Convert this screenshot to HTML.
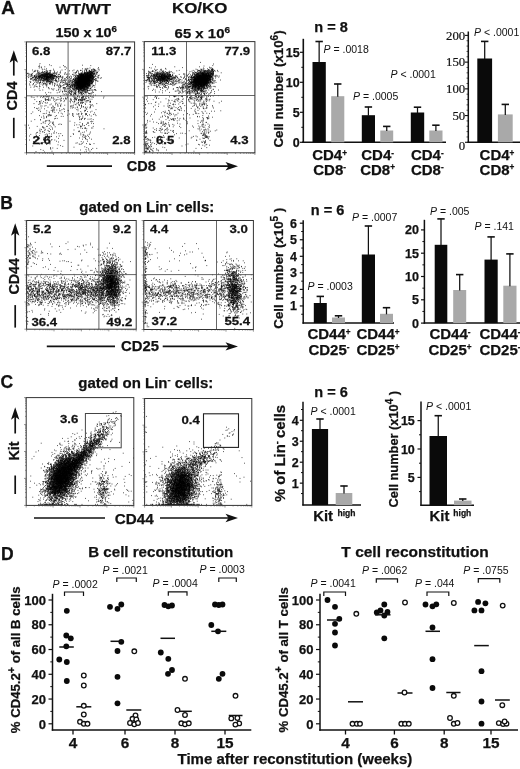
<!DOCTYPE html>
<html lang="en"><head><meta charset="utf-8"><title>Figure</title>
<style>html,body{margin:0;padding:0;background:#fff}svg{display:block}text{font-family:"Liberation Sans",sans-serif;fill:#111}text[font-weight=bold]{stroke:#111;stroke-width:.25px}text[style]{stroke:#111;stroke-width:.2px}</style>
</head><body>
<svg width="520" height="769" viewBox="0 0 520 769">
<rect width="520" height="769" fill="#fff"/>
<text transform="translate(1.3 13.8) scale(1.08 1)" font-size="17.5" font-weight="bold">A</text>
<text x="55.4" y="14.2" font-size="15.5" font-weight="bold" textLength="55.6" lengthAdjust="spacingAndGlyphs">WT/WT</text>
<text x="172" y="13.2" font-size="15.5" font-weight="bold" textLength="55.3" lengthAdjust="spacingAndGlyphs">KO/KO</text>
<text x="55.4" y="37.3" font-size="13.5" font-weight="bold" textLength="61.6" lengthAdjust="spacingAndGlyphs">150 x 10<tspan font-size="9" dy="-5">6</tspan></text>
<text x="174.6" y="38" font-size="13.5" font-weight="bold" textLength="55.4" lengthAdjust="spacingAndGlyphs">65 x 10<tspan font-size="9" dy="-5">6</tspan></text>
<path transform="scale(0.4)" d="M99 159h2M123 162h2M98 163h2m105 0h2M127 164h2m29 0h2m66 0h2M96 166h2M98 167h2m11 0h2m48 0h2m-1 0h2M102 168h2m-1 0h2m44 0h2M245 169h2M97 170h2m66 0h2m57 0h2M217 171h2M104 172h2m9 0h2m88 0h2m5 0h2m0 0h2m3 0h2m11 0h2m10 0h2M110 173h2m21 0h2m99 0h2m10 0h2M106 174h2m54 0h2m48 0h2m2 0h2m10 0h2m1 0h2m3 0h2M80 175h2m32 0h2m38 0h2m28 0h2m30 0h2m15 0h2m-1 0h2m-1 0h2m-1 0h2m9 0h2M87 176h2m3 0h2m32 0h2m6 0h2m57 0h2m5 0h2m-1 0h2m1 0h2m5 0h2m2 0h2m5 0h2m-1 0h2m2 0h2m0 0h2m5 0h2m1 0h2M94 177h2m19 0h2m0 0h2m3 0h2m0 0h2m47 0h2m6 0h2m32 0h2m5 0h2m14 0h2M85 178h2m0 0h2m16 0h2m18 0h2m23 0h2m39 0h2m2 0h2m13 0h2m3 0h2m5 0h2m3 0h2m1 0h2m2 0h2m8 0h2M86 179h2m5 0h2m15 0h2m5 0h2m16 0h2m54 0h2m12 0h2m12 0h2m2 0h2m-1 0h2m-1 0h2m-1 0h2m-1 0h2m3 0h2m-1 0h2m0 0h2m2 0h2M82 180h2m13 0h2m7 0h2m3 0h2m0 0h2m0 0h2m1 0h2m23 0h2m66 0h2m2 0h2m4 0h2m1 0h2m-1 0h2m0 0h2m-1 0h2m1 0h2m-1 0h2M95 181h2m5 0h2m1 0h2m0 0h2m0 0h2m5 0h2m5 0h2m0 0h2m8 0h2m53 0h2m19 0h2m4 0h2m-1 0h2m1 0h2m0 0h2m-1 0h2m1 0h2m-1 0h2m0 0h2m8 0h2m1 0h2M93 182h2m8 0h2m9 0h2m-1 0h2m0 0h2m0 0h2m19 0h2m7 0h2m-1 0h2m11 0h2m19 0h2m2 0h2m-1 0h2m4 0h2m6 0h2m0 0h2m2 0h2m0 0h2m-1 0h2m-1 0h2m0 0h2m0 0h2m-1 0h2m0 0h2m-1 0h2m-1 0h2m-1 0h2m1 0h2m-1 0h2m0 0h2m-1 0h2m2 0h2m3 0h2m2 0h2M69 183h2m25 0h2m0 0h2m1 0h2m4 0h2m0 0h2m3 0h2m-1 0h2m2 0h2m0 0h2m0 0h2m-1 0h2m4 0h2m1 0h2m-1 0h2m0 0h2m0 0h2m21 0h2m24 0h2m11 0h2m2 0h2m4 0h2m-1 0h2m-1 0h2m0 0h2m0 0h2m0 0h2m-1 0h2m0 0h2m2 0h2m-1 0h2m-1 0h2m0 0h2m-1 0h2m0 0h2m0 0h2m-1 0h2m-1 0h2M68 184h2m10 0h2m12 0h2m1 0h2m2 0h2m7 0h2m1 0h2m-1 0h2m1 0h2m0 0h2m-1 0h2m-1 0h2m-1 0h2m10 0h2m5 0h2m53 0h2m4 0h2m-1 0h2m1 0h2m2 0h2m-1 0h2m-1 0h2m0 0h2m-1 0h2m0 0h2m-1 0h2m0 0h2m-1 0h2m0 0h2m-1 0h2m-1 0h2m0 0h2m0 0h2m0 0h2m1 0h2m0 0h2m2 0h2M70 185h2m0 0h2m3 0h2m11 0h2m2 0h2m8 0h2m-1 0h2m1 0h2m-1 0h2m-1 0h2m-1 0h2m1 0h2m0 0h2m-1 0h2m-1 0h2m-1 0h2m-1 0h2m2 0h2m-1 0h2m-1 0h2m0 0h2m37 0h2m3 0h2m23 0h2m-1 0h2m0 0h2m1 0h2m1 0h2m-1 0h2m-1 0h2m0 0h2m0 0h2m2 0h2m-1 0h2m-1 0h2m-1 0h2m0 0h2m0 0h2m-1 0h2m-1 0h2m-1 0h2m-1 0h2m-1 0h2m1 0h2m0 0h2M78 186h2m9 0h2m7 0h2m2 0h2m0 0h2m-1 0h2m0 0h2m3 0h2m-1 0h2m0 0h2m-1 0h2m-1 0h2m-1 0h2m1 0h2m0 0h2m0 0h2m-1 0h2m-1 0h2m0 0h2m-1 0h2m8 0h2m3 0h2m1 0h2m11 0h2m3 0h2m12 0h2m0 0h2m14 0h2m-1 0h2m0 0h2m-1 0h2m-1 0h2m-1 0h2m0 0h2m-1 0h2m-1 0h2m-1 0h2m-1 0h2m0 0h2m-1 0h2m-1 0h2m0 0h2m-1 0h2m-1 0h2m-1 0h2m1 0h2m-1 0h2m-1 0h2m-1 0h2m-1 0h2m0 0h2m-1 0h2m1 0h2m-1 0h2m0 0h2m0 0h2m2 0h2M74 187h2m1 0h2m0 0h2m13 0h2m-1 0h2m4 0h2m0 0h2m0 0h2m1 0h2m-1 0h2m-1 0h2m-1 0h2m-1 0h2m-1 0h2m-1 0h2m-1 0h2m-1 0h2m-1 0h2m-1 0h2m0 0h2m0 0h2m-1 0h2m2 0h2m0 0h2m-1 0h2m0 0h2m55 0h2m5 0h2m-1 0h2m-1 0h2m-1 0h2m-1 0h2m-1 0h2m-1 0h2m0 0h2m-1 0h2m-1 0h2m0 0h2m-1 0h2m1 0h2m-1 0h2m-1 0h2m-1 0h2m-1 0h2m-1 0h2m0 0h2m-1 0h2m-1 0h2m0 0h2m-1 0h2m-1 0h2m-1 0h2m-1 0h2m1 0h2M96 188h2m2 0h2m-1 0h2m0 0h2m-1 0h2m-1 0h2m0 0h2m-1 0h2m0 0h2m1 0h2m1 0h2m-1 0h2m0 0h2m-1 0h2m0 0h2m-1 0h2m-1 0h2m-1 0h2m1 0h2m-1 0h2m-1 0h2m2 0h2m-1 0h2m-1 0h2m-1 0h2m5 0h2m39 0h2m4 0h2m5 0h2m0 0h2m0 0h2m-1 0h2m-1 0h2m-1 0h2m-1 0h2m-1 0h2m-1 0h2m0 0h2m-1 0h2m-1 0h2m0 0h2m-1 0h2m-1 0h2m-1 0h2m-1 0h2m-1 0h2m-1 0h2m-1 0h2m-1 0h2m-1 0h2m0 0h2m-1 0h2m-1 0h2m-1 0h2m-1 0h2m0 0h2m14 0h2M71 189h2m5 0h2m1 0h2m2 0h2m0 0h2m3 0h2m4 0h2m1 0h2m0 0h2m0 0h2m-1 0h2m-1 0h2m0 0h2m0 0h2m-1 0h2m0 0h2m0 0h2m0 0h2m2 0h2m1 0h2m0 0h2m-1 0h2m0 0h2m1 0h2m1 0h2m0 0h2m10 0h2m41 0h2m0 0h2m0 0h2m1 0h2m-1 0h2m-1 0h2m-1 0h2m-1 0h2m-1 0h2m-1 0h2m-1 0h2m-1 0h2m-1 0h2m0 0h2m-1 0h2m-1 0h2m-1 0h2m1 0h2m-1 0h2m-1 0h2m-1 0h2m0 0h2m-1 0h2m0 0h2m0 0h2m0 0h2m-1 0h2m-1 0h2m5 0h2m5 0h2M76 190h2m7 0h2m-1 0h2m2 0h2m-1 0h2m3 0h2m-1 0h2m0 0h2m-1 0h2m-1 0h2m1 0h2m2 0h2m0 0h2m-1 0h2m-1 0h2m-1 0h2m-1 0h2m-1 0h2m0 0h2m-1 0h2m-1 0h2m2 0h2m-1 0h2m-1 0h2m0 0h2m1 0h2m-1 0h2m-1 0h2m-1 0h2m-1 0h2m32 0h2m6 0h2m5 0h2m2 0h2m-1 0h2m1 0h2m-1 0h2m-1 0h2m0 0h2m-1 0h2m-1 0h2m0 0h2m-1 0h2m-1 0h2m-1 0h2m-1 0h2m-1 0h2m-1 0h2m-1 0h2m-1 0h2m-1 0h2m-1 0h2m0 0h2m-1 0h2m-1 0h2m-1 0h2m-1 0h2m-1 0h2m-1 0h2m-1 0h2m-1 0h2m-1 0h2m-1 0h2m-1 0h2m-1 0h2m-1 0h2m-1 0h2m-1 0h2m-1 0h2m-1 0h2m-1 0h2m-1 0h2m-1 0h2m-1 0h2m-1 0h2m-1 0h2m1 0h2m5 0h2M69 191h2m6 0h2m6 0h2m0 0h2m6 0h2m-1 0h2m-1 0h2m-1 0h2m-1 0h2m0 0h2m2 0h2m0 0h2m-1 0h2m-1 0h2m-1 0h2m0 0h2m0 0h2m-1 0h2m-1 0h2m0 0h2m-1 0h2m-1 0h2m-1 0h2m-1 0h2m1 0h2m-1 0h2m-1 0h2m0 0h2m4 0h2m2 0h2m-1 0h2m4 0h2m-1 0h2m1 0h2m-1 0h2m3 0h2m30 0h2m4 0h2m0 0h2m2 0h2m-1 0h2m-1 0h2m-1 0h2m-1 0h2m-1 0h2m-1 0h2m-1 0h2m-1 0h2m-1 0h2m-1 0h2m-1 0h2m-1 0h2m-1 0h2m-1 0h2m-1 0h2m-1 0h2m0 0h2m-1 0h2m-1 0h2m-1 0h2m-1 0h2m-1 0h2m-1 0h2m-1 0h2m-1 0h2m1 0h2m-1 0h2m-1 0h2m3 0h2m1 0h2M74 192h2m9 0h2m3 0h2m-1 0h2m0 0h2m0 0h2m0 0h2m1 0h2m0 0h2m-1 0h2m-1 0h2m-1 0h2m1 0h2m0 0h2m-1 0h2m-1 0h2m-1 0h2m0 0h2m-1 0h2m0 0h2m-1 0h2m-1 0h2m-1 0h2m0 0h2m-1 0h2m-1 0h2m-1 0h2m0 0h2m-1 0h2m0 0h2m-1 0h2m1 0h2m-1 0h2m0 0h2m-1 0h2m0 0h2m1 0h2m0 0h2m2 0h2m16 0h2m3 0h2m3 0h2m14 0h2m-1 0h2m-1 0h2m-1 0h2m-1 0h2m-1 0h2m-1 0h2m-1 0h2m-1 0h2m-1 0h2m-1 0h2m-1 0h2m-1 0h2m-1 0h2m-1 0h2m0 0h2m-1 0h2m-1 0h2m-1 0h2m-1 0h2m-1 0h2m-1 0h2m-1 0h2m-1 0h2m-1 0h2m-1 0h2m-1 0h2m-1 0h2m-1 0h2m-1 0h2m-1 0h2m0 0h2m-1 0h2m0 0h2m-1 0h2M80 193h2m0 0h2m-1 0h2m3 0h2m1 0h2m2 0h2m-1 0h2m0 0h2m-1 0h2m0 0h2m-1 0h2m1 0h2m3 0h2m0 0h2m0 0h2m-1 0h2m-1 0h2m-1 0h2m-1 0h2m-1 0h2m-1 0h2m-1 0h2m-1 0h2m-1 0h2m-1 0h2m-1 0h2m-1 0h2m-1 0h2m0 0h2m0 0h2m0 0h2m5 0h2m-1 0h2m0 0h2m2 0h2m7 0h2m7 0h2m22 0h2m1 0h2m1 0h2m0 0h2m-1 0h2m-1 0h2m-1 0h2m-1 0h2m-1 0h2m-1 0h2m-1 0h2m-1 0h2m-1 0h2m-1 0h2m-1 0h2m-1 0h2m-1 0h2m-1 0h2m-1 0h2m-1 0h2m-1 0h2m-1 0h2m-1 0h2m-1 0h2m-1 0h2m-1 0h2m-1 0h2m-1 0h2m-1 0h2m-1 0h2m-1 0h2m-1 0h2m-1 0h2m-1 0h2m-1 0h2m1 0h2m-1 0h2m-1 0h2m-1 0h2m-1 0h2m6 0h2m0 0h2M70 194h2m9 0h2m4 0h2m2 0h2m5 0h2m1 0h2m-1 0h2m0 0h2m-1 0h2m0 0h2m1 0h2m2 0h2m-1 0h2m-1 0h2m-1 0h2m-1 0h2m0 0h2m1 0h2m-1 0h2m3 0h2m0 0h2m1 0h2m16 0h2m12 0h2m5 0h2m11 0h2m3 0h2m1 0h2m-1 0h2m-1 0h2m-1 0h2m-1 0h2m-1 0h2m-1 0h2m-1 0h2m-1 0h2m-1 0h2m-1 0h2m-1 0h2m-1 0h2m-1 0h2m-1 0h2m-1 0h2m0 0h2m-1 0h2m-1 0h2m-1 0h2m-1 0h2m-1 0h2m-1 0h2m-1 0h2m-1 0h2m0 0h2m-1 0h2m-1 0h2m-1 0h2m-1 0h2m-1 0h2m-1 0h2m1 0h2m1 0h2m17 0h2M81 195h2m1 0h2m1 0h2m-1 0h2m-1 0h2m3 0h2m0 0h2m-1 0h2m-1 0h2m2 0h2m-1 0h2m-1 0h2m0 0h2m0 0h2m-1 0h2m0 0h2m1 0h2m-1 0h2m-1 0h2m1 0h2m-1 0h2m-1 0h2m-1 0h2m-1 0h2m0 0h2m1 0h2m-1 0h2m0 0h2m-1 0h2m21 0h2m-1 0h2m20 0h2m7 0h2m0 0h2m0 0h2m0 0h2m-1 0h2m0 0h2m-1 0h2m-1 0h2m-1 0h2m-1 0h2m0 0h2m-1 0h2m-1 0h2m-1 0h2m-1 0h2m-1 0h2m-1 0h2m-1 0h2m-1 0h2m-1 0h2m-1 0h2m-1 0h2m-1 0h2m-1 0h2m-1 0h2m-1 0h2m-1 0h2m-1 0h2m-1 0h2m-1 0h2m-1 0h2m-1 0h2m0 0h2m0 0h2m-1 0h2m1 0h2m0 0h2m11 0h2M75 196h2m1 0h2m-1 0h2m11 0h2m-1 0h2m2 0h2m5 0h2m2 0h2m-1 0h2m0 0h2m0 0h2m-1 0h2m-1 0h2m-1 0h2m-1 0h2m-1 0h2m0 0h2m3 0h2m0 0h2m2 0h2m0 0h2m0 0h2m8 0h2m-1 0h2m14 0h2m4 0h2m6 0h2m14 0h2m-1 0h2m-1 0h2m-1 0h2m-1 0h2m0 0h2m-1 0h2m-1 0h2m-1 0h2m-1 0h2m-1 0h2m-1 0h2m-1 0h2m-1 0h2m-1 0h2m-1 0h2m-1 0h2m-1 0h2m-1 0h2m-1 0h2m-1 0h2m-1 0h2m-1 0h2m-1 0h2m-1 0h2m-1 0h2m-1 0h2m-1 0h2m-1 0h2m-1 0h2m-1 0h2m-1 0h2m-1 0h2m0 0h2m-1 0h2m-1 0h2m-1 0h2m-1 0h2m-1 0h2m3 0h2m2 0h2m8 0h2M87 197h2m3 0h2m2 0h2m3 0h2m0 0h2m1 0h2m-1 0h2m0 0h2m0 0h2m1 0h2m-1 0h2m-1 0h2m-1 0h2m2 0h2m1 0h2m1 0h2m2 0h2m-1 0h2m-1 0h2m3 0h2m0 0h2m18 0h2m21 0h2m-1 0h2m1 0h2m-1 0h2m-1 0h2m-1 0h2m-1 0h2m-1 0h2m-1 0h2m0 0h2m-1 0h2m-1 0h2m-1 0h2m-1 0h2m-1 0h2m-1 0h2m-1 0h2m-1 0h2m-1 0h2m-1 0h2m-1 0h2m-1 0h2m-1 0h2m-1 0h2m-1 0h2m-1 0h2m-1 0h2m-1 0h2m-1 0h2m-1 0h2m-1 0h2m-1 0h2m-1 0h2m-1 0h2m-1 0h2m-1 0h2m-1 0h2m0 0h2m0 0h2m2 0h2m0 0h2m4 0h2M78 198h2m9 0h2m0 0h2m5 0h2m0 0h2m0 0h2m0 0h2m1 0h2m3 0h2m1 0h2m-1 0h2m-1 0h2m0 0h2m1 0h2m-1 0h2m1 0h2m-1 0h2m0 0h2m1 0h2m12 0h2m6 0h2m17 0h2m1 0h2m6 0h2m1 0h2m-1 0h2m4 0h2m0 0h2m-1 0h2m-1 0h2m0 0h2m-1 0h2m-1 0h2m-1 0h2m-1 0h2m-1 0h2m-1 0h2m-1 0h2m-1 0h2m-1 0h2m-1 0h2m-1 0h2m-1 0h2m-1 0h2m-1 0h2m-1 0h2m-1 0h2m-1 0h2m-1 0h2m-1 0h2m-1 0h2m-1 0h2m-1 0h2m-1 0h2m1 0h2m2 0h2m-1 0h2M75 199h2m7 0h2m-1 0h2m0 0h2m6 0h2m5 0h2m5 0h2m-1 0h2m0 0h2m-1 0h2m-1 0h2m0 0h2m-1 0h2m-1 0h2m0 0h2m2 0h2m2 0h2m0 0h2m6 0h2m13 0h2m27 0h2m-1 0h2m-1 0h2m1 0h2m1 0h2m0 0h2m-1 0h2m0 0h2m-1 0h2m-1 0h2m-1 0h2m-1 0h2m-1 0h2m-1 0h2m-1 0h2m-1 0h2m-1 0h2m-1 0h2m-1 0h2m-1 0h2m-1 0h2m-1 0h2m-1 0h2m-1 0h2m-1 0h2m-1 0h2m-1 0h2m-1 0h2m-1 0h2m-1 0h2m-1 0h2m-1 0h2m-1 0h2m-1 0h2m-1 0h2m-1 0h2m1 0h2m-1 0h2m-1 0h2m0 0h2m1 0h2m0 0h2m-1 0h2M80 200h2m2 0h2m3 0h2m-1 0h2m7 0h2m8 0h2m0 0h2m-1 0h2m3 0h2m1 0h2m1 0h2m20 0h2m12 0h2m1 0h2m0 0h2m0 0h2m12 0h2m6 0h2m1 0h2m0 0h2m0 0h2m-1 0h2m-1 0h2m-1 0h2m-1 0h2m-1 0h2m-1 0h2m-1 0h2m-1 0h2m-1 0h2m-1 0h2m-1 0h2m-1 0h2m-1 0h2m-1 0h2m-1 0h2m-1 0h2m-1 0h2m-1 0h2m-1 0h2m-1 0h2m-1 0h2m-1 0h2m-1 0h2m-1 0h2m-1 0h2m-1 0h2m-1 0h2m-1 0h2m-1 0h2m-1 0h2m-1 0h2m-1 0h2m2 0h2m1 0h2m2 0h2m0 0h2M89 201h2m6 0h2m3 0h2m1 0h2m1 0h2m-1 0h2m6 0h2m-1 0h2m-1 0h2m0 0h2m3 0h2m4 0h2m2 0h2m0 0h2m-1 0h2m-1 0h2m15 0h2m1 0h2m13 0h2m2 0h2m4 0h2m-1 0h2m-1 0h2m1 0h2m1 0h2m-1 0h2m-1 0h2m-1 0h2m-1 0h2m-1 0h2m-1 0h2m-1 0h2m-1 0h2m-1 0h2m-1 0h2m-1 0h2m-1 0h2m-1 0h2m-1 0h2m-1 0h2m-1 0h2m-1 0h2m-1 0h2m-1 0h2m-1 0h2m-1 0h2m-1 0h2m-1 0h2m-1 0h2m-1 0h2m-1 0h2m-1 0h2m-1 0h2m-1 0h2m-1 0h2m0 0h2m-1 0h2m-1 0h2m-1 0h2m0 0h2m0 0h2m4 0h2m1 0h2M83 202h2m2 0h2m4 0h2m0 0h2m3 0h2m-1 0h2m2 0h2m2 0h2m1 0h2m0 0h2m-1 0h2m0 0h2m2 0h2m4 0h2m1 0h2m7 0h2m8 0h2m1 0h2m0 0h2m15 0h2m-1 0h2m5 0h2m4 0h2m0 0h2m-1 0h2m0 0h2m-1 0h2m-1 0h2m0 0h2m-1 0h2m-1 0h2m-1 0h2m-1 0h2m-1 0h2m-1 0h2m-1 0h2m-1 0h2m-1 0h2m-1 0h2m-1 0h2m-1 0h2m-1 0h2m-1 0h2m-1 0h2m-1 0h2m-1 0h2m-1 0h2m-1 0h2m-1 0h2m-1 0h2m-1 0h2m-1 0h2m-1 0h2m-1 0h2m-1 0h2m-1 0h2m-1 0h2m-1 0h2m-1 0h2m-1 0h2m1 0h2M89 203h2m4 0h2m10 0h2m0 0h2m4 0h2m3 0h2m1 0h2m-1 0h2m-1 0h2m0 0h2m0 0h2m9 0h2m2 0h2m10 0h2m5 0h2m9 0h2m-1 0h2m6 0h2m1 0h2m-1 0h2m-1 0h2m0 0h2m-1 0h2m-1 0h2m-1 0h2m-1 0h2m-1 0h2m-1 0h2m-1 0h2m-1 0h2m-1 0h2m-1 0h2m-1 0h2m-1 0h2m-1 0h2m-1 0h2m-1 0h2m-1 0h2m-1 0h2m-1 0h2m-1 0h2m-1 0h2m-1 0h2m-1 0h2m-1 0h2m-1 0h2m-1 0h2m-1 0h2m-1 0h2m-1 0h2m-1 0h2m-1 0h2m-1 0h2m-1 0h2m-1 0h2m-1 0h2m-1 0h2m0 0h2m-1 0h2m-1 0h2m-1 0h2m1 0h2m7 0h2m0 0h2M74 204h2m41 0h2m-1 0h2m0 0h2m1 0h2m3 0h2m9 0h2m3 0h2m33 0h2m1 0h2m0 0h2m4 0h2m1 0h2m0 0h2m-1 0h2m-1 0h2m-1 0h2m-1 0h2m-1 0h2m-1 0h2m-1 0h2m-1 0h2m-1 0h2m-1 0h2m-1 0h2m-1 0h2m-1 0h2m-1 0h2m-1 0h2m-1 0h2m-1 0h2m-1 0h2m-1 0h2m-1 0h2m-1 0h2m-1 0h2m-1 0h2m-1 0h2m-1 0h2m0 0h2m2 0h2m-1 0h2m0 0h2m1 0h2M76 205h2m14 0h2m6 0h2m7 0h2m4 0h2m-1 0h2m5 0h2m1 0h2m4 0h2m18 0h2m8 0h2m5 0h2m2 0h2m5 0h2m-1 0h2m3 0h2m0 0h2m-1 0h2m-1 0h2m-1 0h2m-1 0h2m-1 0h2m0 0h2m-1 0h2m-1 0h2m-1 0h2m-1 0h2m-1 0h2m-1 0h2m-1 0h2m-1 0h2m-1 0h2m0 0h2m-1 0h2m-1 0h2m-1 0h2m-1 0h2m-1 0h2m-1 0h2m-1 0h2m-1 0h2m-1 0h2m-1 0h2m-1 0h2m-1 0h2m-1 0h2m-1 0h2m0 0h2m-1 0h2m-1 0h2m0 0h2m-1 0h2m2 0h2m5 0h2M75 206h2m9 0h2m3 0h2m7 0h2m-1 0h2m2 0h2m12 0h2m4 0h2m0 0h2m1 0h2m19 0h2m5 0h2m-1 0h2m10 0h2m5 0h2m6 0h2m-1 0h2m-1 0h2m-1 0h2m-1 0h2m0 0h2m-1 0h2m-1 0h2m-1 0h2m-1 0h2m-1 0h2m-1 0h2m-1 0h2m-1 0h2m-1 0h2m-1 0h2m-1 0h2m-1 0h2m-1 0h2m-1 0h2m-1 0h2m-1 0h2m-1 0h2m-1 0h2m-1 0h2m-1 0h2m-1 0h2m-1 0h2m-1 0h2m-1 0h2m-1 0h2m0 0h2m0 0h2m0 0h2m-1 0h2m3 0h2m-1 0h2m-1 0h2M96 207h2m0 0h2m29 0h2m11 0h2m6 0h2m3 0h2m7 0h2m8 0h2m4 0h2m-1 0h2m3 0h2m-1 0h2m-1 0h2m-1 0h2m-1 0h2m-1 0h2m-1 0h2m-1 0h2m-1 0h2m-1 0h2m-1 0h2m-1 0h2m-1 0h2m-1 0h2m-1 0h2m-1 0h2m-1 0h2m-1 0h2m-1 0h2m-1 0h2m-1 0h2m-1 0h2m-1 0h2m-1 0h2m-1 0h2m-1 0h2m-1 0h2m-1 0h2m-1 0h2m-1 0h2m0 0h2m-1 0h2m-1 0h2m-1 0h2m-1 0h2m-1 0h2m-1 0h2m-1 0h2m0 0h2m0 0h2m-1 0h2M92 208h2m4 0h2m10 0h2m0 0h2m2 0h2m4 0h2m1 0h2m3 0h2m4 0h2m26 0h2m1 0h2m5 0h2m7 0h2m1 0h2m0 0h2m-1 0h2m0 0h2m-1 0h2m-1 0h2m-1 0h2m0 0h2m-1 0h2m-1 0h2m-1 0h2m-1 0h2m-1 0h2m-1 0h2m-1 0h2m-1 0h2m-1 0h2m-1 0h2m-1 0h2m-1 0h2m-1 0h2m-1 0h2m-1 0h2m-1 0h2m-1 0h2m-1 0h2m-1 0h2m-1 0h2m-1 0h2m-1 0h2m-1 0h2m-1 0h2m-1 0h2m-1 0h2m2 0h2m-1 0h2m1 0h2M83 209h2m23 0h2m3 0h2m8 0h2m39 0h2m11 0h2m2 0h2m5 0h2m0 0h2m-1 0h2m-1 0h2m-1 0h2m-1 0h2m-1 0h2m-1 0h2m-1 0h2m-1 0h2m-1 0h2m-1 0h2m-1 0h2m-1 0h2m-1 0h2m-1 0h2m-1 0h2m-1 0h2m-1 0h2m-1 0h2m-1 0h2m-1 0h2m-1 0h2m-1 0h2m-1 0h2m-1 0h2m-1 0h2m-1 0h2m-1 0h2m-1 0h2m-1 0h2m-1 0h2m0 0h2m-1 0h2m1 0h2m-1 0h2m-1 0h2m-1 0h2M73 210h2m8 0h2m14 0h2m3 0h2m2 0h2m-1 0h2m6 0h2m4 0h2m0 0h2m8 0h2m0 0h2m9 0h2m11 0h2m4 0h2m-1 0h2m15 0h2m-1 0h2m-1 0h2m-1 0h2m1 0h2m0 0h2m-1 0h2m0 0h2m-1 0h2m-1 0h2m-1 0h2m-1 0h2m-1 0h2m-1 0h2m-1 0h2m-1 0h2m-1 0h2m-1 0h2m-1 0h2m-1 0h2m-1 0h2m-1 0h2m-1 0h2m-1 0h2m-1 0h2m-1 0h2m-1 0h2m-1 0h2m-1 0h2m-1 0h2m-1 0h2m2 0h2m0 0h2m11 0h2M89 211h2m71 0h2m1 0h2m0 0h2m2 0h2m-1 0h2m-1 0h2m3 0h2m2 0h2m0 0h2m-1 0h2m2 0h2m0 0h2m-1 0h2m-1 0h2m-1 0h2m-1 0h2m-1 0h2m-1 0h2m-1 0h2m-1 0h2m-1 0h2m-1 0h2m-1 0h2m-1 0h2m-1 0h2m-1 0h2m-1 0h2m-1 0h2m-1 0h2m-1 0h2m-1 0h2m-1 0h2m-1 0h2m-1 0h2m-1 0h2m-1 0h2m-1 0h2m-1 0h2m-1 0h2m-1 0h2m-1 0h2m-1 0h2m-1 0h2m-1 0h2m-1 0h2m3 0h2M81 212h2m30 0h2m0 0h2m-1 0h2m12 0h2m11 0h2m13 0h2m8 0h2m-1 0h2m2 0h2m-1 0h2m3 0h2m-1 0h2m0 0h2m0 0h2m0 0h2m0 0h2m-1 0h2m-1 0h2m-1 0h2m-1 0h2m-1 0h2m-1 0h2m-1 0h2m-1 0h2m0 0h2m-1 0h2m-1 0h2m-1 0h2m-1 0h2m-1 0h2m-1 0h2m-1 0h2m-1 0h2m-1 0h2m-1 0h2m-1 0h2m-1 0h2m-1 0h2m0 0h2m-1 0h2m0 0h2m0 0h2m0 0h2m0 0h2m0 0h2M74 213h2m22 0h2m6 0h2m33 0h2m5 0h2m0 0h2m7 0h2m6 0h2m6 0h2m4 0h2m-1 0h2m0 0h2m2 0h2m0 0h2m-1 0h2m0 0h2m-1 0h2m-1 0h2m-1 0h2m0 0h2m-1 0h2m-1 0h2m-1 0h2m-1 0h2m-1 0h2m-1 0h2m-1 0h2m-1 0h2m-1 0h2m-1 0h2m-1 0h2m-1 0h2m-1 0h2m-1 0h2m-1 0h2m0 0h2m-1 0h2m-1 0h2m-1 0h2m-1 0h2m-1 0h2m-1 0h2m-1 0h2m-1 0h2m-1 0h2m6 0h2M116 214h2m17 0h2m7 0h2m5 0h2m3 0h2m10 0h2m8 0h2m0 0h2m3 0h2m-1 0h2m-1 0h2m0 0h2m-1 0h2m0 0h2m-1 0h2m-1 0h2m-1 0h2m-1 0h2m-1 0h2m-1 0h2m-1 0h2m-1 0h2m-1 0h2m0 0h2m-1 0h2m0 0h2m-1 0h2m-1 0h2m-1 0h2m-1 0h2m-1 0h2m0 0h2m-1 0h2m1 0h2m0 0h2m-1 0h2m-1 0h2m-1 0h2m-1 0h2m1 0h2m5 0h2m1 0h2M85 215h2m0 0h2m46 0h2m31 0h2m0 0h2m-1 0h2m3 0h2m-1 0h2m2 0h2m1 0h2m-1 0h2m0 0h2m0 0h2m1 0h2m-1 0h2m-1 0h2m-1 0h2m-1 0h2m-1 0h2m0 0h2m-1 0h2m-1 0h2m-1 0h2m-1 0h2m-1 0h2m-1 0h2m-1 0h2m-1 0h2m-1 0h2m-1 0h2m0 0h2m-1 0h2m-1 0h2m-1 0h2m-1 0h2m-1 0h2m0 0h2m-1 0h2m10 0h2M90 216h2m7 0h2m44 0h2m3 0h2m0 0h2m11 0h2m8 0h2m-1 0h2m2 0h2m-1 0h2m2 0h2m1 0h2m1 0h2m1 0h2m-1 0h2m-1 0h2m-1 0h2m-1 0h2m-1 0h2m-1 0h2m-1 0h2m-1 0h2m-1 0h2m-1 0h2m-1 0h2m-1 0h2m-1 0h2m-1 0h2m-1 0h2m-1 0h2m-1 0h2m-1 0h2m-1 0h2m0 0h2m-1 0h2m1 0h2m0 0h2m0 0h2m1 0h2M92 217h2m4 0h2m16 0h2m48 0h2m5 0h2m-1 0h2m8 0h2m0 0h2m1 0h2m-1 0h2m-1 0h2m0 0h2m-1 0h2m-1 0h2m-1 0h2m-1 0h2m-1 0h2m-1 0h2m-1 0h2m-1 0h2m-1 0h2m-1 0h2m0 0h2m-1 0h2m-1 0h2m-1 0h2m1 0h2m-1 0h2m-1 0h2m-1 0h2m-1 0h2m-1 0h2m0 0h2m1 0h2m7 0h2M76 218h2m6 0h2m22 0h2m37 0h2m1 0h2m22 0h2m-1 0h2m4 0h2m1 0h2m0 0h2m2 0h2m-1 0h2m-1 0h2m-1 0h2m-1 0h2m-1 0h2m0 0h2m0 0h2m-1 0h2m0 0h2m-1 0h2m-1 0h2m-1 0h2m-1 0h2m-1 0h2m0 0h2m-1 0h2m-1 0h2m0 0h2m-1 0h2m0 0h2m-1 0h2m0 0h2m15 0h2M120 219h2m35 0h2m-1 0h2m0 0h2m16 0h2m6 0h2m1 0h2m-1 0h2m-1 0h2m-1 0h2m1 0h2m-1 0h2m-1 0h2m-1 0h2m0 0h2m-1 0h2m-1 0h2m0 0h2m-1 0h2m-1 0h2m-1 0h2m0 0h2m-1 0h2m4 0h2m-1 0h2m-1 0h2m1 0h2m4 0h2M121 220h2m23 0h2m1 0h2m10 0h2m-1 0h2m-1 0h2m9 0h2m0 0h2m3 0h2m2 0h2m1 0h2m-1 0h2m-1 0h2m-1 0h2m-1 0h2m-1 0h2m1 0h2m-1 0h2m-1 0h2m-1 0h2m-1 0h2m-1 0h2m-1 0h2m-1 0h2m1 0h2m-1 0h2m-1 0h2m-1 0h2m-1 0h2m0 0h2m-1 0h2m1 0h2m-1 0h2m1 0h2M159 221h2m8 0h2m0 0h2m-1 0h2m7 0h2m-1 0h2m5 0h2m-1 0h2m1 0h2m0 0h2m0 0h2m-1 0h2m-1 0h2m-1 0h2m0 0h2m-1 0h2m-1 0h2m-1 0h2m-1 0h2m1 0h2m0 0h2m1 0h2m0 0h2m-1 0h2m2 0h2m1 0h2m-1 0h2m-1 0h2M97 222h2m23 0h2m4 0h2m4 0h2m21 0h2m8 0h2m11 0h2m3 0h2m0 0h2m0 0h2m0 0h2m-1 0h2m0 0h2m0 0h2m2 0h2m-1 0h2m-1 0h2m-1 0h2m0 0h2m0 0h2m-1 0h2m-1 0h2m-1 0h2m6 0h2M131 223h2m31 0h2m6 0h2m8 0h2m-1 0h2m2 0h2m2 0h2m-1 0h2m-1 0h2m0 0h2m-1 0h2m1 0h2m0 0h2m-1 0h2m0 0h2m1 0h2m1 0h2m-1 0h2m0 0h2m0 0h2m1 0h2M146 224h2m13 0h2m12 0h2m5 0h2m1 0h2m8 0h2m-1 0h2m-1 0h2m0 0h2m-1 0h2m-1 0h2m-1 0h2m3 0h2m-1 0h2m1 0h2m-1 0h2m2 0h2m17 0h2m0 0h2M86 225h2m18 0h2m24 0h2m11 0h2m4 0h2m33 0h2m1 0h2m-1 0h2m4 0h2m-1 0h2m3 0h2m1 0h2m2 0h2m-1 0h2m-1 0h2m0 0h2m-1 0h2m0 0h2m4 0h2m1 0h2m1 0h2m0 0h2m2 0h2m2 0h2M99 226h2m40 0h2m17 0h2m11 0h2m3 0h2m16 0h2m1 0h2m2 0h2m0 0h2m-1 0h2m0 0h2m7 0h2m-1 0h2m0 0h2m1 0h2m14 0h2M164 227h2m16 0h2m2 0h2m-1 0h2m6 0h2m0 0h2m0 0h2m2 0h2m2 0h2m0 0h2m1 0h2m3 0h2m-1 0h2M156 228h2m15 0h2m0 0h2m-1 0h2m0 0h2m1 0h2m5 0h2m-1 0h2m3 0h2m-1 0h2m-1 0h2m0 0h2m0 0h2m4 0h2m3 0h2m4 0h2m11 0h2M149 229h2m4 0h2m4 0h2m-1 0h2m1 0h2m3 0h2m7 0h2m14 0h2m9 0h2m1 0h2m1 0h2m0 0h2m37 0h2M155 230h2m20 0h2m8 0h2m14 0h2m11 0h2M121 231h2m24 0h2m20 0h2m2 0h2m3 0h2m2 0h2m2 0h2m8 0h2m2 0h2m0 0h2m1 0h2m5 0h2m-1 0h2m1 0h2m1 0h2m12 0h2M113 232h2m11 0h2m14 0h2m44 0h2m1 0h2m2 0h2m2 0h2m-1 0h2m1 0h2m6 0h2m14 0h2m1 0h2M172 233h2m0 0h2m9 0h2m1 0h2m8 0h2m8 0h2m4 0h2M164 234h2m10 0h2m7 0h2m0 0h2m-1 0h2m13 0h2m-1 0h2m2 0h2m10 0h2m0 0h2m-1 0h2m1 0h2M157 235h2m17 0h2m0 0h2m2 0h2m0 0h2m10 0h2m3 0h2m0 0h2m22 0h2M115 236h2m44 0h2m6 0h2m16 0h2m0 0h2m14 0h2M165 237h2m9 0h2m0 0h2m3 0h2m26 0h2M176 238h2m16 0h2m7 0h2m10 0h2m7 0h2m7 0h2m3 0h2M220 239h2M113 240h2m8 0h2m43 0h2m11 0h2m0 0h2m0 0h2m7 0h2m9 0h2m0 0h2m5 0h2m5 0h2m3 0h2M102 241h2m4 0h2m7 0h2m2 0h2m27 0h2m41 0h2m11 0h2m0 0h2m-1 0h2m6 0h2m7 0h2M77 242h2m13 0h2m14 0h2m1 0h2m2 0h2m0 0h2m74 0h2m3 0h2m7 0h2m5 0h2m15 0h2m26 0h2M79 243h2m19 0h2m19 0h2m5 0h2m56 0h2m0 0h2m7 0h2m5 0h2m7 0h2m14 0h2m2 0h2M84 244h2m20 0h2m24 0h2m10 0h2m22 0h2m14 0h2m17 0h2m-1 0h2m-1 0h2m1 0h2m11 0h2M128 245h2m22 0h2m9 0h2m25 0h2m29 0h2m35 0h2M112 246h2m6 0h2m10 0h2m18 0h2m9 0h2m1 0h2m8 0h2m8 0h2m0 0h2m2 0h2m10 0h2m9 0h2M158 247h2m25 0h2m15 0h2m2 0h2m1 0h2m2 0h2M113 248h2m9 0h2m10 0h2m11 0h2m36 0h2m0 0h2m7 0h2m4 0h2m3 0h2m0 0h2m11 0h2m3 0h2M86 249h2m24 0h2m2 0h2m0 0h2m0 0h2m19 0h2m1 0h2m18 0h2m9 0h2m7 0h2m3 0h2m-1 0h2m3 0h2m2 0h2m-1 0h2m5 0h2m1 0h2M114 250h2m3 0h2m12 0h2m16 0h2m24 0h2m-1 0h2m10 0h2m3 0h2m3 0h2m1 0h2m-1 0h2m-1 0h2m-1 0h2m3 0h2M113 251h2m5 0h2m2 0h2m13 0h2m11 0h2m6 0h2m24 0h2m7 0h2m6 0h2m1 0h2m9 0h2m1 0h2M102 252h2m92 0h2m1 0h2m0 0h2m13 0h2m-1 0h2M151 253h2m21 0h2m-1 0h2m35 0h2m8 0h2m1 0h2M91 254h2m5 0h2m-1 0h2m7 0h2m26 0h2m21 0h2m20 0h2m2 0h2m-1 0h2m16 0h2m19 0h2M98 255h2m116 0h2m7 0h2M112 256h2m81 0h2m7 0h2m0 0h2m0 0h2m14 0h2M101 257h2m15 0h2m55 0h2m7 0h2m9 0h2m3 0h2m0 0h2M105 258h2m7 0h2m22 0h2m1 0h2m4 0h2m42 0h2m1 0h2m4 0h2m2 0h2m-1 0h2m5 0h2M84 259h2m13 0h2m140 0h2M99 260h2m26 0h2m23 0h2M96 261h2m89 0h2m24 0h2m9 0h2M124 262h2m12 0h2m3 0h2m44 0h2m4 0h2m1 0h2m30 0h2M144 263h2m4 0h2m9 0h2m20 0h2m18 0h2m21 0h2m-1 0h2M114 264h2m63 0h2m17 0h2m3 0h2M101 265h2m1 0h2m5 0h2m18 0h2m17 0h2m-1 0h2m23 0h2m54 0h2M132 266h2m10 0h2m30 0h2m25 0h2m20 0h2M179 267h2m26 0h2m-1 0h2M119 268h2m62 0h2m7 0h2m-1 0h2m8 0h2m8 0h2m2 0h2m5 0h2m-1 0h2M85 269h2m42 0h2m3 0h2m0 0h2M96 270h2m4 0h2m24 0h2m46 0h2m2 0h2m5 0h2m23 0h2m10 0h2M90 271h2m42 0h2m64 0h2M93 272h2m15 0h2m36 0h2m8 0h2m55 0h2M131 273h2m27 0h2m32 0h2m20 0h2M134 274h2m18 0h2m35 0h2m46 0h2M99 275h2m33 0h2m5 0h2M95 276h2m30 0h2m1 0h2m37 0h2m40 0h2m-1 0h2m-1 0h2M116 277h2m16 0h2m12 0h2m1 0h2m17 0h2m22 0h2M130 278h2m97 0h2M100 279h2m58 0h2m39 0h2m8 0h2m5 0h2M81 280h2m39 0h2m7 0h2m92 0h2M136 281h2M123 282h2m20 0h2m88 0h2M115 283h2m35 0h2m49 0h2M77 284h2m28 0h2m2 0h2m67 0h2m14 0h2m6 0h2m7 0h2m0 0h2M155 285h2m15 0h2m8 0h2m7 0h2m3 0h2M194 286h2m7 0h2m9 0h2m-1 0h2m16 0h2m2 0h2M120 287h2m1 0h2m-1 0h2m54 0h2m31 0h2m8 0h2M119 288h2m3 0h2m2 0h2m38 0h2M98 289h2m25 0h2m13 0h2m39 0h2m35 0h2m19 0h2M108 290h2m11 0h2m73 0h2m8 0h2m19 0h2M116 291h2m19 0h2m13 0h2m3 0h2m24 0h2m14 0h2M115 292h2M103 293h2m4 0h2m87 0h2m6 0h2M115 294h2M198 295h2M109 296h2m27 0h2m2 0h2m61 0h2m5 0h2M135 297h2m65 0h2m6 0h2m15 0h2M203 298h2m5 0h2m7 0h2m3 0h2M86 299h2m12 0h2m96 0h2m2 0h2m28 0h2M100 300h2M119 301h2m2 0h2M113 302h2m0 0h2M77 303h2m43 0h2m50 0h2m52 0h2M112 304h2m112 0h2m3 0h2M107 305h2m17 0h2m4 0h2M131 306h2m66 0h2m18 0h2M107 307h2m77 0h2M112 308h2m9 0h2m7 0h2m84 0h2m0 0h2m6 0h2M102 309h2m26 0h2m73 0h2m26 0h2M149 310h2M120 311h2m11 0h2m11 0h2m5 0h2m50 0h2m8 0h2M191 312h2m4 0h2M70 313h2m62 0h2m49 0h2M124 314h2m80 0h2m2 0h2m9 0h2M201 315h2M92 316h2m22 0h2m-1 0h2m82 0h2m-1 0h2m28 0h2M105 317h2m20 0h2m8 0h2m62 0h2M106 318h2m-1 0h2M194 319h2m16 0h2M73 320h2m33 0h2m1 0h2m17 0h2m69 0h2m25 0h2m1 0h2M122 321h2m81 0h2m4 0h2m0 0h2M216 322h2m41 0h2M99 323h2m29 0h2M103 324h2m7 0h2m11 0h2M184 325h2M111 326h2m6 0h2M98 327h2m97 0h2m16 0h2M100 328h2m19 0h2m12 0h2M106 329h2m15 0h2m70 0h2m1 0h2M106 330h2m102 0h2m13 0h2M93 331h2m15 0h2m94 0h2M90 332h2m42 0h2m4 0h2M99 333h2m33 0h2m65 0h2m21 0h2M122 334h2m22 0h2m3 0h2m29 0h2M89 335h2m25 0h2m10 0h2M76 336h2m105 0h2m22 0h2m13 0h2M112 337h2m4 0h2m81 0h2M207 338h2m0 0h2m7 0h2M90 339h2m6 0h2m18 0h2m35 0h2M73 340h2m72 0h2m64 0h2M118 341h2m2 0h2m0 0h2m1 0h2m-1 0h2m46 0h2m36 0h2m4 0h2M140 342h2m63 0h2M112 343h2m95 0h2m0 0h2M120 344h2M98 345h2m8 0h2m11 0h2m75 0h2m13 0h2m8 0h2M118 346h2m2 0h2m21 0h2m66 0h2M97 347h2M108 348h2m10 0h2m83 0h2m7 0h2m12 0h2M108 349h2m19 0h2m86 0h2M73 350h2m14 0h2m37 0h2m6 0h2M109 351h2m48 0h2M140 353h2m76 0h2M83 354h2m117 0h2M145 355h2m61 0h2M107 356h2M192 357h2M124 358h2m63 0h2m14 0h2M99 359h2m114 0h2m17 0h2M98 360h2m24 0h2m71 0h2m4 0h2m18 0h2M115 361h2m82 0h2m23 0h2m-1 0h2M144 362h2M150 364h2M81 365h2M156 366h2M211 367h2M184 368h2M125 369h2m89 0h2M131 370h2M125 371h2m15 0h2m87 0h2m8 0h2M220 372h2M126 373h2M101 374h2m111 0h2m12 0h2M200 375h2m19 0h2M107 376h2M129 378h2m84 0h2m7 0h2M89 379h2M110 380h2m99 0h2" stroke="#000" stroke-width="2" fill="none"/>
<line x1="68.1" y1="41.9" x2="68.1" y2="152.8" stroke="#555" stroke-width="0.9"/>
<line x1="26.5" y1="95.8" x2="134.6" y2="95.8" stroke="#555" stroke-width="0.9"/>
<rect x="26.5" y="41.9" width="108.1" height="110.9" fill="none" stroke="#333" stroke-width="1"/>
<path d="M26.5 152.8v2.2M26.5 152.8h-2.2M34.6 152.8v1.1M26.5 144.5h-1.1M39.4 152.8v1.1M26.5 139.6h-1.1M42.8 152.8v1.1M26.5 136.1h-1.1M45.4 152.8v1.1M26.5 133.4h-1.1M47.5 152.8v1.1M26.5 131.2h-1.1M49.3 152.8v1.1M26.5 129.4h-1.1M50.9 152.8v1.1M26.5 127.8h-1.1M52.3 152.8v1.1M26.5 126.3h-1.1M53.5 152.8v2.2M26.5 125.1h-2.2M61.7 152.8v1.1M26.5 116.7h-1.1M66.4 152.8v1.1M26.5 111.8h-1.1M69.8 152.8v1.1M26.5 108.4h-1.1M72.4 152.8v1.1M26.5 105.7h-1.1M74.6 152.8v1.1M26.5 103.5h-1.1M76.4 152.8v1.1M26.5 101.6h-1.1M77.9 152.8v1.1M26.5 100.0h-1.1M79.3 152.8v1.1M26.5 98.6h-1.1M80.5 152.8v2.2M26.5 97.4h-2.2M88.7 152.8v1.1M26.5 89.0h-1.1M93.4 152.8v1.1M26.5 84.1h-1.1M96.8 152.8v1.1M26.5 80.7h-1.1M99.4 152.8v1.1M26.5 78.0h-1.1M101.6 152.8v1.1M26.5 75.8h-1.1M103.4 152.8v1.1M26.5 73.9h-1.1M105.0 152.8v1.1M26.5 72.3h-1.1M106.3 152.8v1.1M26.5 70.9h-1.1M107.6 152.8v2.2M26.5 69.6h-2.2M115.7 152.8v1.1M26.5 61.3h-1.1M120.5 152.8v1.1M26.5 56.4h-1.1M123.8 152.8v1.1M26.5 52.9h-1.1M126.5 152.8v1.1M26.5 50.2h-1.1M128.6 152.8v1.1M26.5 48.1h-1.1M130.4 152.8v1.1M26.5 46.2h-1.1M132.0 152.8v1.1M26.5 44.6h-1.1M133.4 152.8v1.1M26.5 43.2h-1.1M134.6 152.8v2.2M26.5 41.9h-2.2" stroke="#444" stroke-width="0.55" fill="none"/>
<path transform="scale(0.4)" d="M500 156h2M533 160h2M380 161h2M531 164h2M509 165h2M388 167h2m46 0h2m60 0h2M523 168h2M373 169h2m80 0h2M377 170h2m129 0h2m14 0h2m0 0h2m0 0h2M413 171h2m115 0h2M509 172h2m7 0h2m11 0h2M385 173h2m15 0h2m10 0h2m73 0h2m10 0h2m1 0h2M392 174h2m7 0h2m89 0h2m9 0h2m2 0h2m12 0h2m5 0h2m-1 0h2m-1 0h2m-1 0h2m-1 0h2M389 175h2m11 0h2m98 0h2m16 0h2m-1 0h2m-1 0h2m3 0h2m0 0h2M389 176h2m56 0h2m17 0h2m14 0h2m11 0h2m0 0h2m10 0h2m1 0h2m3 0h2m2 0h2m4 0h2m0 0h2m-1 0h2m3 0h2m6 0h2M381 177h2m5 0h2m12 0h2m3 0h2m32 0h2m50 0h2m1 0h2m-1 0h2m0 0h2m1 0h2m0 0h2m0 0h2m0 0h2m0 0h2m0 0h2m-1 0h2m1 0h2m0 0h2m3 0h2m1 0h2m3 0h2m1 0h2M370 178h2m8 0h2m-1 0h2m-1 0h2m15 0h2m5 0h2m15 0h2m54 0h2m4 0h2m10 0h2m1 0h2m0 0h2m6 0h2m2 0h2m-1 0h2m1 0h2m-1 0h2m1 0h2m0 0h2m4 0h2m-1 0h2m-1 0h2m3 0h2M379 179h2m24 0h2m6 0h2m12 0h2m45 0h2m17 0h2m6 0h2m6 0h2m-1 0h2m1 0h2m4 0h2m0 0h2m3 0h2m0 0h2m2 0h2m-1 0h2m9 0h2M370 180h2m1 0h2m-1 0h2m10 0h2m4 0h2m3 0h2m9 0h2m-1 0h2m10 0h2m3 0h2m72 0h2m0 0h2m2 0h2m0 0h2m-1 0h2m0 0h2m2 0h2m-1 0h2m3 0h2m1 0h2m0 0h2m-1 0h2m-1 0h2m3 0h2M376 181h2m14 0h2m9 0h2m0 0h2m1 0h2m5 0h2m0 0h2m3 0h2m-1 0h2m62 0h2m-1 0h2m0 0h2m4 0h2m2 0h2m3 0h2m-1 0h2m-1 0h2m2 0h2m-1 0h2m4 0h2m-1 0h2m3 0h2m0 0h2m3 0h2m-1 0h2M372 182h2m13 0h2m3 0h2m2 0h2m3 0h2m8 0h2m3 0h2m0 0h2m10 0h2m49 0h2m-1 0h2m0 0h2m8 0h2m1 0h2m-1 0h2m-1 0h2m0 0h2m-1 0h2m-1 0h2m1 0h2m1 0h2m-1 0h2m1 0h2m1 0h2m0 0h2m1 0h2m-1 0h2m-1 0h2m5 0h2m0 0h2m18 0h2M374 183h2m-1 0h2m12 0h2m-1 0h2m0 0h2m0 0h2m-1 0h2m1 0h2m0 0h2m2 0h2m2 0h2m-1 0h2m1 0h2m4 0h2m1 0h2m-1 0h2m10 0h2m36 0h2m7 0h2m1 0h2m3 0h2m1 0h2m-1 0h2m0 0h2m-1 0h2m2 0h2m0 0h2m0 0h2m-1 0h2m0 0h2m-1 0h2m1 0h2m-1 0h2m2 0h2m0 0h2m-1 0h2m-1 0h2m-1 0h2m-1 0h2m0 0h2m-1 0h2m-1 0h2m-1 0h2m1 0h2M365 184h2m3 0h2m6 0h2m0 0h2m4 0h2m3 0h2m4 0h2m0 0h2m-1 0h2m2 0h2m0 0h2m1 0h2m2 0h2m1 0h2m1 0h2m65 0h2m2 0h2m1 0h2m-1 0h2m2 0h2m1 0h2m0 0h2m-1 0h2m-1 0h2m-1 0h2m-1 0h2m-1 0h2m0 0h2m0 0h2m0 0h2m-1 0h2m-1 0h2m0 0h2m-1 0h2m-1 0h2m5 0h2m-1 0h2m-1 0h2m1 0h2m-1 0h2M392 185h2m-1 0h2m-1 0h2m7 0h2m-1 0h2m-1 0h2m2 0h2m-1 0h2m3 0h2m2 0h2m1 0h2m34 0h2m-1 0h2m0 0h2m21 0h2m7 0h2m-1 0h2m-1 0h2m-1 0h2m1 0h2m0 0h2m-1 0h2m0 0h2m-1 0h2m0 0h2m-1 0h2m-1 0h2m0 0h2m-1 0h2m-1 0h2m-1 0h2m-1 0h2m4 0h2m-1 0h2m0 0h2m-1 0h2m0 0h2m-1 0h2m-1 0h2m-1 0h2m1 0h2M383 186h2m2 0h2m2 0h2m-1 0h2m-1 0h2m1 0h2m-1 0h2m1 0h2m0 0h2m1 0h2m-1 0h2m-1 0h2m1 0h2m5 0h2m-1 0h2m2 0h2m-1 0h2m-1 0h2m-1 0h2m20 0h2m21 0h2m9 0h2m2 0h2m2 0h2m-1 0h2m-1 0h2m-1 0h2m1 0h2m-1 0h2m0 0h2m3 0h2m-1 0h2m-1 0h2m-1 0h2m-1 0h2m-1 0h2m-1 0h2m-1 0h2m-1 0h2m0 0h2m-1 0h2m-1 0h2m-1 0h2m-1 0h2m0 0h2m-1 0h2m0 0h2m5 0h2m0 0h2m-1 0h2M370 187h2m5 0h2m0 0h2m2 0h2m0 0h2m-1 0h2m1 0h2m-1 0h2m-1 0h2m2 0h2m1 0h2m0 0h2m0 0h2m0 0h2m-1 0h2m0 0h2m0 0h2m0 0h2m-1 0h2m-1 0h2m-1 0h2m2 0h2m-1 0h2m-1 0h2m2 0h2m-1 0h2m3 0h2m-1 0h2m32 0h2m8 0h2m4 0h2m3 0h2m-1 0h2m0 0h2m1 0h2m-1 0h2m-1 0h2m0 0h2m1 0h2m-1 0h2m-1 0h2m0 0h2m0 0h2m-1 0h2m-1 0h2m-1 0h2m-1 0h2m0 0h2m-1 0h2m0 0h2m-1 0h2m-1 0h2m1 0h2m-1 0h2m-1 0h2m0 0h2m0 0h2m-1 0h2m-1 0h2m2 0h2M370 188h2m-1 0h2m-1 0h2m8 0h2m1 0h2m-1 0h2m0 0h2m-1 0h2m-1 0h2m5 0h2m0 0h2m1 0h2m-1 0h2m-1 0h2m2 0h2m-1 0h2m-1 0h2m-1 0h2m0 0h2m0 0h2m3 0h2m0 0h2m1 0h2m34 0h2m4 0h2m12 0h2m3 0h2m0 0h2m-1 0h2m-1 0h2m0 0h2m4 0h2m-1 0h2m-1 0h2m-1 0h2m1 0h2m-1 0h2m-1 0h2m-1 0h2m-1 0h2m-1 0h2m-1 0h2m-1 0h2m-1 0h2m-1 0h2m0 0h2m-1 0h2m-1 0h2m-1 0h2m-1 0h2m-1 0h2m-1 0h2m-1 0h2m0 0h2m-1 0h2m-1 0h2m-1 0h2m1 0h2m0 0h2m5 0h2M365 189h2m1 0h2m8 0h2m-1 0h2m2 0h2m-1 0h2m0 0h2m2 0h2m-1 0h2m0 0h2m1 0h2m0 0h2m2 0h2m-1 0h2m-1 0h2m0 0h2m-1 0h2m-1 0h2m0 0h2m-1 0h2m-1 0h2m2 0h2m0 0h2m-1 0h2m0 0h2m-1 0h2m-1 0h2m5 0h2m-1 0h2m5 0h2m26 0h2m9 0h2m1 0h2m5 0h2m2 0h2m-1 0h2m0 0h2m-1 0h2m-1 0h2m-1 0h2m-1 0h2m-1 0h2m-1 0h2m-1 0h2m-1 0h2m-1 0h2m-1 0h2m-1 0h2m-1 0h2m-1 0h2m-1 0h2m-1 0h2m-1 0h2m0 0h2m-1 0h2m-1 0h2m-1 0h2m-1 0h2m-1 0h2m-1 0h2m-1 0h2m-1 0h2m-1 0h2m-1 0h2m-1 0h2m0 0h2m4 0h2m6 0h2M366 190h2m8 0h2m1 0h2m4 0h2m2 0h2m0 0h2m-1 0h2m1 0h2m1 0h2m1 0h2m0 0h2m-1 0h2m-1 0h2m0 0h2m5 0h2m-1 0h2m7 0h2m-1 0h2m-1 0h2m1 0h2m10 0h2m25 0h2m15 0h2m1 0h2m0 0h2m-1 0h2m-1 0h2m0 0h2m-1 0h2m-1 0h2m-1 0h2m-1 0h2m-1 0h2m-1 0h2m-1 0h2m0 0h2m-1 0h2m0 0h2m-1 0h2m1 0h2m-1 0h2m-1 0h2m-1 0h2m-1 0h2m-1 0h2m-1 0h2m-1 0h2m-1 0h2m-1 0h2m-1 0h2m-1 0h2m-1 0h2m-1 0h2m-1 0h2m1 0h2m0 0h2m1 0h2m2 0h2m5 0h2m2 0h2M375 191h2m2 0h2m3 0h2m1 0h2m2 0h2m0 0h2m-1 0h2m1 0h2m-1 0h2m-1 0h2m-1 0h2m-1 0h2m-1 0h2m-1 0h2m-1 0h2m-1 0h2m-1 0h2m-1 0h2m0 0h2m-1 0h2m-1 0h2m-1 0h2m-1 0h2m-1 0h2m-1 0h2m-1 0h2m-1 0h2m0 0h2m-1 0h2m0 0h2m0 0h2m-1 0h2m-1 0h2m0 0h2m7 0h2m1 0h2m19 0h2m9 0h2m3 0h2m3 0h2m1 0h2m-1 0h2m1 0h2m0 0h2m-1 0h2m-1 0h2m-1 0h2m-1 0h2m-1 0h2m-1 0h2m-1 0h2m-1 0h2m-1 0h2m-1 0h2m-1 0h2m-1 0h2m-1 0h2m-1 0h2m-1 0h2m-1 0h2m-1 0h2m-1 0h2m-1 0h2m-1 0h2m-1 0h2m-1 0h2m-1 0h2m-1 0h2m-1 0h2m-1 0h2m-1 0h2m-1 0h2m-1 0h2m0 0h2m-1 0h2m-1 0h2m-1 0h2m0 0h2m-1 0h2m-1 0h2m6 0h2M369 192h2m0 0h2m8 0h2m0 0h2m-1 0h2m0 0h2m0 0h2m-1 0h2m-1 0h2m1 0h2m0 0h2m-1 0h2m-1 0h2m-1 0h2m-1 0h2m-1 0h2m-1 0h2m0 0h2m3 0h2m-1 0h2m-1 0h2m-1 0h2m-1 0h2m0 0h2m-1 0h2m1 0h2m-1 0h2m-1 0h2m-1 0h2m0 0h2m-1 0h2m2 0h2m2 0h2m3 0h2m11 0h2m25 0h2m-1 0h2m-1 0h2m2 0h2m-1 0h2m0 0h2m-1 0h2m0 0h2m-1 0h2m-1 0h2m-1 0h2m-1 0h2m-1 0h2m0 0h2m-1 0h2m-1 0h2m-1 0h2m-1 0h2m-1 0h2m-1 0h2m-1 0h2m-1 0h2m0 0h2m-1 0h2m-1 0h2m-1 0h2m-1 0h2m-1 0h2m-1 0h2m-1 0h2m-1 0h2m-1 0h2m-1 0h2m-1 0h2m-1 0h2m-1 0h2m0 0h2m-1 0h2m-1 0h2m0 0h2m-1 0h2m0 0h2m-1 0h2m8 0h2M367 193h2m-1 0h2m1 0h2m2 0h2m5 0h2m3 0h2m-1 0h2m3 0h2m1 0h2m1 0h2m1 0h2m-1 0h2m-1 0h2m-1 0h2m-1 0h2m0 0h2m-1 0h2m-1 0h2m-1 0h2m-1 0h2m-1 0h2m-1 0h2m-1 0h2m-1 0h2m-1 0h2m-1 0h2m-1 0h2m1 0h2m2 0h2m3 0h2m1 0h2m7 0h2m8 0h2m5 0h2m9 0h2m1 0h2m2 0h2m2 0h2m2 0h2m-1 0h2m0 0h2m-1 0h2m0 0h2m-1 0h2m0 0h2m-1 0h2m0 0h2m-1 0h2m-1 0h2m-1 0h2m-1 0h2m-1 0h2m-1 0h2m-1 0h2m-1 0h2m-1 0h2m-1 0h2m-1 0h2m-1 0h2m-1 0h2m-1 0h2m-1 0h2m-1 0h2m-1 0h2m0 0h2m-1 0h2m-1 0h2m-1 0h2m-1 0h2m-1 0h2m-1 0h2m0 0h2m-1 0h2m-1 0h2m-1 0h2m0 0h2m14 0h2M367 194h2m0 0h2m-1 0h2m1 0h2m11 0h2m5 0h2m-1 0h2m0 0h2m0 0h2m1 0h2m-1 0h2m-1 0h2m-1 0h2m0 0h2m-1 0h2m-1 0h2m1 0h2m0 0h2m1 0h2m-1 0h2m-1 0h2m3 0h2m7 0h2m1 0h2m-1 0h2m0 0h2m2 0h2m15 0h2m9 0h2m4 0h2m-1 0h2m-1 0h2m0 0h2m0 0h2m-1 0h2m-1 0h2m-1 0h2m1 0h2m-1 0h2m0 0h2m-1 0h2m-1 0h2m-1 0h2m-1 0h2m-1 0h2m0 0h2m-1 0h2m-1 0h2m-1 0h2m-1 0h2m-1 0h2m-1 0h2m-1 0h2m-1 0h2m-1 0h2m-1 0h2m-1 0h2m-1 0h2m-1 0h2m-1 0h2m-1 0h2m-1 0h2m0 0h2m-1 0h2m-1 0h2m-1 0h2m1 0h2m0 0h2m-1 0h2M371 195h2m-1 0h2m-1 0h2m1 0h2m0 0h2m3 0h2m-1 0h2m0 0h2m1 0h2m0 0h2m2 0h2m-1 0h2m1 0h2m-1 0h2m0 0h2m0 0h2m-1 0h2m-1 0h2m-1 0h2m0 0h2m-1 0h2m1 0h2m2 0h2m-1 0h2m-1 0h2m-1 0h2m-1 0h2m4 0h2m0 0h2m0 0h2m1 0h2m6 0h2m36 0h2m-1 0h2m-1 0h2m-1 0h2m-1 0h2m-1 0h2m-1 0h2m-1 0h2m2 0h2m-1 0h2m-1 0h2m-1 0h2m-1 0h2m0 0h2m-1 0h2m-1 0h2m-1 0h2m-1 0h2m0 0h2m-1 0h2m-1 0h2m-1 0h2m-1 0h2m-1 0h2m-1 0h2m-1 0h2m-1 0h2m-1 0h2m-1 0h2m-1 0h2m-1 0h2m-1 0h2m-1 0h2m-1 0h2m-1 0h2m-1 0h2m-1 0h2m-1 0h2m-1 0h2m-1 0h2m3 0h2m-1 0h2m0 0h2m4 0h2M371 196h2m5 0h2m3 0h2m2 0h2m-1 0h2m-1 0h2m-1 0h2m3 0h2m-1 0h2m-1 0h2m0 0h2m0 0h2m-1 0h2m-1 0h2m-1 0h2m-1 0h2m-1 0h2m-1 0h2m-1 0h2m-1 0h2m-1 0h2m-1 0h2m0 0h2m2 0h2m-1 0h2m-1 0h2m-1 0h2m-1 0h2m-1 0h2m-1 0h2m-1 0h2m1 0h2m0 0h2m0 0h2m-1 0h2m3 0h2m7 0h2m10 0h2m17 0h2m7 0h2m-1 0h2m-1 0h2m-1 0h2m-1 0h2m-1 0h2m-1 0h2m-1 0h2m-1 0h2m-1 0h2m-1 0h2m-1 0h2m-1 0h2m-1 0h2m-1 0h2m-1 0h2m-1 0h2m-1 0h2m-1 0h2m-1 0h2m-1 0h2m-1 0h2m-1 0h2m-1 0h2m-1 0h2m-1 0h2m-1 0h2m-1 0h2m-1 0h2m-1 0h2m-1 0h2m-1 0h2m-1 0h2m-1 0h2m-1 0h2m-1 0h2m0 0h2m-1 0h2m-1 0h2m-1 0h2M370 197h2m5 0h2m1 0h2m2 0h2m-1 0h2m1 0h2m1 0h2m0 0h2m0 0h2m1 0h2m-1 0h2m-1 0h2m1 0h2m0 0h2m-1 0h2m-1 0h2m1 0h2m-1 0h2m-1 0h2m-1 0h2m0 0h2m-1 0h2m2 0h2m-1 0h2m-1 0h2m12 0h2m25 0h2m6 0h2m5 0h2m0 0h2m3 0h2m-1 0h2m-1 0h2m-1 0h2m-1 0h2m0 0h2m-1 0h2m-1 0h2m-1 0h2m-1 0h2m-1 0h2m-1 0h2m-1 0h2m-1 0h2m-1 0h2m-1 0h2m-1 0h2m-1 0h2m-1 0h2m-1 0h2m-1 0h2m-1 0h2m-1 0h2m-1 0h2m-1 0h2m-1 0h2m-1 0h2m-1 0h2m-1 0h2m-1 0h2m-1 0h2m-1 0h2m-1 0h2m-1 0h2m-1 0h2m-1 0h2m-1 0h2m5 0h2m1 0h2M368 198h2m2 0h2m-1 0h2m15 0h2m0 0h2m-1 0h2m-1 0h2m-1 0h2m0 0h2m0 0h2m-1 0h2m0 0h2m1 0h2m-1 0h2m-1 0h2m-1 0h2m-1 0h2m-1 0h2m2 0h2m-1 0h2m0 0h2m3 0h2m1 0h2m-1 0h2m-1 0h2m0 0h2m5 0h2m24 0h2m8 0h2m2 0h2m5 0h2m0 0h2m-1 0h2m-1 0h2m-1 0h2m-1 0h2m-1 0h2m-1 0h2m-1 0h2m0 0h2m-1 0h2m-1 0h2m-1 0h2m-1 0h2m-1 0h2m-1 0h2m-1 0h2m-1 0h2m-1 0h2m-1 0h2m-1 0h2m-1 0h2m-1 0h2m-1 0h2m-1 0h2m-1 0h2m0 0h2m-1 0h2m-1 0h2m-1 0h2m-1 0h2m-1 0h2m-1 0h2m-1 0h2m-1 0h2m-1 0h2m0 0h2m0 0h2m3 0h2m-1 0h2M367 199h2m2 0h2m11 0h2m-1 0h2m7 0h2m-1 0h2m0 0h2m1 0h2m0 0h2m0 0h2m-1 0h2m0 0h2m-1 0h2m-1 0h2m-1 0h2m1 0h2m1 0h2m0 0h2m0 0h2m1 0h2m0 0h2m-1 0h2m0 0h2m-1 0h2m1 0h2m7 0h2m5 0h2m0 0h2m12 0h2m4 0h2m-1 0h2m2 0h2m-1 0h2m0 0h2m-1 0h2m0 0h2m0 0h2m-1 0h2m-1 0h2m-1 0h2m-1 0h2m-1 0h2m-1 0h2m-1 0h2m-1 0h2m-1 0h2m-1 0h2m-1 0h2m-1 0h2m-1 0h2m-1 0h2m-1 0h2m-1 0h2m-1 0h2m-1 0h2m-1 0h2m-1 0h2m-1 0h2m-1 0h2m-1 0h2m-1 0h2m-1 0h2m-1 0h2m-1 0h2m-1 0h2m-1 0h2m-1 0h2m-1 0h2m0 0h2m-1 0h2m-1 0h2m2 0h2m-1 0h2m-1 0h2m-1 0h2m-1 0h2m-1 0h2M368 200h2m2 0h2m4 0h2m-1 0h2m-1 0h2m0 0h2m2 0h2m2 0h2m0 0h2m0 0h2m1 0h2m-1 0h2m-1 0h2m-1 0h2m0 0h2m-1 0h2m-1 0h2m0 0h2m0 0h2m0 0h2m1 0h2m-1 0h2m0 0h2m3 0h2m6 0h2m14 0h2m7 0h2m14 0h2m9 0h2m-1 0h2m-1 0h2m0 0h2m0 0h2m-1 0h2m-1 0h2m-1 0h2m-1 0h2m-1 0h2m-1 0h2m-1 0h2m-1 0h2m-1 0h2m-1 0h2m-1 0h2m-1 0h2m-1 0h2m-1 0h2m-1 0h2m-1 0h2m0 0h2m-1 0h2m-1 0h2m-1 0h2m0 0h2m-1 0h2m-1 0h2m-1 0h2m-1 0h2m-1 0h2m-1 0h2m-1 0h2m-1 0h2m-1 0h2m-1 0h2m-1 0h2m-1 0h2m-1 0h2m-1 0h2m0 0h2m3 0h2m17 0h2M363 201h2m0 0h2m-1 0h2m5 0h2m7 0h2m6 0h2m2 0h2m-1 0h2m-1 0h2m-1 0h2m2 0h2m-1 0h2m1 0h2m4 0h2m0 0h2m0 0h2m-1 0h2m-1 0h2m-1 0h2m2 0h2m9 0h2m4 0h2m5 0h2m17 0h2m-1 0h2m3 0h2m-1 0h2m3 0h2m-1 0h2m4 0h2m-1 0h2m-1 0h2m-1 0h2m-1 0h2m-1 0h2m-1 0h2m-1 0h2m-1 0h2m-1 0h2m-1 0h2m-1 0h2m-1 0h2m-1 0h2m-1 0h2m-1 0h2m-1 0h2m-1 0h2m-1 0h2m-1 0h2m-1 0h2m-1 0h2m-1 0h2m-1 0h2m-1 0h2m-1 0h2m-1 0h2m-1 0h2m-1 0h2m-1 0h2m-1 0h2m-1 0h2m-1 0h2m-1 0h2m-1 0h2m-1 0h2m-1 0h2m-1 0h2m1 0h2m6 0h2m2 0h2M371 202h2m1 0h2m4 0h2m3 0h2m4 0h2m0 0h2m4 0h2m-1 0h2m2 0h2m1 0h2m-1 0h2m0 0h2m-1 0h2m2 0h2m-1 0h2m-1 0h2m-1 0h2m1 0h2m0 0h2m12 0h2m9 0h2m17 0h2m11 0h2m1 0h2m-1 0h2m-1 0h2m-1 0h2m-1 0h2m-1 0h2m-1 0h2m-1 0h2m-1 0h2m-1 0h2m-1 0h2m-1 0h2m-1 0h2m-1 0h2m-1 0h2m-1 0h2m-1 0h2m-1 0h2m-1 0h2m-1 0h2m-1 0h2m-1 0h2m-1 0h2m-1 0h2m-1 0h2m-1 0h2m-1 0h2m-1 0h2m-1 0h2m-1 0h2m-1 0h2m-1 0h2m-1 0h2m-1 0h2m-1 0h2m-1 0h2m-1 0h2m0 0h2m-1 0h2m1 0h2m3 0h2m5 0h2M366 203h2m6 0h2m1 0h2m3 0h2m0 0h2m0 0h2m-1 0h2m-1 0h2m3 0h2m4 0h2m-1 0h2m0 0h2m0 0h2m-1 0h2m-1 0h2m0 0h2m0 0h2m1 0h2m-1 0h2m1 0h2m-1 0h2m4 0h2m0 0h2m3 0h2m1 0h2m3 0h2m2 0h2m0 0h2m13 0h2m3 0h2m5 0h2m-1 0h2m4 0h2m1 0h2m-1 0h2m-1 0h2m-1 0h2m0 0h2m-1 0h2m-1 0h2m-1 0h2m-1 0h2m-1 0h2m-1 0h2m-1 0h2m-1 0h2m-1 0h2m-1 0h2m-1 0h2m-1 0h2m-1 0h2m-1 0h2m-1 0h2m-1 0h2m-1 0h2m-1 0h2m-1 0h2m-1 0h2m-1 0h2m-1 0h2m-1 0h2m-1 0h2m-1 0h2m-1 0h2m-1 0h2m-1 0h2m-1 0h2m1 0h2m0 0h2m-1 0h2m1 0h2m-1 0h2m-1 0h2M372 204h2m0 0h2m2 0h2m3 0h2m-1 0h2m11 0h2m6 0h2m3 0h2m5 0h2m1 0h2m6 0h2m9 0h2m33 0h2m2 0h2m0 0h2m0 0h2m0 0h2m-1 0h2m-1 0h2m-1 0h2m-1 0h2m-1 0h2m-1 0h2m-1 0h2m-1 0h2m-1 0h2m-1 0h2m-1 0h2m-1 0h2m-1 0h2m-1 0h2m-1 0h2m-1 0h2m-1 0h2m-1 0h2m-1 0h2m-1 0h2m-1 0h2m-1 0h2m-1 0h2m-1 0h2m-1 0h2m-1 0h2m-1 0h2m-1 0h2m-1 0h2m-1 0h2m-1 0h2m-1 0h2m-1 0h2m-1 0h2m-1 0h2m4 0h2m0 0h2m5 0h2M383 205h2m-1 0h2m-1 0h2m4 0h2m-1 0h2m-1 0h2m5 0h2m-1 0h2m2 0h2m3 0h2m20 0h2m2 0h2m3 0h2m6 0h2m1 0h2m4 0h2m14 0h2m0 0h2m-1 0h2m0 0h2m1 0h2m-1 0h2m-1 0h2m-1 0h2m-1 0h2m-1 0h2m-1 0h2m-1 0h2m-1 0h2m-1 0h2m-1 0h2m-1 0h2m-1 0h2m-1 0h2m-1 0h2m-1 0h2m-1 0h2m-1 0h2m-1 0h2m-1 0h2m-1 0h2m-1 0h2m-1 0h2m-1 0h2m-1 0h2m-1 0h2m-1 0h2m-1 0h2m0 0h2m-1 0h2m-1 0h2m-1 0h2m-1 0h2m-1 0h2m-1 0h2m0 0h2m-1 0h2m-1 0h2m0 0h2m9 0h2M364 206h2m9 0h2m12 0h2m-1 0h2m11 0h2m7 0h2m1 0h2m3 0h2m-1 0h2m6 0h2m1 0h2m21 0h2m7 0h2m4 0h2m2 0h2m0 0h2m-1 0h2m-1 0h2m-1 0h2m-1 0h2m-1 0h2m-1 0h2m-1 0h2m-1 0h2m-1 0h2m-1 0h2m-1 0h2m-1 0h2m-1 0h2m-1 0h2m-1 0h2m-1 0h2m-1 0h2m-1 0h2m-1 0h2m-1 0h2m-1 0h2m-1 0h2m-1 0h2m-1 0h2m-1 0h2m-1 0h2m-1 0h2m-1 0h2m-1 0h2m-1 0h2m-1 0h2m-1 0h2m-1 0h2m-1 0h2m-1 0h2m-1 0h2m-1 0h2m-1 0h2m-1 0h2m-1 0h2m-1 0h2m-1 0h2m-1 0h2m0 0h2m1 0h2m0 0h2m11 0h2M377 207h2m6 0h2m0 0h2m6 0h2m0 0h2m2 0h2m-1 0h2m3 0h2m6 0h2m14 0h2m13 0h2m-1 0h2m10 0h2m14 0h2m2 0h2m2 0h2m0 0h2m0 0h2m-1 0h2m-1 0h2m-1 0h2m-1 0h2m0 0h2m-1 0h2m0 0h2m-1 0h2m-1 0h2m-1 0h2m-1 0h2m-1 0h2m-1 0h2m-1 0h2m-1 0h2m-1 0h2m-1 0h2m-1 0h2m-1 0h2m-1 0h2m-1 0h2m-1 0h2m-1 0h2m-1 0h2m-1 0h2m-1 0h2m-1 0h2m-1 0h2m0 0h2m-1 0h2m0 0h2m1 0h2m1 0h2m-1 0h2m-1 0h2m-1 0h2M372 208h2m7 0h2m-1 0h2m1 0h2m1 0h2m9 0h2m-1 0h2m-1 0h2m3 0h2m5 0h2m1 0h2m2 0h2m8 0h2m20 0h2m8 0h2m-1 0h2m5 0h2m4 0h2m-1 0h2m-1 0h2m-1 0h2m0 0h2m-1 0h2m3 0h2m-1 0h2m-1 0h2m-1 0h2m-1 0h2m-1 0h2m-1 0h2m-1 0h2m-1 0h2m-1 0h2m-1 0h2m-1 0h2m-1 0h2m-1 0h2m-1 0h2m-1 0h2m-1 0h2m-1 0h2m-1 0h2m-1 0h2m-1 0h2m-1 0h2m-1 0h2m-1 0h2m-1 0h2m-1 0h2m-1 0h2m-1 0h2m0 0h2m1 0h2m0 0h2m1 0h2m8 0h2M376 209h2m7 0h2m10 0h2m-1 0h2m-1 0h2m3 0h2m6 0h2m2 0h2m0 0h2m6 0h2m4 0h2m3 0h2m2 0h2m21 0h2m1 0h2m4 0h2m-1 0h2m2 0h2m2 0h2m0 0h2m-1 0h2m-1 0h2m-1 0h2m-1 0h2m-1 0h2m-1 0h2m-1 0h2m-1 0h2m0 0h2m-1 0h2m-1 0h2m-1 0h2m-1 0h2m-1 0h2m-1 0h2m-1 0h2m-1 0h2m-1 0h2m-1 0h2m0 0h2m-1 0h2m-1 0h2m-1 0h2m-1 0h2m-1 0h2m-1 0h2m-1 0h2m-1 0h2m-1 0h2m-1 0h2m-1 0h2m0 0h2m1 0h2m7 0h2M374 210h2m10 0h2m19 0h2m0 0h2m14 0h2m5 0h2m4 0h2m15 0h2m2 0h2m6 0h2m5 0h2m-1 0h2m1 0h2m-1 0h2m2 0h2m-1 0h2m-1 0h2m-1 0h2m-1 0h2m-1 0h2m-1 0h2m-1 0h2m-1 0h2m0 0h2m1 0h2m-1 0h2m-1 0h2m-1 0h2m-1 0h2m-1 0h2m-1 0h2m-1 0h2m-1 0h2m0 0h2m0 0h2m-1 0h2m-1 0h2m-1 0h2m-1 0h2m-1 0h2m-1 0h2m-1 0h2m-1 0h2m-1 0h2m-1 0h2M377 211h2m12 0h2m13 0h2m2 0h2m-1 0h2m8 0h2m1 0h2m1 0h2m0 0h2m4 0h2m21 0h2m1 0h2m7 0h2m-1 0h2m1 0h2m4 0h2m-1 0h2m-1 0h2m-1 0h2m-1 0h2m2 0h2m-1 0h2m-1 0h2m-1 0h2m-1 0h2m-1 0h2m0 0h2m-1 0h2m-1 0h2m-1 0h2m-1 0h2m-1 0h2m-1 0h2m-1 0h2m-1 0h2m-1 0h2m-1 0h2m-1 0h2m-1 0h2m-1 0h2m-1 0h2m-1 0h2m-1 0h2m-1 0h2m0 0h2m0 0h2m4 0h2M395 212h2m2 0h2m1 0h2m1 0h2m54 0h2m10 0h2m1 0h2m2 0h2m0 0h2m1 0h2m-1 0h2m0 0h2m-1 0h2m-1 0h2m-1 0h2m-1 0h2m-1 0h2m-1 0h2m-1 0h2m-1 0h2m-1 0h2m-1 0h2m-1 0h2m-1 0h2m-1 0h2m-1 0h2m0 0h2m-1 0h2m0 0h2m-1 0h2m-1 0h2m-1 0h2m-1 0h2m0 0h2m2 0h2m-1 0h2m2 0h2m2 0h2M382 213h2m33 0h2m15 0h2m19 0h2m12 0h2m8 0h2m1 0h2m-1 0h2m-1 0h2m-1 0h2m-1 0h2m-1 0h2m-1 0h2m-1 0h2m-1 0h2m1 0h2m-1 0h2m-1 0h2m-1 0h2m-1 0h2m0 0h2m0 0h2m-1 0h2m-1 0h2m-1 0h2m0 0h2m-1 0h2m-1 0h2m-1 0h2m-1 0h2m0 0h2m-1 0h2m-1 0h2m-1 0h2m2 0h2M377 214h2m6 0h2m2 0h2m4 0h2m15 0h2m-1 0h2m-1 0h2m15 0h2m24 0h2m5 0h2m-1 0h2m1 0h2m11 0h2m0 0h2m-1 0h2m0 0h2m0 0h2m-1 0h2m-1 0h2m0 0h2m-1 0h2m-1 0h2m-1 0h2m-1 0h2m1 0h2m-1 0h2m-1 0h2m-1 0h2m-1 0h2m-1 0h2m-1 0h2m0 0h2m-1 0h2m-1 0h2m-1 0h2m3 0h2m-1 0h2m2 0h2m3 0h2M390 215h2m5 0h2m9 0h2m-1 0h2m43 0h2m5 0h2m3 0h2m7 0h2m0 0h2m-1 0h2m0 0h2m-1 0h2m2 0h2m-1 0h2m-1 0h2m0 0h2m1 0h2m-1 0h2m0 0h2m-1 0h2m-1 0h2m0 0h2m-1 0h2m-1 0h2m-1 0h2m-1 0h2m0 0h2m-1 0h2m1 0h2m-1 0h2m-1 0h2m1 0h2m-1 0h2m-1 0h2m-1 0h2m0 0h2m0 0h2m1 0h2M371 216h2m20 0h2m68 0h2m2 0h2m2 0h2m-1 0h2m0 0h2m-1 0h2m3 0h2m0 0h2m-1 0h2m-1 0h2m-1 0h2m0 0h2m-1 0h2m-1 0h2m-1 0h2m-1 0h2m-1 0h2m1 0h2m1 0h2m-1 0h2m-1 0h2m0 0h2m-1 0h2m-1 0h2m-1 0h2m0 0h2m-1 0h2m-1 0h2m11 0h2m0 0h2m6 0h2m2 0h2M369 217h2m19 0h2m-1 0h2m17 0h2m0 0h2m6 0h2m26 0h2m5 0h2m0 0h2m5 0h2m3 0h2m0 0h2m-1 0h2m-1 0h2m1 0h2m3 0h2m0 0h2m-1 0h2m1 0h2m-1 0h2m0 0h2m2 0h2m-1 0h2m-1 0h2m-1 0h2m-1 0h2m-1 0h2m0 0h2m0 0h2m0 0h2m-1 0h2m3 0h2m1 0h2m-1 0h2m0 0h2m8 0h2m8 0h2M398 218h2m11 0h2m0 0h2m5 0h2m32 0h2m0 0h2m0 0h2m2 0h2m8 0h2m6 0h2m1 0h2m0 0h2m0 0h2m-1 0h2m-1 0h2m-1 0h2m1 0h2m-1 0h2m-1 0h2m-1 0h2m0 0h2m1 0h2m-1 0h2m3 0h2m-1 0h2m-1 0h2m-1 0h2m9 0h2m3 0h2M392 219h2m6 0h2m3 0h2m8 0h2m24 0h2m-1 0h2m-1 0h2m4 0h2m1 0h2m0 0h2m1 0h2m5 0h2m-1 0h2m2 0h2m0 0h2m7 0h2m-1 0h2m3 0h2m-1 0h2m-1 0h2m2 0h2m2 0h2m-1 0h2m-1 0h2m2 0h2m1 0h2m-1 0h2m1 0h2m-1 0h2m6 0h2M445 220h2m3 0h2m4 0h2m1 0h2m7 0h2m0 0h2m2 0h2m1 0h2m0 0h2m0 0h2m-1 0h2m2 0h2m0 0h2m-1 0h2m-1 0h2m0 0h2m0 0h2m0 0h2m3 0h2m-1 0h2m0 0h2m1 0h2m2 0h2m1 0h2m0 0h2m0 0h2m3 0h2M406 221h2m11 0h2m29 0h2m2 0h2m8 0h2m0 0h2m9 0h2m0 0h2m-1 0h2m3 0h2m6 0h2m-1 0h2m-1 0h2m-1 0h2m0 0h2m-1 0h2m1 0h2m-1 0h2m-1 0h2m1 0h2m1 0h2m0 0h2m12 0h2M370 222h2m61 0h2m21 0h2m1 0h2m20 0h2m-1 0h2m3 0h2m-1 0h2m2 0h2m-1 0h2m0 0h2m-1 0h2m0 0h2m-1 0h2m-1 0h2m0 0h2m4 0h2m-1 0h2m1 0h2m0 0h2m1 0h2M383 223h2m47 0h2m34 0h2m-1 0h2m1 0h2m5 0h2m1 0h2m2 0h2m2 0h2m-1 0h2m2 0h2m0 0h2m8 0h2m-1 0h2m22 0h2M400 224h2m15 0h2m25 0h2m10 0h2m15 0h2m10 0h2m0 0h2m5 0h2m-1 0h2m2 0h2m1 0h2m-1 0h2m27 0h2M387 225h2m63 0h2m18 0h2m7 0h2m1 0h2m1 0h2m-1 0h2m2 0h2m-1 0h2m1 0h2m-1 0h2m2 0h2m0 0h2m-1 0h2m-1 0h2m2 0h2m10 0h2m22 0h2M380 226h2m73 0h2m15 0h2m2 0h2m5 0h2m1 0h2m0 0h2m-1 0h2m5 0h2m2 0h2m-1 0h2m2 0h2m21 0h2M405 227h2m6 0h2m27 0h2m1 0h2m16 0h2m13 0h2m1 0h2m7 0h2m0 0h2m9 0h2m-1 0h2m3 0h2m2 0h2m0 0h2M437 228h2m0 0h2m7 0h2m11 0h2m4 0h2m2 0h2m12 0h2m3 0h2m8 0h2m0 0h2m-1 0h2m1 0h2m-1 0h2M456 229h2m11 0h2m2 0h2m-1 0h2m3 0h2m-1 0h2m4 0h2m5 0h2m13 0h2m0 0h2m23 0h2M388 230h2m7 0h2m51 0h2m3 0h2m1 0h2m10 0h2m2 0h2m6 0h2m1 0h2m1 0h2m2 0h2m-1 0h2m4 0h2m2 0h2m-1 0h2m0 0h2m5 0h2m13 0h2M423 231h2m24 0h2m17 0h2m3 0h2m17 0h2m15 0h2m6 0h2m6 0h2M405 232h2m57 0h2m0 0h2m0 0h2m6 0h2m-1 0h2m2 0h2m11 0h2m3 0h2M445 233h2m0 0h2m5 0h2m28 0h2m6 0h2m-1 0h2m1 0h2M466 234h2m1 0h2m2 0h2m-1 0h2m13 0h2m2 0h2m3 0h2m3 0h2m3 0h2m0 0h2m-1 0h2m2 0h2m7 0h2m9 0h2M487 235h2m-1 0h2m0 0h2m3 0h2m24 0h2M474 236h2m27 0h2m5 0h2M488 237h2m-1 0h2m9 0h2m9 0h2M488 238h2m4 0h2m3 0h2m20 0h2M375 239h2m11 0h2m88 0h2m7 0h2m20 0h2m2 0h2m2 0h2m26 0h2M368 240h2m22 0h2m39 0h2m-1 0h2m1 0h2m2 0h2m3 0h2m7 0h2m10 0h2m6 0h2m11 0h2m5 0h2m-1 0h2m0 0h2m2 0h2m28 0h2M364 241h2m22 0h2m45 0h2m0 0h2m13 0h2m0 0h2m11 0h2m8 0h2m11 0h2m3 0h2m2 0h2m15 0h2m2 0h2m3 0h2M423 242h2m10 0h2m18 0h2m30 0h2m0 0h2m12 0h2m0 0h2m2 0h2M386 243h2m2 0h2m76 0h2m4 0h2m0 0h2m1 0h2m9 0h2m10 0h2m-1 0h2m1 0h2M473 244h2m9 0h2m8 0h2m-1 0h2m3 0h2m0 0h2m12 0h2M368 245h2m20 0h2m82 0h2m-1 0h2m4 0h2m9 0h2m5 0h2M390 246h2m4 0h2m47 0h2m29 0h2m0 0h2m6 0h2m14 0h2m-1 0h2M414 247h2m26 0h2m13 0h2m28 0h2m13 0h2m-1 0h2m8 0h2m1 0h2M441 248h2m3 0h2m23 0h2m1 0h2m1 0h2m2 0h2m8 0h2m-1 0h2m10 0h2m9 0h2m-1 0h2m6 0h2M365 249h2m15 0h2m53 0h2m7 0h2m8 0h2m12 0h2m20 0h2m5 0h2m0 0h2m19 0h2M420 250h2m62 0h2m10 0h2m14 0h2m3 0h2M422 251h2m5 0h2m11 0h2m46 0h2M436 252h2m32 0h2m14 0h2m8 0h2m3 0h2m13 0h2m4 0h2M368 253h2m74 0h2m6 0h2m19 0h2m19 0h2m3 0h2m7 0h2m24 0h2m17 0h2M434 254h2m0 0h2m17 0h2m58 0h2M389 255h2m10 0h2m18 0h2m14 0h2m35 0h2m9 0h2m24 0h2M388 256h2m59 0h2M507 257h2m38 0h2M425 258h2m30 0h2m18 0h2m3 0h2m2 0h2m11 0h2m3 0h2m2 0h2M371 259h2m4 0h2m40 0h2m34 0h2m54 0h2M396 260h2m35 0h2m11 0h2m38 0h2m1 0h2m7 0h2m11 0h2m2 0h2M363 261h2m66 0h2m4 0h2m67 0h2m1 0h2M363 262h2m68 0h2m67 0h2m1 0h2m3 0h2M387 263h2m30 0h2m64 0h2m3 0h2m6 0h2m4 0h2M423 264h2m-1 0h2m35 0h2m21 0h2m32 0h2m10 0h2M409 265h2m104 0h2M395 266h2m22 0h2m28 0h2m30 0h2m8 0h2m8 0h2M383 267h2m49 0h2m14 0h2m42 0h2m11 0h2m22 0h2M422 268h2m3 0h2M421 269h2m16 0h2m4 0h2m18 0h2m26 0h2m21 0h2M363 270h2m65 0h2m20 0h2m40 0h2m11 0h2m7 0h2m15 0h2M428 271h2m35 0h2m10 0h2m29 0h2m4 0h2M425 272h2m2 0h2m12 0h2m7 0h2m44 0h2m9 0h2M388 273h2m97 0h2M446 274h2m-1 0h2M420 276h2m13 0h2m0 0h2m9 0h2m2 0h2m40 0h2M422 277h2m36 0h2m24 0h2m63 0h2M412 278h2m98 0h2m14 0h2m5 0h2M407 279h2m78 0h2m15 0h2M385 280h2m36 0h2M362 281h2m48 0h2M403 282h2m5 0h2m77 0h2m15 0h2M368 283h2m47 0h2m4 0h2m1 0h2m16 0h2m42 0h2m26 0h2M417 284h2m5 0h2m42 0h2m21 0h2m3 0h2m9 0h2m14 0h2M433 285h2M365 286h2m11 0h2m41 0h2m5 0h2m52 0h2M437 287h2m2 0h2m15 0h2m13 0h2M411 288h2m11 0h2M506 289h2M375 290h2m28 0h2m29 0h2m82 0h2M413 291h2m78 0h2M405 292h2m11 0h2m73 0h2m3 0h2M401 293h2m16 0h2m-1 0h2m99 0h2m7 0h2M506 294h2m8 0h2m-1 0h2M443 295h2m13 0h2m14 0h2m42 0h2M419 296h2m13 0h2m13 0h2m14 0h2m54 0h2M426 297h2m3 0h2m-1 0h2m4 0h2m18 0h2m48 0h2m8 0h2m-1 0h2M380 298h2m15 0h2m60 0h2m46 0h2M414 299h2m12 0h2m-1 0h2m2 0h2M434 300h2m11 0h2M368 301h2m52 0h2m10 0h2m28 0h2m38 0h2M442 302h2m50 0h2m12 0h2M374 303h2m26 0h2m98 0h2m2 0h2M407 304h2m56 0h2M368 305h2m13 0h2m83 0h2M391 306h2m107 0h2m12 0h2m-1 0h2M403 307h2m2 0h2m11 0h2m84 0h2M401 308h2m-1 0h2m3 0h2m4 0h2m28 0h2M395 309h2m15 0h2m53 0h2m25 0h2M366 310h2m47 0h2m32 0h2m15 0h2m39 0h2m10 0h2M363 311h2m46 0h2m18 0h2M407 312h2m0 0h2m10 0h2m81 0h2m0 0h2m-1 0h2M362 313h2m0 0h2m39 0h2m16 0h2m9 0h2m76 0h2m9 0h2M362 315h2m49 0h2m65 0h2m14 0h2m6 0h2M410 316h2m11 0h2m23 0h2M402 317h2m28 0h2m65 0h2m5 0h2m13 0h2M366 318h2m115 0h2m23 0h2m1 0h2m10 0h2M451 319h2M363 320h2m0 0h2m15 0h2m34 0h2m78 0h2M399 321h2m15 0h2M390 322h2m8 0h2m92 0h2m23 0h2M404 323h2m-1 0h2m90 0h2m3 0h2m9 0h2M386 324h2m24 0h2m0 0h2m3 0h2m90 0h2M403 325h2m103 0h2m6 0h2m3 0h2m18 0h2M390 326h2m5 0h2m0 0h2m25 0h2M365 327h2m43 0h2m5 0h2m13 0h2m-1 0h2m37 0h2m25 0h2m10 0h2m24 0h2M430 328h2m79 0h2m12 0h2M365 329h2m15 0h2m121 0h2M363 330h2m18 0h2m15 0h2m114 0h2m3 0h2M365 331h2m19 0h2m33 0h2m10 0h2m86 0h2M364 332h2m0 0h2m36 0h2m104 0h2M363 333h2m46 0h2m-1 0h2m-1 0h2m2 0h2m32 0h2m2 0h2m45 0h2m3 0h2m0 0h2m3 0h2m4 0h2M366 334h2m49 0h2m21 0h2m20 0h2m38 0h2M510 335h2M508 336h2M435 337h2m74 0h2m0 0h2M506 338h2m0 0h2M408 339h2m96 0h2m5 0h2M489 340h2m19 0h2m3 0h2m-1 0h2M362 341h2m1 0h2m55 0h2m59 0h2m32 0h2M492 342h2m19 0h2m-1 0h2m3 0h2m1 0h2M363 343h2m21 0h2m6 0h2m11 0h2m1 0h2m67 0h2m33 0h2m-1 0h2m-1 0h2M362 344h2m-1 0h2m-1 0h2m14 0h2m24 0h2m104 0h2m3 0h2M447 345h2m28 0h2m27 0h2m11 0h2M393 346h2m5 0h2m106 0h2m0 0h2M368 347h2m-1 0h2m149 0h2M362 348h2m1 0h2m49 0h2m81 0h2M370 349h2m28 0h2M373 350h2m0 0h2m16 0h2m95 0h2M369 351h2m5 0h2m113 0h2m31 0h2M513 352h2M427 353h2m78 0h2m4 0h2M366 354h2m39 0h2M363 355h2m10 0h2m51 0h2m73 0h2m5 0h2m-1 0h2M376 356h2m39 0h2m86 0h2m6 0h2M381 357h2m27 0h2m98 0h2M364 358h2m3 0h2M364 359h2m19 0h2m124 0h2M364 360h2m1 0h2m-1 0h2m8 0h2m26 0h2m61 0h2M363 361h2m25 0h2m103 0h2m19 0h2M375 362h2m87 0h2m32 0h2m14 0h2M362 363h2m0 0h2m0 0h2m138 0h2m15 0h2M364 364h2m4 0h2M376 365h2m76 0h2m55 0h2M365 366h2m11 0h2M363 367h2m7 0h2m-1 0h2M369 368h2m0 0h2m33 0h2M366 369h2m43 0h2m103 0h2M364 370h2m10 0h2M362 371h2m2 0h2m0 0h2m1 0h2m9 0h2m105 0h2m12 0h2M366 372h2m0 0h2m20 0h2M369 373h2m4 0h2M369 374h2m6 0h2M364 375h2m13 0h2m10 0h2m1 0h2m19 0h2M373 377h2m5 0h2m13 0h2M364 378h2m0 0h2m14 0h2m100 0h2M363 379h2m-1 0h2m7 0h2m-1 0h2M363 380h2m1 0h2m4 0h2" stroke="#000" stroke-width="2" fill="none"/>
<line x1="186.5" y1="41.6" x2="186.5" y2="152.8" stroke="#555" stroke-width="0.9"/>
<line x1="144.3" y1="95.5" x2="254.9" y2="95.5" stroke="#555" stroke-width="0.9"/>
<rect x="144.3" y="41.6" width="110.6" height="111.20000000000002" fill="none" stroke="#333" stroke-width="1"/>
<path d="M144.3 152.8v2.2M144.3 152.8h-2.2M152.6 152.8v1.1M144.3 144.4h-1.1M157.5 152.8v1.1M144.3 139.5h-1.1M160.9 152.8v1.1M144.3 136.1h-1.1M163.6 152.8v1.1M144.3 133.4h-1.1M165.8 152.8v1.1M144.3 131.2h-1.1M167.7 152.8v1.1M144.3 129.3h-1.1M169.3 152.8v1.1M144.3 127.7h-1.1M170.7 152.8v1.1M144.3 126.3h-1.1M172.0 152.8v2.2M144.3 125.0h-2.2M180.3 152.8v1.1M144.3 116.6h-1.1M185.1 152.8v1.1M144.3 111.7h-1.1M188.6 152.8v1.1M144.3 108.3h-1.1M191.3 152.8v1.1M144.3 105.6h-1.1M193.5 152.8v1.1M144.3 103.4h-1.1M195.3 152.8v1.1M144.3 101.5h-1.1M196.9 152.8v1.1M144.3 99.9h-1.1M198.3 152.8v1.1M144.3 98.5h-1.1M199.6 152.8v2.2M144.3 97.2h-2.2M207.9 152.8v1.1M144.3 88.8h-1.1M212.8 152.8v1.1M144.3 83.9h-1.1M216.2 152.8v1.1M144.3 80.5h-1.1M218.9 152.8v1.1M144.3 77.8h-1.1M221.1 152.8v1.1M144.3 75.6h-1.1M223.0 152.8v1.1M144.3 73.7h-1.1M224.6 152.8v1.1M144.3 72.1h-1.1M226.0 152.8v1.1M144.3 70.7h-1.1M227.2 152.8v2.2M144.3 69.4h-2.2M235.6 152.8v1.1M144.3 61.0h-1.1M240.4 152.8v1.1M144.3 56.1h-1.1M243.9 152.8v1.1M144.3 52.7h-1.1M246.6 152.8v1.1M144.3 50.0h-1.1M248.8 152.8v1.1M144.3 47.8h-1.1M250.6 152.8v1.1M144.3 45.9h-1.1M252.2 152.8v1.1M144.3 44.3h-1.1M253.6 152.8v1.1M144.3 42.9h-1.1M254.9 152.8v2.2M144.3 41.6h-2.2" stroke="#444" stroke-width="0.55" fill="none"/>
<text transform="translate(31.9 54.9) scale(1.13 1)" font-size="11.7" font-weight="bold">6.8</text>
<text transform="translate(131.4 54.9) scale(1.13 1)" font-size="11.7" font-weight="bold" text-anchor="end">87.7</text>
<text transform="translate(32.6 144.2) scale(1.13 1)" font-size="11.7" font-weight="bold">2.6</text>
<text transform="translate(130.6 144.2) scale(1.13 1)" font-size="11.7" font-weight="bold" text-anchor="end">2.8</text>
<text transform="translate(151.3 54.9) scale(1.13 1)" font-size="11.7" font-weight="bold">11.3</text>
<text transform="translate(250.2 54.9) scale(1.13 1)" font-size="11.7" font-weight="bold" text-anchor="end">77.9</text>
<text transform="translate(156 144.2) scale(1.13 1)" font-size="11.7" font-weight="bold">6.5</text>
<text transform="translate(248.6 144.2) scale(1.13 1)" font-size="11.7" font-weight="bold" text-anchor="end">4.3</text>
<text x="17.2" y="96" font-size="14.5" font-weight="bold" text-anchor="middle" transform="rotate(-90 17.2 96)">CD4</text>
<line x1="13.8" y1="75.6" x2="13.8" y2="57.2" stroke="#111" stroke-width="1.7"/>
<path d="M13.8 50.2 L18.0 62.7 L13.8 59.7 L9.600000000000001 62.7 Z" fill="#111"/>
<line x1="13.8" y1="117.8" x2="13.8" y2="138.1" stroke="#111" stroke-width="1.7"/>
<line x1="46.8" y1="166.2" x2="112" y2="166.2" stroke="#111" stroke-width="1.7"/>
<text x="141.3" y="171.2" font-size="14.5" font-weight="bold" text-anchor="middle">CD8</text>
<line x1="166.3" y1="166.2" x2="231" y2="166.2" stroke="#111" stroke-width="1.7"/>
<path d="M238 166.2 L225.5 162.0 L228.5 166.2 L225.5 170.39999999999998 Z" fill="#111"/>
<text x="331" y="32" font-size="14.5" font-weight="bold" text-anchor="middle">n = 8</text>
<text x="283" y="89" font-size="13.3" font-weight="bold" text-anchor="middle" transform="rotate(-90 283 89)">Cell number (x10<tspan font-size="10" dy="-5">6</tspan><tspan dy="5">)</tspan></text>
<line x1="303.3" y1="38.8" x2="303.3" y2="142.9" stroke="#111" stroke-width="1.6"/>
<line x1="302" y1="142.3" x2="446" y2="142.3" stroke="#111" stroke-width="1.5"/>
<line x1="300" y1="142.3" x2="303.3" y2="142.3" stroke="#111" stroke-width="1.2"/>
<text x="299.6" y="146.8" font-size="12.5" font-weight="bold" text-anchor="end">0</text>
<line x1="300" y1="112.30000000000001" x2="303.3" y2="112.30000000000001" stroke="#111" stroke-width="1.2"/>
<text x="299.6" y="116.80000000000001" font-size="12.5" font-weight="bold" text-anchor="end">5</text>
<line x1="300" y1="82.30000000000001" x2="303.3" y2="82.30000000000001" stroke="#111" stroke-width="1.2"/>
<text x="299.6" y="86.80000000000001" font-size="12.5" font-weight="bold" text-anchor="end">10</text>
<line x1="300" y1="52.30000000000001" x2="303.3" y2="52.30000000000001" stroke="#111" stroke-width="1.2"/>
<text x="299.6" y="56.80000000000001" font-size="12.5" font-weight="bold" text-anchor="end">15</text>
<line x1="301.3" y1="127.30000000000001" x2="303.3" y2="127.30000000000001" stroke="#111" stroke-width="1.0"/>
<line x1="301.3" y1="97.30000000000001" x2="303.3" y2="97.30000000000001" stroke="#111" stroke-width="1.0"/>
<line x1="301.3" y1="67.30000000000001" x2="303.3" y2="67.30000000000001" stroke="#111" stroke-width="1.0"/>
<rect x="312.50" y="62.00" width="13.30" height="80.30" fill="#0a0a0a"/>
<line x1="319.15" y1="41.3" x2="319.15" y2="62.5" stroke="#111" stroke-width="1.25"/>
<line x1="315.45" y1="41.5" x2="322.84999999999997" y2="41.5" stroke="#111" stroke-width="1.6"/>
<rect x="331.20" y="96.20" width="13.10" height="46.10" fill="#a9a9a9"/>
<line x1="337.75" y1="83.8" x2="337.75" y2="96.7" stroke="#111" stroke-width="1.25"/>
<line x1="334.05" y1="84.0" x2="341.45" y2="84.0" stroke="#111" stroke-width="1.6"/>
<rect x="361.80" y="115.20" width="13.20" height="27.10" fill="#0a0a0a"/>
<line x1="368.4" y1="106.8" x2="368.4" y2="115.7" stroke="#111" stroke-width="1.25"/>
<line x1="364.7" y1="107.0" x2="372.09999999999997" y2="107.0" stroke="#111" stroke-width="1.6"/>
<rect x="380.30" y="130.50" width="12.90" height="11.80" fill="#a9a9a9"/>
<line x1="386.75" y1="126.2" x2="386.75" y2="131.0" stroke="#111" stroke-width="1.25"/>
<line x1="383.05" y1="126.4" x2="390.45" y2="126.4" stroke="#111" stroke-width="1.6"/>
<rect x="410.80" y="112.50" width="13.40" height="29.80" fill="#0a0a0a"/>
<line x1="417.5" y1="107" x2="417.5" y2="113.0" stroke="#111" stroke-width="1.25"/>
<line x1="413.8" y1="107.2" x2="421.2" y2="107.2" stroke="#111" stroke-width="1.6"/>
<rect x="429.30" y="130.50" width="13.20" height="11.80" fill="#a9a9a9"/>
<line x1="435.9" y1="125" x2="435.9" y2="131.0" stroke="#111" stroke-width="1.25"/>
<line x1="432.2" y1="125.2" x2="439.59999999999997" y2="125.2" stroke="#111" stroke-width="1.6"/>
<text x="323.5" y="52.5" font-size="10.5" fill="#222"><tspan font-style="italic">P</tspan> = .0018</text>
<text x="353" y="100" font-size="10.5" fill="#222"><tspan font-style="italic">P</tspan> = .0005</text>
<text x="390.5" y="78" font-size="10.5" fill="#222"><tspan font-style="italic">P</tspan> &lt; .0001</text>
<text x="329.6" y="160.2" font-size="15" font-weight="bold" text-anchor="middle">CD4<tspan font-size="8.2" dy="-4.5">+</tspan></text>
<text x="329.6" y="174.8" font-size="15" font-weight="bold" text-anchor="middle">CD8<tspan font-size="8.2" dy="-4.5">-</tspan></text>
<text x="377.6" y="160.2" font-size="15" font-weight="bold" text-anchor="middle">CD4<tspan font-size="8.2" dy="-4.5">-</tspan></text>
<text x="377.6" y="174.8" font-size="15" font-weight="bold" text-anchor="middle">CD8<tspan font-size="8.2" dy="-4.5">+</tspan></text>
<text x="427.3" y="160.2" font-size="15" font-weight="bold" text-anchor="middle">CD4<tspan font-size="8.2" dy="-4.5">-</tspan></text>
<text x="427.3" y="174.8" font-size="15" font-weight="bold" text-anchor="middle">CD8<tspan font-size="8.2" dy="-4.5">-</tspan></text>
<line x1="468.3" y1="31.5" x2="468.3" y2="142.9" stroke="#111" stroke-width="1.5"/>
<line x1="467.6" y1="142.3" x2="520" y2="142.3" stroke="#111" stroke-width="1.5"/>
<line x1="465" y1="142.3" x2="468.3" y2="142.3" stroke="#111" stroke-width="1.1"/>
<text x="465.2" y="150.3" font-size="12.8" text-anchor="end" style='font-family:&quot;Liberation Serif&quot;, serif'>0</text>
<line x1="465" y1="115.57500000000002" x2="468.3" y2="115.57500000000002" stroke="#111" stroke-width="1.1"/>
<text x="465.2" y="119.87500000000001" font-size="12.8" text-anchor="end" style='font-family:&quot;Liberation Serif&quot;, serif'>50</text>
<line x1="465" y1="88.85000000000002" x2="468.3" y2="88.85000000000002" stroke="#111" stroke-width="1.1"/>
<text x="465.2" y="93.15000000000002" font-size="12.8" text-anchor="end" style='font-family:&quot;Liberation Serif&quot;, serif'>100</text>
<line x1="465" y1="62.125000000000014" x2="468.3" y2="62.125000000000014" stroke="#111" stroke-width="1.1"/>
<text x="465.2" y="66.42500000000001" font-size="12.8" text-anchor="end" style='font-family:&quot;Liberation Serif&quot;, serif'>150</text>
<line x1="465" y1="35.40000000000002" x2="468.3" y2="35.40000000000002" stroke="#111" stroke-width="1.1"/>
<text x="465.2" y="39.70000000000002" font-size="12.8" text-anchor="end" style='font-family:&quot;Liberation Serif&quot;, serif'>200</text>
<line x1="466.5" y1="136.955" x2="468.3" y2="136.955" stroke="#111" stroke-width="0.7"/>
<line x1="466.5" y1="131.61" x2="468.3" y2="131.61" stroke="#111" stroke-width="0.7"/>
<line x1="466.5" y1="126.26500000000001" x2="468.3" y2="126.26500000000001" stroke="#111" stroke-width="0.7"/>
<line x1="466.5" y1="120.92000000000002" x2="468.3" y2="120.92000000000002" stroke="#111" stroke-width="0.7"/>
<line x1="466.5" y1="110.23000000000002" x2="468.3" y2="110.23000000000002" stroke="#111" stroke-width="0.7"/>
<line x1="466.5" y1="104.88500000000002" x2="468.3" y2="104.88500000000002" stroke="#111" stroke-width="0.7"/>
<line x1="466.5" y1="99.54000000000002" x2="468.3" y2="99.54000000000002" stroke="#111" stroke-width="0.7"/>
<line x1="466.5" y1="94.19500000000002" x2="468.3" y2="94.19500000000002" stroke="#111" stroke-width="0.7"/>
<line x1="466.5" y1="83.50500000000002" x2="468.3" y2="83.50500000000002" stroke="#111" stroke-width="0.7"/>
<line x1="466.5" y1="78.16000000000001" x2="468.3" y2="78.16000000000001" stroke="#111" stroke-width="0.7"/>
<line x1="466.5" y1="72.81500000000001" x2="468.3" y2="72.81500000000001" stroke="#111" stroke-width="0.7"/>
<line x1="466.5" y1="67.47000000000001" x2="468.3" y2="67.47000000000001" stroke="#111" stroke-width="0.7"/>
<line x1="466.5" y1="56.780000000000015" x2="468.3" y2="56.780000000000015" stroke="#111" stroke-width="0.7"/>
<line x1="466.5" y1="51.43500000000002" x2="468.3" y2="51.43500000000002" stroke="#111" stroke-width="0.7"/>
<line x1="466.5" y1="46.09000000000002" x2="468.3" y2="46.09000000000002" stroke="#111" stroke-width="0.7"/>
<line x1="466.5" y1="40.74500000000002" x2="468.3" y2="40.74500000000002" stroke="#111" stroke-width="0.7"/>
<rect x="477.30" y="58.50" width="14.80" height="83.80" fill="#0a0a0a"/>
<line x1="484.70000000000005" y1="41.2" x2="484.70000000000005" y2="59.0" stroke="#111" stroke-width="1.25"/>
<line x1="481.00000000000006" y1="41.400000000000006" x2="488.40000000000003" y2="41.400000000000006" stroke="#111" stroke-width="1.6"/>
<rect x="497.90" y="114.40" width="14.80" height="27.90" fill="#a9a9a9"/>
<line x1="505.3" y1="104.2" x2="505.3" y2="114.9" stroke="#111" stroke-width="1.25"/>
<line x1="501.6" y1="104.4" x2="509.0" y2="104.4" stroke="#111" stroke-width="1.6"/>
<text x="474" y="35.5" font-size="10.5" fill="#222"><tspan font-style="italic">P</tspan> &lt; .0001</text>
<text x="497" y="160.2" font-size="15" font-weight="bold" text-anchor="middle">CD4<tspan font-size="8.2" dy="-4.5">+</tspan></text>
<text x="497" y="174.8" font-size="15" font-weight="bold" text-anchor="middle">CD8<tspan font-size="8.2" dy="-4.5">+</tspan></text>
<text x="0.2" y="208.6" font-size="17.5" font-weight="bold">B</text>
<text x="146.8" y="211.5" font-size="15" font-weight="bold" text-anchor="middle">gated on Lin<tspan font-size="9.5" dy="-5">-</tspan><tspan dy="5"> cells:</tspan></text>
<path transform="scale(0.4)" d="M70 592h2M169 605h2M87 606h2M75 608h2m148 0h2m46 0h2M164 609h2M75 610h2m48 0h2M68 612h2m1 0h2m4 0h2m135 0h2m9 0h2M207 613h2M71 614h2M74 615h2m132 0h2M68 616h2m78 0h2m43 0h2M69 617h2m58 0h2m66 0h2M69 618h2m9 0h2m148 0h2M267 620h2M74 621h2m204 0h2M88 622h2M74 623h2m111 0h2m55 0h2M169 624h2M74 625h2m135 0h2M83 626h2M70 627h2m8 0h2M86 628h2m15 0h2M69 629h2m6 0h2m181 0h2M79 630h2m10 0h2M104 631h2m110 0h2m38 0h2M71 632h2m0 0h2m5 0h2m5 0h2m17 0h2m160 0h2m3 0h2M81 633h2m19 0h2m46 0h2m106 0h2m24 0h2M118 634h2M72 635h2m-1 0h2m1 0h2m6 0h2m40 0h2m20 0h2m50 0h2m61 0h2m22 0h2M152 636h2m105 0h2m20 0h2M87 637h2m160 0h2m24 0h2m-1 0h2M74 638h2m170 0h2m2 0h2m16 0h2m12 0h2M69 639h2m-1 0h2m184 0h2m29 0h2M80 640h2m0 0h2m12 0h2m182 0h2M70 641h2m188 0h2m5 0h2M82 642h2m205 0h2M86 643h2m183 0h2M68 644h2m184 0h2m39 0h2M69 645h2m2 0h2m0 0h2m11 0h2m173 0h2m13 0h2m-1 0h2m1 0h2M74 646h2m200 0h2m-1 0h2m3 0h2M93 647h2m11 0h2m12 0h2m112 0h2m20 0h2m33 0h2M265 648h2m6 0h2m24 0h2M69 649h2m185 0h2m0 0h2m5 0h2m21 0h2m0 0h2M204 650h2m50 0h2m10 0h2m5 0h2m0 0h2m1 0h2m7 0h2m4 0h2M69 651h2m34 0h2m16 0h2m142 0h2m16 0h2M156 652h2m2 0h2m41 0h2m33 0h2m11 0h2m19 0h2m21 0h2M149 653h2m94 0h2m12 0h2m-1 0h2m9 0h2m-1 0h2m6 0h2m1 0h2m1 0h2M71 654h2m93 0h2m2 0h2m86 0h2m-1 0h2m5 0h2m8 0h2m47 0h2M69 655h2m176 0h2m18 0h2m5 0h2m4 0h2m4 0h2m18 0h2M177 656h2m79 0h2m8 0h2m1 0h2m1 0h2m13 0h2m0 0h2M70 657h2m10 0h2m176 0h2m7 0h2m3 0h2m-1 0h2m3 0h2m11 0h2M68 658h2m196 0h2m-1 0h2m3 0h2m6 0h2M85 659h2m171 0h2m12 0h2m6 0h2m3 0h2M252 660h2m3 0h2m18 0h2m12 0h2m0 0h2M68 661h2m-1 0h2m19 0h2m33 0h2m126 0h2m11 0h2m9 0h2m0 0h2m4 0h2m0 0h2m0 0h2m8 0h2M252 662h2m28 0h2m-1 0h2m15 0h2M194 663h2m0 0h2m53 0h2m7 0h2m16 0h2m11 0h2M246 664h2m16 0h2m-1 0h2m1 0h2m0 0h2m1 0h2m6 0h2m0 0h2m-1 0h2m2 0h2M219 665h2m43 0h2m0 0h2m1 0h2m-1 0h2m6 0h2m-1 0h2m0 0h2m18 0h2m1 0h2M77 666h2m99 0h2m89 0h2m2 0h2m1 0h2m2 0h2m3 0h2m0 0h2m13 0h2m-1 0h2M113 667h2m146 0h2m4 0h2m8 0h2m4 0h2m0 0h2m0 0h2m5 0h2M272 668h2m2 0h2m1 0h2m-1 0h2m5 0h2m-1 0h2m1 0h2m-1 0h2m5 0h2M107 669h2m28 0h2m123 0h2m3 0h2m3 0h2m-1 0h2m0 0h2m3 0h2M69 670h2m182 0h2m7 0h2m-1 0h2m7 0h2m4 0h2m0 0h2m-1 0h2m-1 0h2m2 0h2m0 0h2m1 0h2M238 671h2m16 0h2m7 0h2m2 0h2m1 0h2m1 0h2m2 0h2m3 0h2m3 0h2m6 0h2M261 672h2m6 0h2m4 0h2m-1 0h2m0 0h2m-1 0h2m4 0h2m0 0h2m-1 0h2m14 0h2M120 673h2m79 0h2m51 0h2m2 0h2m1 0h2m0 0h2m5 0h2m-1 0h2m0 0h2m3 0h2m2 0h2m-1 0h2m10 0h2m0 0h2m4 0h2M192 674h2m68 0h2m3 0h2m-1 0h2m-1 0h2m0 0h2m7 0h2m4 0h2m1 0h2m7 0h2m8 0h2M239 675h2m18 0h2m1 0h2m2 0h2m2 0h2m0 0h2m0 0h2m0 0h2m1 0h2m2 0h2m6 0h2M134 676h2m40 0h2m48 0h2m1 0h2m24 0h2m7 0h2m3 0h2m0 0h2m1 0h2m2 0h2m-1 0h2m-1 0h2m-1 0h2m0 0h2m0 0h2m-1 0h2m0 0h2m2 0h2M254 677h2m3 0h2m0 0h2m-1 0h2m1 0h2m4 0h2m1 0h2m-1 0h2m0 0h2m1 0h2m6 0h2M144 678h2m6 0h2m50 0h2m52 0h2m0 0h2m2 0h2m3 0h2m-1 0h2m6 0h2m-1 0h2m0 0h2m-1 0h2m4 0h2m0 0h2m0 0h2m3 0h2m0 0h2m-1 0h2M241 679h2m8 0h2m3 0h2m7 0h2m-1 0h2m0 0h2m0 0h2m0 0h2m1 0h2m-1 0h2m3 0h2m0 0h2m-1 0h2m3 0h2m-1 0h2m-1 0h2m5 0h2m9 0h2M214 680h2m19 0h2m5 0h2m0 0h2m3 0h2m4 0h2m-1 0h2m6 0h2m0 0h2m-1 0h2m6 0h2m1 0h2m-1 0h2m5 0h2m-1 0h2m-1 0h2m1 0h2m-1 0h2m-1 0h2m14 0h2M203 681h2m45 0h2m3 0h2m3 0h2m1 0h2m5 0h2m-1 0h2m-1 0h2m2 0h2m0 0h2m-1 0h2m6 0h2m4 0h2m1 0h2m4 0h2M234 682h2m20 0h2m0 0h2m2 0h2m0 0h2m0 0h2m9 0h2m0 0h2m-1 0h2m1 0h2m-1 0h2m-1 0h2m5 0h2m3 0h2M253 683h2m8 0h2m2 0h2m-1 0h2m-1 0h2m1 0h2m-1 0h2m-1 0h2m-1 0h2m-1 0h2m2 0h2m0 0h2m0 0h2m0 0h2m-1 0h2m-1 0h2m1 0h2m-1 0h2M151 684h2m101 0h2m1 0h2m4 0h2m-1 0h2m1 0h2m0 0h2m2 0h2m0 0h2m-1 0h2m-1 0h2m-1 0h2m-1 0h2m0 0h2m2 0h2m10 0h2m5 0h2m7 0h2M206 685h2m44 0h2m10 0h2m0 0h2m-1 0h2m0 0h2m-1 0h2m0 0h2m-1 0h2m0 0h2m-1 0h2m-1 0h2m-1 0h2m11 0h2m-1 0h2m-1 0h2m20 0h2M103 686h2m79 0h2m72 0h2m0 0h2m2 0h2m1 0h2m-1 0h2m0 0h2m-1 0h2m0 0h2m-1 0h2m-1 0h2m-1 0h2m-1 0h2m-1 0h2m1 0h2m3 0h2m0 0h2m-1 0h2m0 0h2m14 0h2M240 687h2m10 0h2m-1 0h2m1 0h2m-1 0h2m0 0h2m-1 0h2m0 0h2m2 0h2m-1 0h2m-1 0h2m-1 0h2m-1 0h2m1 0h2m-1 0h2m-1 0h2m-1 0h2m-1 0h2m-1 0h2m0 0h2m-1 0h2m1 0h2m0 0h2m-1 0h2m2 0h2m-1 0h2m7 0h2M69 688h2m65 0h2m18 0h2m51 0h2m7 0h2m18 0h2m9 0h2m-1 0h2m2 0h2m0 0h2m3 0h2m2 0h2m-1 0h2m1 0h2m-1 0h2m2 0h2m1 0h2m-1 0h2m-1 0h2m-1 0h2m-1 0h2m0 0h2m1 0h2m2 0h2m15 0h2M218 689h2m18 0h2m4 0h2m2 0h2m-1 0h2m4 0h2m1 0h2m-1 0h2m-1 0h2m3 0h2m-1 0h2m-1 0h2m-1 0h2m0 0h2m-1 0h2m-1 0h2m0 0h2m0 0h2m0 0h2m-1 0h2m-1 0h2m2 0h2m-1 0h2m1 0h2m-1 0h2m3 0h2m1 0h2m6 0h2M71 690h2m19 0h2m6 0h2m12 0h2m17 0h2m6 0h2m42 0h2m25 0h2m40 0h2m3 0h2m-1 0h2m-1 0h2m5 0h2m0 0h2m1 0h2m0 0h2m-1 0h2m-1 0h2m2 0h2m0 0h2m1 0h2m7 0h2m0 0h2m-1 0h2m-1 0h2M201 691h2m48 0h2m4 0h2m2 0h2m1 0h2m-1 0h2m0 0h2m-1 0h2m1 0h2m-1 0h2m-1 0h2m-1 0h2m-1 0h2m-1 0h2m-1 0h2m0 0h2m-1 0h2m-1 0h2m-1 0h2m-1 0h2m-1 0h2m-1 0h2m0 0h2m0 0h2m-1 0h2m-1 0h2m-1 0h2m8 0h2M91 692h2m25 0h2m82 0h2m21 0h2m22 0h2m2 0h2m7 0h2m-1 0h2m3 0h2m1 0h2m-1 0h2m-1 0h2m-1 0h2m-1 0h2m-1 0h2m3 0h2m0 0h2m-1 0h2m0 0h2m20 0h2M77 693h2m32 0h2m10 0h2m2 0h2m23 0h2m6 0h2m48 0h2m2 0h2m14 0h2m31 0h2m0 0h2m0 0h2m-1 0h2m1 0h2m-1 0h2m0 0h2m-1 0h2m-1 0h2m0 0h2m1 0h2m0 0h2m1 0h2m11 0h2m2 0h2m5 0h2M87 694h2m13 0h2m76 0h2m11 0h2m52 0h2m6 0h2m0 0h2m1 0h2m-1 0h2m1 0h2m1 0h2m0 0h2m-1 0h2m-1 0h2m-1 0h2m-1 0h2m-1 0h2m-1 0h2m-1 0h2m0 0h2m-1 0h2m-1 0h2m0 0h2m0 0h2m0 0h2m1 0h2m-1 0h2m1 0h2m0 0h2M153 695h2m49 0h2m30 0h2m19 0h2m-1 0h2m-1 0h2m3 0h2m-1 0h2m-1 0h2m0 0h2m1 0h2m1 0h2m0 0h2m2 0h2m-1 0h2m-1 0h2m0 0h2m0 0h2m1 0h2m4 0h2M87 696h2m18 0h2m25 0h2m13 0h2m9 0h2m83 0h2m11 0h2m-1 0h2m-1 0h2m2 0h2m0 0h2m-1 0h2m0 0h2m-1 0h2m-1 0h2m-1 0h2m2 0h2m-1 0h2m-1 0h2m1 0h2m-1 0h2m3 0h2m1 0h2m0 0h2m5 0h2M120 697h2m44 0h2m12 0h2m17 0h2m22 0h2m0 0h2m28 0h2m5 0h2m0 0h2m-1 0h2m0 0h2m0 0h2m-1 0h2m-1 0h2m-1 0h2m-1 0h2m0 0h2m-1 0h2m-1 0h2m-1 0h2m-1 0h2m-1 0h2m-1 0h2m0 0h2m-1 0h2m-1 0h2m-1 0h2m-1 0h2m-1 0h2m0 0h2m-1 0h2m-1 0h2m2 0h2m0 0h2M87 698h2m82 0h2m12 0h2m14 0h2m23 0h2m6 0h2m7 0h2m11 0h2m0 0h2m-1 0h2m-1 0h2m2 0h2m0 0h2m1 0h2m-1 0h2m-1 0h2m-1 0h2m1 0h2m0 0h2m-1 0h2m-1 0h2m-1 0h2m-1 0h2m0 0h2m1 0h2m2 0h2m-1 0h2m-1 0h2m1 0h2M111 699h2m92 0h2m23 0h2m5 0h2m2 0h2m1 0h2m7 0h2m3 0h2m3 0h2m1 0h2m0 0h2m-1 0h2m-1 0h2m-1 0h2m1 0h2m-1 0h2m-1 0h2m-1 0h2m-1 0h2m-1 0h2m-1 0h2m0 0h2m0 0h2m2 0h2m-1 0h2m0 0h2m0 0h2m0 0h2M74 700h2m48 0h2m37 0h2m40 0h2m7 0h2m31 0h2m5 0h2m0 0h2m0 0h2m0 0h2m-1 0h2m-1 0h2m-1 0h2m0 0h2m0 0h2m1 0h2m0 0h2m-1 0h2m0 0h2m-1 0h2m-1 0h2m-1 0h2m-1 0h2m-1 0h2m-1 0h2m0 0h2m0 0h2m1 0h2m1 0h2m3 0h2m-1 0h2m2 0h2m-1 0h2m20 0h2M71 701h2m9 0h2m68 0h2m20 0h2m3 0h2m8 0h2m6 0h2m7 0h2m0 0h2m9 0h2m31 0h2m-1 0h2m4 0h2m1 0h2m1 0h2m-1 0h2m-1 0h2m0 0h2m-1 0h2m2 0h2m-1 0h2m-1 0h2m-1 0h2m-1 0h2m-1 0h2m0 0h2m-1 0h2m3 0h2m1 0h2m-1 0h2m0 0h2m3 0h2m2 0h2M96 702h2m56 0h2m22 0h2m3 0h2m0 0h2m44 0h2m0 0h2m-1 0h2m21 0h2m-1 0h2m-1 0h2m1 0h2m0 0h2m0 0h2m-1 0h2m-1 0h2m3 0h2m-1 0h2m-1 0h2m-1 0h2m-1 0h2m-1 0h2m0 0h2m-1 0h2m-1 0h2m0 0h2m-1 0h2m0 0h2m-1 0h2m4 0h2m0 0h2m3 0h2m-1 0h2M108 703h2m49 0h2m6 0h2m24 0h2m0 0h2m6 0h2m3 0h2m7 0h2m9 0h2m12 0h2m3 0h2m-1 0h2m5 0h2m2 0h2m-1 0h2m0 0h2m-1 0h2m-1 0h2m0 0h2m-1 0h2m0 0h2m1 0h2m-1 0h2m-1 0h2m-1 0h2m-1 0h2m-1 0h2m-1 0h2m-1 0h2m-1 0h2m-1 0h2m0 0h2m-1 0h2m-1 0h2m-1 0h2m-1 0h2m-1 0h2m2 0h2m-1 0h2m4 0h2m10 0h2M81 704h2m3 0h2m23 0h2m3 0h2m19 0h2m5 0h2m7 0h2m2 0h2m28 0h2m22 0h2m23 0h2m1 0h2m3 0h2m3 0h2m6 0h2m-1 0h2m4 0h2m2 0h2m-1 0h2m-1 0h2m-1 0h2m0 0h2m-1 0h2m-1 0h2m-1 0h2m0 0h2m1 0h2m-1 0h2m5 0h2m2 0h2m1 0h2m3 0h2M90 705h2m-1 0h2m2 0h2m5 0h2m9 0h2m4 0h2m4 0h2m6 0h2m27 0h2m25 0h2m26 0h2m24 0h2m0 0h2m-1 0h2m2 0h2m-1 0h2m-1 0h2m0 0h2m2 0h2m-1 0h2m4 0h2m-1 0h2m0 0h2m0 0h2m-1 0h2m0 0h2m-1 0h2m-1 0h2m0 0h2m-1 0h2m-1 0h2m0 0h2m-1 0h2m0 0h2m-1 0h2m-1 0h2m-1 0h2m-1 0h2m2 0h2m-1 0h2m-1 0h2m9 0h2M71 706h2m3 0h2m9 0h2m5 0h2m-1 0h2m81 0h2m12 0h2m14 0h2m10 0h2m20 0h2m1 0h2m16 0h2m-1 0h2m-1 0h2m0 0h2m-1 0h2m-1 0h2m0 0h2m4 0h2m-1 0h2m-1 0h2m-1 0h2m-1 0h2m-1 0h2m-1 0h2m-1 0h2m-1 0h2m-1 0h2m0 0h2m-1 0h2m-1 0h2m2 0h2m3 0h2m2 0h2m3 0h2M69 707h2m41 0h2m6 0h2m22 0h2m7 0h2m8 0h2m24 0h2m5 0h2m-1 0h2m-1 0h2m11 0h2m2 0h2m21 0h2m-1 0h2m16 0h2m0 0h2m-1 0h2m-1 0h2m-1 0h2m4 0h2m-1 0h2m1 0h2m1 0h2m-1 0h2m-1 0h2m-1 0h2m0 0h2m-1 0h2m0 0h2m-1 0h2m-1 0h2m-1 0h2m0 0h2m0 0h2m1 0h2m-1 0h2m-1 0h2m-1 0h2m11 0h2m0 0h2M97 708h2m5 0h2m3 0h2m1 0h2m-1 0h2m9 0h2m14 0h2m12 0h2m0 0h2m49 0h2m5 0h2m6 0h2m-1 0h2m27 0h2m0 0h2m0 0h2m-1 0h2m1 0h2m0 0h2m3 0h2m0 0h2m1 0h2m-1 0h2m-1 0h2m-1 0h2m-1 0h2m-1 0h2m0 0h2m0 0h2m-1 0h2m-1 0h2m1 0h2m0 0h2m0 0h2m2 0h2m-1 0h2m3 0h2m3 0h2M77 709h2m-1 0h2m20 0h2m5 0h2m16 0h2m8 0h2m33 0h2m23 0h2m-1 0h2m-1 0h2m3 0h2m-1 0h2m-1 0h2m1 0h2m18 0h2m-1 0h2m9 0h2m11 0h2m-1 0h2m1 0h2m0 0h2m3 0h2m-1 0h2m0 0h2m1 0h2m2 0h2m-1 0h2m-1 0h2m-1 0h2m-1 0h2m-1 0h2m-1 0h2m-1 0h2m-1 0h2m-1 0h2m-1 0h2m1 0h2m-1 0h2m-1 0h2m0 0h2m0 0h2m0 0h2m0 0h2M75 710h2m12 0h2m-1 0h2m4 0h2m25 0h2m9 0h2m2 0h2m5 0h2m13 0h2m-1 0h2m0 0h2m11 0h2m4 0h2m9 0h2m9 0h2m14 0h2m7 0h2m10 0h2m2 0h2m0 0h2m0 0h2m-1 0h2m-1 0h2m3 0h2m1 0h2m1 0h2m3 0h2m0 0h2m0 0h2m-1 0h2m-1 0h2m-1 0h2m-1 0h2m-1 0h2m0 0h2m-1 0h2m-1 0h2m0 0h2m-1 0h2m-1 0h2m-1 0h2m1 0h2m-1 0h2m0 0h2m0 0h2m0 0h2m2 0h2M81 711h2m0 0h2m-1 0h2m1 0h2m19 0h2m6 0h2m1 0h2m4 0h2m7 0h2m4 0h2m27 0h2m0 0h2m8 0h2m-1 0h2m5 0h2m0 0h2m3 0h2m-1 0h2m18 0h2m4 0h2m4 0h2m7 0h2m-1 0h2m0 0h2m2 0h2m2 0h2m5 0h2m-1 0h2m-1 0h2m5 0h2m-1 0h2m0 0h2m0 0h2m-1 0h2m-1 0h2m0 0h2m-1 0h2m-1 0h2m-1 0h2m-1 0h2m0 0h2m-1 0h2m0 0h2m0 0h2m-1 0h2m-1 0h2m1 0h2m-1 0h2m-1 0h2m0 0h2m2 0h2m17 0h2M73 712h2m-1 0h2m0 0h2m8 0h2m0 0h2m7 0h2m-1 0h2m1 0h2m13 0h2m0 0h2m0 0h2m-1 0h2m-1 0h2m1 0h2m3 0h2m11 0h2m4 0h2m-1 0h2m9 0h2m16 0h2m1 0h2m3 0h2m9 0h2m2 0h2m3 0h2m1 0h2m3 0h2m3 0h2m15 0h2m1 0h2m6 0h2m3 0h2m0 0h2m0 0h2m0 0h2m1 0h2m0 0h2m-1 0h2m0 0h2m-1 0h2m-1 0h2m0 0h2m0 0h2m-1 0h2m-1 0h2m-1 0h2m1 0h2m0 0h2m1 0h2m1 0h2m0 0h2m5 0h2m22 0h2M69 713h2m8 0h2m15 0h2m15 0h2m6 0h2m3 0h2m8 0h2m9 0h2m0 0h2m13 0h2m22 0h2m11 0h2m0 0h2m-1 0h2m-1 0h2m8 0h2m2 0h2m2 0h2m3 0h2m1 0h2m10 0h2m-1 0h2m6 0h2m2 0h2m-1 0h2m7 0h2m-1 0h2m-1 0h2m-1 0h2m1 0h2m1 0h2m1 0h2m-1 0h2m-1 0h2m2 0h2m-1 0h2m-1 0h2m-1 0h2m-1 0h2m-1 0h2m0 0h2m-1 0h2m2 0h2m3 0h2M68 714h2m26 0h2m8 0h2m-1 0h2m12 0h2m1 0h2m5 0h2m19 0h2m0 0h2m24 0h2m3 0h2m6 0h2m0 0h2m2 0h2m2 0h2m9 0h2m28 0h2m-1 0h2m7 0h2m2 0h2m6 0h2m-1 0h2m-1 0h2m0 0h2m-1 0h2m0 0h2m-1 0h2m-1 0h2m-1 0h2m-1 0h2m-1 0h2m-1 0h2m0 0h2m1 0h2m-1 0h2m-1 0h2m-1 0h2M83 715h2m-1 0h2m0 0h2m10 0h2m3 0h2m5 0h2m18 0h2m-1 0h2m2 0h2m0 0h2m11 0h2m8 0h2m22 0h2m0 0h2m-1 0h2m1 0h2m-1 0h2m2 0h2m7 0h2m4 0h2m0 0h2m24 0h2m1 0h2m6 0h2m2 0h2m5 0h2m0 0h2m-1 0h2m1 0h2m-1 0h2m-1 0h2m-1 0h2m-1 0h2m-1 0h2m-1 0h2m0 0h2m-1 0h2m0 0h2m0 0h2m-1 0h2m-1 0h2m-1 0h2m2 0h2m2 0h2m0 0h2m1 0h2m-1 0h2m2 0h2m3 0h2m7 0h2M71 716h2m-1 0h2m0 0h2m-1 0h2m10 0h2m10 0h2m16 0h2m5 0h2m-1 0h2m-1 0h2m5 0h2m7 0h2m6 0h2m1 0h2m0 0h2m1 0h2m0 0h2m8 0h2m8 0h2m5 0h2m1 0h2m7 0h2m-1 0h2m3 0h2m5 0h2m1 0h2m3 0h2m3 0h2m3 0h2m4 0h2m2 0h2m8 0h2m5 0h2m0 0h2m0 0h2m0 0h2m-1 0h2m-1 0h2m1 0h2m1 0h2m-1 0h2m0 0h2m-1 0h2m-1 0h2m-1 0h2m-1 0h2m-1 0h2m0 0h2m-1 0h2m0 0h2m-1 0h2m-1 0h2m-1 0h2m1 0h2m0 0h2m1 0h2m-1 0h2M68 717h2m5 0h2m1 0h2m6 0h2m7 0h2m3 0h2m17 0h2m5 0h2m3 0h2m3 0h2m2 0h2m0 0h2m15 0h2m1 0h2m3 0h2m6 0h2m2 0h2m0 0h2m4 0h2m1 0h2m0 0h2m-1 0h2m1 0h2m1 0h2m-1 0h2m3 0h2m8 0h2m-1 0h2m0 0h2m14 0h2m6 0h2m-1 0h2m0 0h2m1 0h2m-1 0h2m1 0h2m3 0h2m0 0h2m0 0h2m-1 0h2m4 0h2m-1 0h2m0 0h2m-1 0h2m-1 0h2m-1 0h2m-1 0h2m0 0h2m-1 0h2m0 0h2m0 0h2m-1 0h2m1 0h2m-1 0h2m0 0h2m-1 0h2m1 0h2m0 0h2M94 718h2m27 0h2m3 0h2m0 0h2m1 0h2m3 0h2m1 0h2m6 0h2m6 0h2m17 0h2m0 0h2m21 0h2m1 0h2m2 0h2m-1 0h2m0 0h2m-1 0h2m8 0h2m0 0h2m2 0h2m-1 0h2m-1 0h2m3 0h2m1 0h2m10 0h2m-1 0h2m2 0h2m-1 0h2m7 0h2m1 0h2m0 0h2m-1 0h2m0 0h2m-1 0h2m-1 0h2m-1 0h2m-1 0h2m-1 0h2m-1 0h2m-1 0h2m0 0h2m0 0h2m-1 0h2m-1 0h2m-1 0h2m1 0h2m0 0h2m0 0h2m0 0h2m-1 0h2m0 0h2m1 0h2m2 0h2m1 0h2m11 0h2M70 719h2m2 0h2m12 0h2m25 0h2m6 0h2m4 0h2m18 0h2m-1 0h2m8 0h2m3 0h2m1 0h2m18 0h2m4 0h2m1 0h2m-1 0h2m2 0h2m2 0h2m1 0h2m3 0h2m1 0h2m8 0h2m0 0h2m2 0h2m6 0h2m1 0h2m1 0h2m2 0h2m-1 0h2m3 0h2m-1 0h2m-1 0h2m-1 0h2m1 0h2m-1 0h2m-1 0h2m-1 0h2m0 0h2m-1 0h2m0 0h2m-1 0h2m-1 0h2m0 0h2m-1 0h2m0 0h2m-1 0h2m-1 0h2m0 0h2m2 0h2m-1 0h2m0 0h2m-1 0h2m3 0h2m5 0h2M68 720h2m-1 0h2m-1 0h2m6 0h2m10 0h2m5 0h2m-1 0h2m5 0h2m23 0h2m22 0h2m4 0h2m8 0h2m6 0h2m0 0h2m14 0h2m2 0h2m0 0h2m-1 0h2m-1 0h2m-1 0h2m-1 0h2m15 0h2m7 0h2m1 0h2m0 0h2m1 0h2m2 0h2m3 0h2m1 0h2m4 0h2m5 0h2m-1 0h2m0 0h2m0 0h2m-1 0h2m-1 0h2m-1 0h2m0 0h2m0 0h2m-1 0h2m3 0h2m0 0h2m0 0h2m-1 0h2m1 0h2m1 0h2M69 721h2m-1 0h2m10 0h2m-1 0h2m3 0h2m-1 0h2m10 0h2m0 0h2m12 0h2m14 0h2m-1 0h2m7 0h2m6 0h2m5 0h2m11 0h2m22 0h2m2 0h2m1 0h2m8 0h2m4 0h2m1 0h2m-1 0h2m2 0h2m0 0h2m8 0h2m0 0h2m1 0h2m2 0h2m-1 0h2m-1 0h2m-1 0h2m-1 0h2m-1 0h2m-1 0h2m-1 0h2m-1 0h2m-1 0h2m-1 0h2m-1 0h2m-1 0h2m-1 0h2m1 0h2m1 0h2m0 0h2m-1 0h2m-1 0h2m-1 0h2m-1 0h2m-1 0h2m-1 0h2m0 0h2m-1 0h2m-1 0h2m-1 0h2m0 0h2m2 0h2m1 0h2m-1 0h2m4 0h2m16 0h2M77 722h2m0 0h2m1 0h2m5 0h2m1 0h2m0 0h2m8 0h2m8 0h2m2 0h2m2 0h2m0 0h2m5 0h2m1 0h2m0 0h2m4 0h2m5 0h2m4 0h2m1 0h2m3 0h2m3 0h2m30 0h2m0 0h2m6 0h2m9 0h2m2 0h2m2 0h2m1 0h2m4 0h2m1 0h2m-1 0h2m3 0h2m3 0h2m0 0h2m1 0h2m0 0h2m3 0h2m-1 0h2m0 0h2m4 0h2m-1 0h2m-1 0h2m0 0h2m0 0h2m2 0h2m-1 0h2m-1 0h2m2 0h2m3 0h2m-1 0h2m1 0h2m3 0h2m0 0h2M69 723h2m-1 0h2m6 0h2m1 0h2m5 0h2m1 0h2m4 0h2m14 0h2m9 0h2m2 0h2m-1 0h2m1 0h2m0 0h2m4 0h2m11 0h2m-1 0h2m-1 0h2m16 0h2m-1 0h2m1 0h2m17 0h2m1 0h2m0 0h2m0 0h2m7 0h2m-1 0h2m1 0h2m13 0h2m-1 0h2m2 0h2m1 0h2m1 0h2m-1 0h2m1 0h2m1 0h2m4 0h2m-1 0h2m1 0h2m1 0h2m-1 0h2m1 0h2m2 0h2m-1 0h2m-1 0h2m-1 0h2m-1 0h2m2 0h2m1 0h2m4 0h2m-1 0h2m27 0h2M72 724h2m2 0h2m3 0h2m13 0h2m0 0h2m14 0h2m10 0h2m5 0h2m0 0h2m8 0h2m0 0h2m5 0h2m15 0h2m4 0h2m2 0h2m-1 0h2m6 0h2m6 0h2m-1 0h2m5 0h2m0 0h2m-1 0h2m1 0h2m-1 0h2m12 0h2m1 0h2m1 0h2m-1 0h2m8 0h2m3 0h2m3 0h2m-1 0h2m2 0h2m-1 0h2m1 0h2m1 0h2m2 0h2m0 0h2m3 0h2m-1 0h2m-1 0h2m-1 0h2m-1 0h2m-1 0h2m-1 0h2m-1 0h2m-1 0h2m0 0h2m-1 0h2m0 0h2m-1 0h2m0 0h2m-1 0h2m0 0h2m0 0h2m1 0h2M74 725h2m18 0h2m19 0h2m-1 0h2m0 0h2m1 0h2m21 0h2m7 0h2m7 0h2m2 0h2m-1 0h2m6 0h2m4 0h2m-1 0h2m6 0h2m2 0h2m0 0h2m5 0h2m0 0h2m0 0h2m2 0h2m3 0h2m1 0h2m-1 0h2m4 0h2m5 0h2m7 0h2m-1 0h2m1 0h2m1 0h2m1 0h2m0 0h2m12 0h2m-1 0h2m7 0h2m-1 0h2m-1 0h2m-1 0h2m-1 0h2m2 0h2m1 0h2m2 0h2m1 0h2m2 0h2m0 0h2M72 726h2m2 0h2m4 0h2m-1 0h2m9 0h2m1 0h2m16 0h2m1 0h2m-1 0h2m5 0h2m5 0h2m4 0h2m0 0h2m2 0h2m-1 0h2m-1 0h2m4 0h2m-1 0h2m-1 0h2m-1 0h2m1 0h2m4 0h2m5 0h2m4 0h2m5 0h2m10 0h2m10 0h2m3 0h2m8 0h2m8 0h2m-1 0h2m-1 0h2m3 0h2m0 0h2m0 0h2m-1 0h2m0 0h2m0 0h2m0 0h2m-1 0h2m5 0h2m3 0h2m0 0h2m-1 0h2m4 0h2m-1 0h2m-1 0h2m-1 0h2m0 0h2m-1 0h2m-1 0h2m-1 0h2m3 0h2m0 0h2m0 0h2m-1 0h2m-1 0h2m0 0h2m2 0h2m14 0h2M76 727h2m3 0h2m3 0h2m-1 0h2m2 0h2m4 0h2m-1 0h2m4 0h2m3 0h2m5 0h2m-1 0h2m13 0h2m19 0h2m5 0h2m14 0h2m1 0h2m-1 0h2m10 0h2m6 0h2m0 0h2m5 0h2m0 0h2m0 0h2m1 0h2m0 0h2m-1 0h2m1 0h2m5 0h2m-1 0h2m1 0h2m-1 0h2m3 0h2m2 0h2m3 0h2m2 0h2m-1 0h2m2 0h2m-1 0h2m-1 0h2m-1 0h2m6 0h2m1 0h2m-1 0h2m0 0h2m1 0h2m0 0h2m-1 0h2m0 0h2m-1 0h2m-1 0h2m-1 0h2m1 0h2m1 0h2m1 0h2m1 0h2M72 728h2m6 0h2m11 0h2m25 0h2m-1 0h2m3 0h2m2 0h2m8 0h2m1 0h2m0 0h2m5 0h2m3 0h2m0 0h2m4 0h2m3 0h2m-1 0h2m-1 0h2m-1 0h2m9 0h2m5 0h2m5 0h2m4 0h2m2 0h2m8 0h2m0 0h2m3 0h2m4 0h2m0 0h2m2 0h2m0 0h2m-1 0h2m-1 0h2m1 0h2m0 0h2m-1 0h2m-1 0h2m-1 0h2m1 0h2m1 0h2m-1 0h2m10 0h2m-1 0h2m-1 0h2m0 0h2m0 0h2m-1 0h2m0 0h2m-1 0h2m-1 0h2m2 0h2m0 0h2m-1 0h2m0 0h2m-1 0h2m0 0h2m1 0h2m5 0h2m4 0h2M68 729h2m3 0h2m3 0h2m0 0h2m4 0h2m4 0h2m-1 0h2m-1 0h2m1 0h2m-1 0h2m6 0h2m0 0h2m8 0h2m6 0h2m0 0h2m2 0h2m3 0h2m7 0h2m1 0h2m21 0h2m-1 0h2m1 0h2m9 0h2m0 0h2m6 0h2m6 0h2m-1 0h2m2 0h2m0 0h2m7 0h2m1 0h2m0 0h2m8 0h2m19 0h2m5 0h2m-1 0h2m-1 0h2m-1 0h2m-1 0h2m0 0h2m0 0h2m1 0h2m-1 0h2m0 0h2m0 0h2m0 0h2m-1 0h2m3 0h2m3 0h2m2 0h2m3 0h2M69 730h2m9 0h2m1 0h2m5 0h2m2 0h2m-1 0h2m5 0h2m0 0h2m-1 0h2m0 0h2m10 0h2m-1 0h2m0 0h2m1 0h2m6 0h2m2 0h2m0 0h2m-1 0h2m1 0h2m0 0h2m10 0h2m16 0h2m3 0h2m1 0h2m-1 0h2m4 0h2m-1 0h2m-1 0h2m0 0h2m2 0h2m4 0h2m2 0h2m3 0h2m5 0h2m16 0h2m-1 0h2m6 0h2m-1 0h2m-1 0h2m3 0h2m1 0h2m-1 0h2m5 0h2m-1 0h2m-1 0h2m-1 0h2m-1 0h2m-1 0h2m0 0h2m-1 0h2m1 0h2m0 0h2m1 0h2m-1 0h2m0 0h2m-1 0h2m-1 0h2m-1 0h2m0 0h2m2 0h2m1 0h2m-1 0h2m1 0h2M77 731h2m13 0h2m12 0h2m-1 0h2m3 0h2m6 0h2m0 0h2m0 0h2m6 0h2m7 0h2m15 0h2m6 0h2m7 0h2m0 0h2m17 0h2m6 0h2m3 0h2m-1 0h2m2 0h2m5 0h2m1 0h2m1 0h2m-1 0h2m5 0h2m-1 0h2m1 0h2m-1 0h2m0 0h2m0 0h2m-1 0h2m-1 0h2m2 0h2m1 0h2m1 0h2m12 0h2m-1 0h2m1 0h2m-1 0h2m0 0h2m0 0h2m-1 0h2m-1 0h2m-1 0h2m2 0h2m0 0h2m-1 0h2m-1 0h2m1 0h2m3 0h2m6 0h2m4 0h2m0 0h2M68 732h2m-1 0h2m6 0h2m14 0h2m2 0h2m17 0h2m6 0h2m4 0h2m27 0h2m17 0h2m1 0h2m3 0h2m3 0h2m4 0h2m2 0h2m3 0h2m0 0h2m-1 0h2m2 0h2m-1 0h2m1 0h2m3 0h2m2 0h2m0 0h2m0 0h2m1 0h2m16 0h2m0 0h2m1 0h2m-1 0h2m5 0h2m-1 0h2m4 0h2m1 0h2m-1 0h2m0 0h2m4 0h2m1 0h2m0 0h2m2 0h2m2 0h2m-1 0h2m0 0h2M79 733h2m2 0h2m7 0h2m0 0h2m8 0h2m4 0h2m8 0h2m0 0h2m0 0h2m0 0h2m-1 0h2m-1 0h2m10 0h2m9 0h2m1 0h2m16 0h2m3 0h2m5 0h2m3 0h2m1 0h2m1 0h2m2 0h2m0 0h2m3 0h2m-1 0h2m0 0h2m-1 0h2m1 0h2m2 0h2m-1 0h2m7 0h2m0 0h2m17 0h2m2 0h2m0 0h2m-1 0h2m-1 0h2m1 0h2m-1 0h2m1 0h2m3 0h2m-1 0h2m-1 0h2m0 0h2m-1 0h2m-1 0h2m2 0h2m3 0h2m-1 0h2m-1 0h2m2 0h2m-1 0h2m5 0h2m8 0h2m14 0h2M69 734h2m-1 0h2m4 0h2m4 0h2m5 0h2m1 0h2m12 0h2m4 0h2m-1 0h2m4 0h2m3 0h2m11 0h2m9 0h2m27 0h2m14 0h2m-1 0h2m1 0h2m6 0h2m0 0h2m0 0h2m16 0h2m5 0h2m1 0h2m-1 0h2m-1 0h2m0 0h2m3 0h2m9 0h2m6 0h2m0 0h2m1 0h2m0 0h2m1 0h2m0 0h2m-1 0h2m-1 0h2m-1 0h2m3 0h2m-1 0h2m-1 0h2m0 0h2m4 0h2m10 0h2M94 735h2m2 0h2m6 0h2m2 0h2m0 0h2m5 0h2m10 0h2m3 0h2m7 0h2m0 0h2m8 0h2m-1 0h2m9 0h2m2 0h2m12 0h2m1 0h2m7 0h2m3 0h2m6 0h2m-1 0h2m7 0h2m14 0h2m7 0h2m2 0h2m0 0h2m0 0h2m0 0h2m14 0h2m2 0h2m-1 0h2m-1 0h2m-1 0h2m0 0h2m0 0h2m-1 0h2m3 0h2m-1 0h2m1 0h2m-1 0h2m0 0h2M73 736h2m0 0h2m0 0h2m6 0h2m-1 0h2m-1 0h2m4 0h2m-1 0h2m1 0h2m4 0h2m3 0h2m4 0h2m11 0h2m6 0h2m2 0h2m7 0h2m-1 0h2m5 0h2m6 0h2m2 0h2m7 0h2m5 0h2m0 0h2m8 0h2m3 0h2m-1 0h2m4 0h2m2 0h2m4 0h2m6 0h2m0 0h2m-1 0h2m2 0h2m2 0h2m3 0h2m0 0h2m2 0h2m4 0h2m0 0h2m9 0h2m0 0h2m0 0h2m-1 0h2m-1 0h2m1 0h2m-1 0h2m0 0h2m1 0h2m-1 0h2m-1 0h2m-1 0h2m1 0h2m-1 0h2m0 0h2m3 0h2M70 737h2m7 0h2m3 0h2m10 0h2m0 0h2m7 0h2m13 0h2m-1 0h2m12 0h2m0 0h2m5 0h2m3 0h2m2 0h2m3 0h2m4 0h2m0 0h2m0 0h2m-1 0h2m2 0h2m8 0h2m3 0h2m-1 0h2m8 0h2m2 0h2m5 0h2m6 0h2m9 0h2m4 0h2m4 0h2m-1 0h2m2 0h2m-1 0h2m1 0h2m1 0h2m0 0h2m0 0h2m2 0h2m0 0h2m0 0h2m-1 0h2m0 0h2m-1 0h2m-1 0h2m1 0h2m-1 0h2m-1 0h2m-1 0h2m0 0h2m3 0h2m-1 0h2m-1 0h2m1 0h2m-1 0h2m-1 0h2m3 0h2m1 0h2M75 738h2m4 0h2m2 0h2m-1 0h2m6 0h2m6 0h2m1 0h2m9 0h2m16 0h2m9 0h2m12 0h2m1 0h2m0 0h2m5 0h2m1 0h2m-1 0h2m3 0h2m8 0h2m2 0h2m7 0h2m7 0h2m5 0h2m1 0h2m1 0h2m0 0h2m5 0h2m1 0h2m1 0h2m5 0h2m3 0h2m-1 0h2m3 0h2m2 0h2m0 0h2m0 0h2m1 0h2m2 0h2m-1 0h2m0 0h2m0 0h2m2 0h2m1 0h2m0 0h2m-1 0h2m-1 0h2M71 739h2m6 0h2m3 0h2m-1 0h2m5 0h2m3 0h2m1 0h2m5 0h2m11 0h2m2 0h2m8 0h2m4 0h2m2 0h2m0 0h2m7 0h2m9 0h2m4 0h2m-1 0h2m1 0h2m0 0h2m6 0h2m2 0h2m0 0h2m3 0h2m16 0h2m2 0h2m10 0h2m-1 0h2m3 0h2m2 0h2m-1 0h2m5 0h2m2 0h2m1 0h2m-1 0h2m4 0h2m1 0h2m0 0h2m-1 0h2m5 0h2m3 0h2m0 0h2m-1 0h2m1 0h2m0 0h2m-1 0h2m2 0h2m0 0h2m1 0h2M73 740h2m0 0h2m9 0h2m1 0h2m6 0h2m8 0h2m3 0h2m4 0h2m14 0h2m11 0h2m9 0h2m0 0h2m-1 0h2m6 0h2m6 0h2m3 0h2m8 0h2m7 0h2m-1 0h2m13 0h2m6 0h2m6 0h2m-1 0h2m4 0h2m3 0h2m2 0h2m0 0h2m4 0h2m2 0h2m0 0h2m-1 0h2m10 0h2m-1 0h2m0 0h2m-1 0h2m0 0h2m1 0h2m-1 0h2m-1 0h2m-1 0h2m-1 0h2m0 0h2m0 0h2m19 0h2M69 741h2m8 0h2m4 0h2m0 0h2m0 0h2m1 0h2m0 0h2m11 0h2m2 0h2m0 0h2m2 0h2m-1 0h2m1 0h2m2 0h2m2 0h2m4 0h2m21 0h2m0 0h2m5 0h2m11 0h2m1 0h2m1 0h2m7 0h2m-1 0h2m3 0h2m23 0h2m9 0h2m6 0h2m18 0h2m4 0h2m0 0h2m0 0h2m-1 0h2m3 0h2m3 0h2m2 0h2m1 0h2m1 0h2M69 742h2m9 0h2m9 0h2m7 0h2m12 0h2m15 0h2m1 0h2m-1 0h2m6 0h2m11 0h2m0 0h2m2 0h2m-1 0h2m-1 0h2m7 0h2m1 0h2m0 0h2m-1 0h2m16 0h2m0 0h2m3 0h2m0 0h2m9 0h2m5 0h2m1 0h2m-1 0h2m6 0h2m4 0h2m1 0h2m2 0h2m1 0h2m17 0h2m-1 0h2m1 0h2m0 0h2m0 0h2m-1 0h2m-1 0h2m6 0h2m-1 0h2M70 743h2m7 0h2m-1 0h2m6 0h2m7 0h2m4 0h2m4 0h2m2 0h2m3 0h2m1 0h2m4 0h2m10 0h2m1 0h2m4 0h2m9 0h2m9 0h2m12 0h2m6 0h2m0 0h2m16 0h2m4 0h2m18 0h2m8 0h2m1 0h2m-1 0h2m-1 0h2m1 0h2m-1 0h2m-1 0h2m2 0h2m-1 0h2m3 0h2m2 0h2m0 0h2m0 0h2m4 0h2m3 0h2m4 0h2m3 0h2M75 744h2m13 0h2m12 0h2m2 0h2m13 0h2m3 0h2m21 0h2m12 0h2m19 0h2m4 0h2m10 0h2m13 0h2m10 0h2m12 0h2m-1 0h2m4 0h2m1 0h2m3 0h2m7 0h2m-1 0h2m1 0h2m3 0h2m1 0h2m-1 0h2m-1 0h2m2 0h2m-1 0h2m15 0h2M70 745h2m2 0h2m16 0h2m15 0h2m1 0h2m2 0h2m10 0h2m1 0h2m5 0h2m1 0h2m0 0h2m1 0h2m13 0h2m1 0h2m5 0h2m10 0h2m17 0h2m13 0h2m3 0h2m7 0h2m15 0h2m19 0h2m10 0h2m0 0h2m-1 0h2m1 0h2m1 0h2m0 0h2m8 0h2M68 746h2m12 0h2m11 0h2m7 0h2m10 0h2m2 0h2m16 0h2m3 0h2m-1 0h2m1 0h2m-1 0h2m3 0h2m3 0h2m0 0h2m34 0h2m11 0h2m3 0h2m10 0h2m8 0h2m2 0h2m7 0h2m0 0h2m1 0h2m3 0h2m0 0h2m10 0h2m5 0h2m0 0h2m-1 0h2m-1 0h2m7 0h2m1 0h2m14 0h2M87 747h2m1 0h2m2 0h2m11 0h2m11 0h2m10 0h2m6 0h2m27 0h2m10 0h2m3 0h2m2 0h2m1 0h2m-1 0h2m-1 0h2m14 0h2m-1 0h2m16 0h2m2 0h2m0 0h2m9 0h2m1 0h2m1 0h2m0 0h2m-1 0h2m9 0h2m-1 0h2m5 0h2m5 0h2m0 0h2m4 0h2m20 0h2m-1 0h2M81 748h2m15 0h2m8 0h2m0 0h2m2 0h2m20 0h2m21 0h2m14 0h2m0 0h2m1 0h2m28 0h2m1 0h2m16 0h2m-1 0h2m12 0h2m-1 0h2m1 0h2m1 0h2m4 0h2m6 0h2m-1 0h2m0 0h2m5 0h2m2 0h2m1 0h2m10 0h2M71 749h2m3 0h2m0 0h2m2 0h2m9 0h2m1 0h2m18 0h2m1 0h2m12 0h2m0 0h2m2 0h2m-1 0h2m38 0h2m8 0h2m8 0h2m16 0h2m1 0h2m0 0h2m8 0h2m-1 0h2m-1 0h2m9 0h2m1 0h2m16 0h2m2 0h2m-1 0h2m0 0h2m2 0h2m-1 0h2m10 0h2m1 0h2m5 0h2M72 750h2m0 0h2m11 0h2m3 0h2m2 0h2m4 0h2m25 0h2m13 0h2m7 0h2m8 0h2m-1 0h2m11 0h2m-1 0h2m-1 0h2m2 0h2m1 0h2m3 0h2m11 0h2m0 0h2m26 0h2m7 0h2m4 0h2m0 0h2m6 0h2m8 0h2m5 0h2m3 0h2m-1 0h2m10 0h2M69 751h2m22 0h2m9 0h2m5 0h2m12 0h2m-1 0h2m42 0h2m6 0h2m7 0h2m24 0h2m3 0h2m19 0h2m-1 0h2m4 0h2m4 0h2m1 0h2m-1 0h2m2 0h2m7 0h2m4 0h2m5 0h2m1 0h2m0 0h2m10 0h2m2 0h2m-1 0h2M87 752h2m6 0h2m28 0h2m54 0h2m7 0h2m5 0h2m1 0h2m12 0h2m0 0h2m10 0h2m7 0h2m15 0h2m1 0h2m5 0h2m5 0h2m7 0h2m1 0h2m-1 0h2m1 0h2m2 0h2m-1 0h2M81 753h2m5 0h2m44 0h2m10 0h2m10 0h2m8 0h2m1 0h2m28 0h2m-1 0h2m1 0h2m12 0h2m29 0h2m13 0h2m4 0h2m0 0h2m0 0h2m2 0h2m2 0h2m1 0h2m16 0h2M71 754h2m3 0h2m3 0h2m-1 0h2m17 0h2m19 0h2m3 0h2m4 0h2m42 0h2m47 0h2m14 0h2m0 0h2m6 0h2m12 0h2m3 0h2m12 0h2m2 0h2M85 755h2m11 0h2m5 0h2m78 0h2m17 0h2m3 0h2m7 0h2m-1 0h2m1 0h2m0 0h2m4 0h2m33 0h2m9 0h2m1 0h2m-1 0h2m0 0h2m2 0h2m6 0h2m2 0h2M93 756h2m6 0h2m0 0h2m7 0h2m9 0h2m2 0h2m15 0h2m28 0h2m14 0h2m39 0h2m12 0h2m9 0h2m4 0h2m11 0h2m-1 0h2m10 0h2m1 0h2m0 0h2M68 757h2m9 0h2m20 0h2m1 0h2m30 0h2m5 0h2m2 0h2m0 0h2m12 0h2m0 0h2m3 0h2m28 0h2m11 0h2m7 0h2m15 0h2m10 0h2m8 0h2m10 0h2m4 0h2m-1 0h2m1 0h2m-1 0h2m-1 0h2m6 0h2M102 758h2m67 0h2m10 0h2m11 0h2m7 0h2m19 0h2m21 0h2m-1 0h2m0 0h2m4 0h2m2 0h2m11 0h2m0 0h2m7 0h2m5 0h2M71 759h2m46 0h2m0 0h2m8 0h2m28 0h2m39 0h2m1 0h2m6 0h2m35 0h2m16 0h2m14 0h2m4 0h2m10 0h2m2 0h2M69 760h2m-1 0h2m27 0h2m0 0h2m90 0h2m24 0h2m1 0h2m23 0h2m6 0h2m-1 0h2m8 0h2m13 0h2m0 0h2m0 0h2m24 0h2M88 761h2m13 0h2m25 0h2m9 0h2m27 0h2m29 0h2m18 0h2m24 0h2m21 0h2m7 0h2m5 0h2m8 0h2M73 762h2m21 0h2m0 0h2m41 0h2m4 0h2m15 0h2m61 0h2m2 0h2m-1 0h2m12 0h2m11 0h2m0 0h2m4 0h2m6 0h2m2 0h2m17 0h2M107 763h2m111 0h2m14 0h2m20 0h2m29 0h2m1 0h2M69 764h2m25 0h2m21 0h2m24 0h2m2 0h2m3 0h2m51 0h2m70 0h2m3 0h2m-1 0h2m0 0h2M190 765h2m8 0h2m40 0h2m14 0h2m6 0h2m13 0h2m12 0h2M129 766h2m15 0h2m14 0h2m121 0h2M215 767h2m29 0h2m24 0h2M155 768h2m82 0h2m20 0h2m8 0h2M175 770h2m51 0h2m9 0h2m2 0h2m14 0h2m11 0h2m11 0h2m0 0h2M255 771h2m8 0h2m0 0h2M111 772h2m24 0h2m94 0h2m45 0h2m0 0h2M157 773h2m76 0h2M295 774h2m-1 0h2M110 775h2m35 0h2m110 0h2m16 0h2M79 776h2m158 0h2m31 0h2m11 0h2M203 777h2m56 0h2m1 0h2m0 0h2M122 778h2m17 0h2m92 0h2M72 779h2m199 0h2M68 780h2m10 0h2m132 0h2m73 0h2M151 781h2M232 782h2M212 783h2M120 784h2M101 786h2m154 0h2m10 0h2M256 787h2m20 0h2M120 788h2m157 0h2M277 789h2M261 790h2M266 791h2m4 0h2M259 792h2M298 793h2M68 794h2M68 803h2M69 804h2M68 810h2" stroke="#000" stroke-width="2" fill="none"/>
<line x1="98.9" y1="220.5" x2="98.9" y2="329.2" stroke="#555" stroke-width="0.9"/>
<line x1="26.6" y1="274.6" x2="136.2" y2="274.6" stroke="#555" stroke-width="0.9"/>
<rect x="26.6" y="220.5" width="109.6" height="108.69999999999999" fill="none" stroke="#333" stroke-width="1"/>
<path d="M26.6 329.2v2.2M26.6 329.2h-2.2M34.8 329.2v1.1M26.6 321.0h-1.1M39.7 329.2v1.1M26.6 316.2h-1.1M43.1 329.2v1.1M26.6 312.8h-1.1M45.8 329.2v1.1M26.6 310.2h-1.1M47.9 329.2v1.1M26.6 308.1h-1.1M49.8 329.2v1.1M26.6 306.2h-1.1M51.3 329.2v1.1M26.6 304.7h-1.1M52.7 329.2v1.1M26.6 303.3h-1.1M54.0 329.2v2.2M26.6 302.0h-2.2M62.2 329.2v1.1M26.6 293.8h-1.1M67.1 329.2v1.1M26.6 289.1h-1.1M70.5 329.2v1.1M26.6 285.7h-1.1M73.2 329.2v1.1M26.6 283.0h-1.1M75.3 329.2v1.1M26.6 280.9h-1.1M77.2 329.2v1.1M26.6 279.1h-1.1M78.7 329.2v1.1M26.6 277.5h-1.1M80.1 329.2v1.1M26.6 276.1h-1.1M81.4 329.2v2.2M26.6 274.9h-2.2M89.6 329.2v1.1M26.6 266.7h-1.1M94.5 329.2v1.1M26.6 261.9h-1.1M97.9 329.2v1.1M26.6 258.5h-1.1M100.6 329.2v1.1M26.6 255.9h-1.1M102.7 329.2v1.1M26.6 253.7h-1.1M104.6 329.2v1.1M26.6 251.9h-1.1M106.1 329.2v1.1M26.6 250.3h-1.1M107.5 329.2v1.1M26.6 248.9h-1.1M108.8 329.2v2.2M26.6 247.7h-2.2M117.0 329.2v1.1M26.6 239.5h-1.1M121.9 329.2v1.1M26.6 234.7h-1.1M125.3 329.2v1.1M26.6 231.3h-1.1M128.0 329.2v1.1M26.6 228.7h-1.1M130.1 329.2v1.1M26.6 226.5h-1.1M132.0 329.2v1.1M26.6 224.7h-1.1M133.5 329.2v1.1M26.6 223.1h-1.1M134.9 329.2v1.1M26.6 221.7h-1.1M136.2 329.2v2.2M26.6 220.5h-2.2" stroke="#444" stroke-width="0.55" fill="none"/>
<path transform="scale(0.4)" d="M363 605h2M376 606h2M368 607h2M461 609h2m27 0h2M372 610h2M375 612h2M368 613h2m3 0h2M372 616h2m81 0h2M361 617h2M361 618h2m-1 0h2M366 619h2M370 620h2m51 0h2M364 621h2M361 622h2m24 0h2m106 0h2M364 623h2M365 624h2M363 625h2M362 626h2m64 0h2M463 627h2M361 628h2m-1 0h2M363 629h2M363 630h2m68 0h2m39 0h2m4 0h2m85 0h2M362 631h2m2 0h2M362 632h2m4 0h2m22 0h2m172 0h2M364 633h2m84 0h2m52 0h2M366 634h2M361 635h2m3 0h2m98 0h2M373 636h2m4 0h2M362 637h2m1 0h2m0 0h2m5 0h2m84 0h2M362 638h2M362 639h2m84 0h2M361 640h2m4 0h2m204 0h2M563 641h2M369 643h2m137 0h2M362 645h2m-1 0h2m28 0h2M364 646h2M362 647h2m-1 0h2m70 0h2m140 0h2m12 0h2M361 648h2m0 0h2m209 0h2M375 649h2m189 0h2M512 651h2m-1 0h2m68 0h2M448 652h2m62 0h2m43 0h2m19 0h2m15 0h2m10 0h2M370 653h2m-1 0h2m50 0h2m158 0h2M362 654h2m-1 0h2M542 655h2m22 0h2M361 656h2m5 0h2m183 0h2M565 657h2m43 0h2M361 658h2M362 659h2m111 0h2m86 0h2m4 0h2M574 660h2m2 0h2m9 0h2M363 661h2m209 0h2m4 0h2M362 662h2m199 0h2m9 0h2m15 0h2M597 663h2M516 664h2m38 0h2m1 0h2m31 0h2M581 665h2m0 0h2m10 0h2M364 666h2m200 0h2m8 0h2m7 0h2m5 0h2m9 0h2M397 667h2m90 0h2m96 0h2m7 0h2m5 0h2m7 0h2M362 668h2m217 0h2M488 669h2m80 0h2m5 0h2m5 0h2m12 0h2M481 670h2m83 0h2m15 0h2m4 0h2m5 0h2M363 671h2m0 0h2m213 0h2m-1 0h2m2 0h2m5 0h2m12 0h2m2 0h2M366 672h2m35 0h2m170 0h2m0 0h2M362 673h2m209 0h2m1 0h2M399 674h2m16 0h2m150 0h2m9 0h2M361 675h2m-1 0h2m201 0h2m2 0h2m1 0h2m17 0h2M446 676h2m112 0h2m2 0h2m-1 0h2m0 0h2m22 0h2m3 0h2m8 0h2m4 0h2M488 677h2m77 0h2m-1 0h2m-1 0h2m2 0h2m15 0h2M363 678h2m47 0h2m13 0h2m141 0h2m6 0h2m16 0h2m3 0h2M364 679h2m207 0h2m-1 0h2m7 0h2m-1 0h2m0 0h2m1 0h2m-1 0h2M363 680h2m209 0h2m4 0h2m0 0h2M363 681h2m202 0h2m-1 0h2m10 0h2m3 0h2m1 0h2m10 0h2m4 0h2M572 682h2m3 0h2m4 0h2m-1 0h2m0 0h2m2 0h2M563 683h2m15 0h2m2 0h2m3 0h2m-1 0h2M571 684h2m6 0h2m0 0h2m-1 0h2m3 0h2m6 0h2M545 685h2m16 0h2m3 0h2m0 0h2m5 0h2m-1 0h2m-1 0h2m-1 0h2m0 0h2M565 686h2m2 0h2m-1 0h2m3 0h2m1 0h2m4 0h2m2 0h2m-1 0h2m6 0h2M362 687h2m123 0h2m41 0h2m45 0h2m-1 0h2m-1 0h2m-1 0h2m-1 0h2m0 0h2m3 0h2m23 0h2m12 0h2M361 688h2m-1 0h2m191 0h2m4 0h2m14 0h2m0 0h2m3 0h2m4 0h2m0 0h2m1 0h2m4 0h2M364 689h2m199 0h2m4 0h2m-1 0h2m-1 0h2m-1 0h2m2 0h2m1 0h2m-1 0h2m0 0h2m-1 0h2m3 0h2m1 0h2m0 0h2M361 690h2m131 0h2m61 0h2m11 0h2m3 0h2m6 0h2m2 0h2m1 0h2m20 0h2M462 691h2m88 0h2m13 0h2m3 0h2m0 0h2m6 0h2m3 0h2m2 0h2m0 0h2M540 692h2m24 0h2m8 0h2m3 0h2m-1 0h2m1 0h2m0 0h2m7 0h2M362 693h2m-1 0h2m201 0h2m13 0h2m0 0h2m-1 0h2m-1 0h2m18 0h2m0 0h2M504 694h2m46 0h2m3 0h2m1 0h2m20 0h2m-1 0h2m-1 0h2m0 0h2m2 0h2m7 0h2M361 695h2m22 0h2m172 0h2m10 0h2m12 0h2m2 0h2m5 0h2M362 696h2m197 0h2m11 0h2m-1 0h2m3 0h2m2 0h2m1 0h2m1 0h2m7 0h2M383 697h2m41 0h2m111 0h2m24 0h2m0 0h2m2 0h2m-1 0h2m8 0h2m0 0h2m2 0h2m-1 0h2m-1 0h2m2 0h2m-1 0h2m31 0h2M365 698h2m137 0h2m1 0h2m25 0h2m33 0h2m-1 0h2m-1 0h2m2 0h2m-1 0h2m-1 0h2m6 0h2m-1 0h2m12 0h2M390 699h2m6 0h2m122 0h2m8 0h2m22 0h2m1 0h2m0 0h2m4 0h2m4 0h2m0 0h2m-1 0h2m1 0h2m1 0h2m-1 0h2m-1 0h2m0 0h2m1 0h2m0 0h2m-1 0h2m9 0h2m3 0h2m5 0h2M389 700h2m19 0h2m157 0h2m0 0h2m1 0h2m-1 0h2m4 0h2m0 0h2m0 0h2m0 0h2m-1 0h2m0 0h2m0 0h2m0 0h2m1 0h2M361 701h2m15 0h2m59 0h2m112 0h2m22 0h2m8 0h2m4 0h2m0 0h2m3 0h2m0 0h2M362 702h2m54 0h2m110 0h2m31 0h2m10 0h2m2 0h2m10 0h2m0 0h2m13 0h2M362 703h2m0 0h2m27 0h2m125 0h2m9 0h2m18 0h2m11 0h2m5 0h2m0 0h2m0 0h2m0 0h2m2 0h2m-1 0h2m-1 0h2m-1 0h2m-1 0h2m0 0h2m2 0h2m2 0h2m2 0h2m2 0h2m0 0h2m9 0h2M366 704h2m29 0h2m32 0h2m2 0h2m4 0h2m37 0h2m6 0h2m55 0h2m16 0h2m2 0h2m0 0h2m2 0h2m-1 0h2m0 0h2m2 0h2m21 0h2M362 705h2m42 0h2m80 0h2m24 0h2m12 0h2m16 0h2m5 0h2m6 0h2m3 0h2m1 0h2m0 0h2m3 0h2m0 0h2m-1 0h2m0 0h2m0 0h2m3 0h2m4 0h2m2 0h2m10 0h2M361 706h2m0 0h2m32 0h2m18 0h2m8 0h2m41 0h2m-1 0h2m64 0h2m0 0h2m16 0h2m10 0h2m4 0h2m7 0h2m2 0h2m0 0h2m-1 0h2m0 0h2m3 0h2M400 707h2m50 0h2m84 0h2m2 0h2m12 0h2m10 0h2m8 0h2m-1 0h2m7 0h2m11 0h2M365 708h2m14 0h2m34 0h2m16 0h2m1 0h2m12 0h2m24 0h2m72 0h2m-1 0h2m14 0h2m10 0h2m2 0h2m16 0h2m0 0h2m2 0h2M362 709h2m-1 0h2m158 0h2m5 0h2m1 0h2m6 0h2m27 0h2m3 0h2m1 0h2m0 0h2m2 0h2m6 0h2m-1 0h2m16 0h2M417 710h2m7 0h2m3 0h2m4 0h2m51 0h2m0 0h2m5 0h2m27 0h2m27 0h2m2 0h2m6 0h2m-1 0h2m6 0h2m0 0h2m7 0h2m4 0h2m9 0h2m2 0h2M361 711h2m3 0h2m17 0h2m19 0h2m28 0h2m25 0h2m70 0h2m2 0h2m6 0h2m14 0h2m2 0h2m3 0h2m-1 0h2m1 0h2m1 0h2m-1 0h2m-1 0h2m1 0h2m-1 0h2m0 0h2m-1 0h2m1 0h2m-1 0h2m0 0h2m2 0h2m1 0h2m4 0h2M361 712h2m4 0h2m10 0h2m52 0h2m31 0h2m6 0h2m3 0h2m5 0h2m14 0h2m25 0h2m8 0h2m4 0h2m6 0h2m11 0h2m4 0h2m-1 0h2m2 0h2m-1 0h2m-1 0h2m-1 0h2m-1 0h2m-1 0h2m-1 0h2m0 0h2m-1 0h2m1 0h2m0 0h2m2 0h2m2 0h2m1 0h2M362 713h2m1 0h2m40 0h2m22 0h2m5 0h2m30 0h2m1 0h2m5 0h2m7 0h2m33 0h2m6 0h2m1 0h2m17 0h2m2 0h2m0 0h2m4 0h2m-1 0h2m-1 0h2m-1 0h2m3 0h2m1 0h2m5 0h2m0 0h2m0 0h2m0 0h2M361 714h2m9 0h2m25 0h2m4 0h2m19 0h2m1 0h2m2 0h2m5 0h2m4 0h2m7 0h2m0 0h2m27 0h2m1 0h2m-1 0h2m2 0h2m3 0h2m3 0h2m3 0h2m4 0h2m3 0h2m17 0h2m12 0h2m2 0h2m5 0h2m0 0h2m2 0h2m-1 0h2m0 0h2m-1 0h2m4 0h2m-1 0h2m0 0h2m0 0h2m1 0h2m-1 0h2m-1 0h2m-1 0h2m6 0h2m2 0h2M361 715h2m0 0h2m1 0h2m12 0h2m20 0h2m17 0h2m1 0h2m-1 0h2m1 0h2m3 0h2m-1 0h2m20 0h2m1 0h2m29 0h2m11 0h2m18 0h2m0 0h2m0 0h2m12 0h2m9 0h2m5 0h2m9 0h2m1 0h2m2 0h2m-1 0h2m-1 0h2m3 0h2m1 0h2m0 0h2m-1 0h2m3 0h2m1 0h2m1 0h2m5 0h2M362 716h2m5 0h2m11 0h2m3 0h2m20 0h2m10 0h2m-1 0h2m1 0h2m10 0h2m34 0h2m6 0h2m4 0h2m39 0h2m23 0h2m-1 0h2m-1 0h2m9 0h2m7 0h2m2 0h2m-1 0h2m0 0h2m-1 0h2m-1 0h2m-1 0h2m0 0h2m-1 0h2m0 0h2m0 0h2m-1 0h2m1 0h2m2 0h2m-1 0h2m-1 0h2m6 0h2M366 717h2m0 0h2m0 0h2m0 0h2m15 0h2m3 0h2m2 0h2m17 0h2m-1 0h2m4 0h2m14 0h2m6 0h2m13 0h2m14 0h2m23 0h2m16 0h2m3 0h2m9 0h2m13 0h2m5 0h2m11 0h2m0 0h2m-1 0h2m3 0h2m-1 0h2m0 0h2m0 0h2m2 0h2m-1 0h2m-1 0h2m0 0h2m-1 0h2m3 0h2m6 0h2M362 718h2m-1 0h2m0 0h2m3 0h2m0 0h2m5 0h2m15 0h2m-1 0h2m15 0h2m8 0h2m-1 0h2m1 0h2m0 0h2m8 0h2m24 0h2m19 0h2m15 0h2m19 0h2m12 0h2m11 0h2m8 0h2m7 0h2m-1 0h2m-1 0h2m0 0h2m-1 0h2m3 0h2m1 0h2m-1 0h2m0 0h2m2 0h2m12 0h2M362 719h2m0 0h2m6 0h2m-1 0h2m35 0h2m11 0h2m11 0h2m1 0h2m0 0h2m2 0h2m22 0h2m16 0h2m2 0h2m10 0h2m13 0h2m23 0h2m8 0h2m-1 0h2m9 0h2m0 0h2m-1 0h2m-1 0h2m0 0h2m1 0h2m0 0h2m1 0h2m0 0h2m1 0h2m-1 0h2m-1 0h2m-1 0h2m-1 0h2m-1 0h2m0 0h2m5 0h2m8 0h2m2 0h2m0 0h2m2 0h2M361 720h2m0 0h2m-1 0h2m8 0h2m4 0h2m3 0h2m18 0h2m21 0h2m0 0h2m6 0h2m3 0h2m13 0h2m1 0h2m11 0h2m5 0h2m6 0h2m14 0h2m-1 0h2m7 0h2m1 0h2m18 0h2m24 0h2m3 0h2m-1 0h2m0 0h2m3 0h2m1 0h2m-1 0h2m-1 0h2m2 0h2m-1 0h2m0 0h2m-1 0h2m1 0h2m1 0h2m0 0h2m13 0h2M362 721h2m0 0h2m29 0h2m14 0h2m7 0h2m19 0h2m4 0h2m9 0h2m22 0h2m7 0h2m2 0h2m0 0h2m4 0h2m12 0h2m20 0h2m10 0h2m6 0h2m-1 0h2m1 0h2m4 0h2m7 0h2m-1 0h2m1 0h2m0 0h2m-1 0h2m-1 0h2m0 0h2m1 0h2m1 0h2m-1 0h2m2 0h2m-1 0h2m-1 0h2m10 0h2M361 722h2m14 0h2m7 0h2m4 0h2m5 0h2m2 0h2m29 0h2m16 0h2m11 0h2m10 0h2m12 0h2m33 0h2m8 0h2m10 0h2m1 0h2m-1 0h2m0 0h2m1 0h2m8 0h2m-1 0h2m4 0h2m-1 0h2m2 0h2m0 0h2m-1 0h2m0 0h2m-1 0h2m1 0h2m0 0h2m0 0h2m0 0h2m1 0h2m0 0h2m0 0h2m1 0h2M365 723h2m8 0h2m0 0h2m0 0h2m1 0h2m29 0h2m8 0h2m8 0h2m6 0h2m19 0h2m7 0h2m4 0h2m10 0h2m3 0h2m15 0h2m7 0h2m24 0h2m5 0h2m16 0h2m0 0h2m1 0h2m0 0h2m-1 0h2m0 0h2m-1 0h2m0 0h2m0 0h2m1 0h2m2 0h2m2 0h2m1 0h2m6 0h2M365 724h2m9 0h2m-1 0h2m1 0h2m19 0h2m2 0h2m3 0h2m27 0h2m25 0h2m1 0h2m1 0h2m0 0h2m1 0h2m2 0h2m26 0h2m-1 0h2m10 0h2m3 0h2m18 0h2m1 0h2m-1 0h2m1 0h2m15 0h2m1 0h2m1 0h2m0 0h2m-1 0h2m0 0h2m-1 0h2m0 0h2m3 0h2m5 0h2m-1 0h2m0 0h2m0 0h2M361 725h2m0 0h2m1 0h2m8 0h2m3 0h2m4 0h2m1 0h2m15 0h2m8 0h2m14 0h2m8 0h2m4 0h2m3 0h2m3 0h2m9 0h2m2 0h2m2 0h2m26 0h2m2 0h2m1 0h2m8 0h2m7 0h2m2 0h2m19 0h2m2 0h2m6 0h2m0 0h2m0 0h2m-1 0h2m2 0h2m0 0h2m0 0h2m0 0h2m-1 0h2m-1 0h2m-1 0h2m3 0h2m3 0h2m8 0h2m0 0h2m-1 0h2m4 0h2m-1 0h2m-1 0h2M366 726h2m10 0h2m17 0h2m12 0h2m11 0h2m-1 0h2m9 0h2m7 0h2m2 0h2m1 0h2m5 0h2m-1 0h2m0 0h2m2 0h2m0 0h2m14 0h2m-1 0h2m15 0h2m4 0h2m7 0h2m0 0h2m1 0h2m22 0h2m-1 0h2m3 0h2m0 0h2m1 0h2m2 0h2m10 0h2m3 0h2m4 0h2m-1 0h2m0 0h2m6 0h2m2 0h2M363 727h2m10 0h2m23 0h2m3 0h2m14 0h2m-1 0h2m-1 0h2m14 0h2m-1 0h2m1 0h2m12 0h2m7 0h2m0 0h2m9 0h2m7 0h2m3 0h2m-1 0h2m0 0h2m5 0h2m4 0h2m13 0h2m5 0h2m5 0h2m16 0h2m14 0h2m0 0h2m-1 0h2m-1 0h2m-1 0h2m-1 0h2m0 0h2m-1 0h2m0 0h2m-1 0h2m1 0h2m-1 0h2m-1 0h2m-1 0h2m0 0h2m-1 0h2m-1 0h2m-1 0h2m-1 0h2m1 0h2M362 728h2m-1 0h2m4 0h2m3 0h2m21 0h2m6 0h2m0 0h2m2 0h2m3 0h2m5 0h2m5 0h2m10 0h2m2 0h2m14 0h2m21 0h2m13 0h2m6 0h2m10 0h2m12 0h2m4 0h2m10 0h2m0 0h2m1 0h2m-1 0h2m2 0h2m3 0h2m5 0h2m-1 0h2m0 0h2m-1 0h2m-1 0h2m-1 0h2m-1 0h2m-1 0h2m-1 0h2m-1 0h2m1 0h2m-1 0h2m-1 0h2m-1 0h2m-1 0h2m-1 0h2m-1 0h2m-1 0h2m1 0h2m0 0h2m-1 0h2M362 729h2m56 0h2m2 0h2m2 0h2m4 0h2m3 0h2m19 0h2m7 0h2m1 0h2m35 0h2m0 0h2m-1 0h2m7 0h2m21 0h2m1 0h2m20 0h2m1 0h2m0 0h2m-1 0h2m5 0h2m-1 0h2m-1 0h2m1 0h2m0 0h2m-1 0h2m-1 0h2m5 0h2m-1 0h2m1 0h2M378 730h2m0 0h2m2 0h2m14 0h2m11 0h2m1 0h2m-1 0h2m-1 0h2m1 0h2m10 0h2m4 0h2m-1 0h2m0 0h2m10 0h2m15 0h2m3 0h2m5 0h2m14 0h2m5 0h2m0 0h2m9 0h2m16 0h2m22 0h2m11 0h2m2 0h2m0 0h2m-1 0h2m0 0h2m0 0h2m2 0h2m0 0h2m0 0h2m-1 0h2m-1 0h2m19 0h2M362 731h2m14 0h2m15 0h2m5 0h2m3 0h2m0 0h2m0 0h2m1 0h2m0 0h2m9 0h2m3 0h2m11 0h2m2 0h2m8 0h2m17 0h2m0 0h2m27 0h2m1 0h2m14 0h2m5 0h2m1 0h2m15 0h2m14 0h2m3 0h2m1 0h2m-1 0h2m0 0h2m0 0h2m2 0h2m0 0h2m0 0h2m-1 0h2m12 0h2m1 0h2m1 0h2M366 732h2m3 0h2m0 0h2m13 0h2m4 0h2m19 0h2m1 0h2m0 0h2m0 0h2m1 0h2m9 0h2m0 0h2m5 0h2m4 0h2m17 0h2m0 0h2m0 0h2m5 0h2m0 0h2m0 0h2m8 0h2m5 0h2m3 0h2m25 0h2m4 0h2m-1 0h2m6 0h2m10 0h2m8 0h2m1 0h2m3 0h2m-1 0h2m0 0h2m0 0h2m-1 0h2m-1 0h2m-1 0h2m2 0h2m1 0h2M362 733h2m0 0h2m6 0h2m-1 0h2m5 0h2m1 0h2m4 0h2m4 0h2m23 0h2m1 0h2m14 0h2m0 0h2m3 0h2m0 0h2m6 0h2m20 0h2m3 0h2m6 0h2m18 0h2m21 0h2m4 0h2m1 0h2m7 0h2m4 0h2m9 0h2m0 0h2m-1 0h2m0 0h2m-1 0h2m4 0h2m1 0h2m1 0h2m-1 0h2m1 0h2m3 0h2M366 734h2m6 0h2m11 0h2m4 0h2m0 0h2m11 0h2m-1 0h2m1 0h2m11 0h2m7 0h2m0 0h2m1 0h2m15 0h2m10 0h2m6 0h2m15 0h2m5 0h2m40 0h2m4 0h2m0 0h2m24 0h2m0 0h2m1 0h2m0 0h2m-1 0h2m1 0h2m0 0h2m-1 0h2m1 0h2m2 0h2m0 0h2m5 0h2M369 735h2m16 0h2m5 0h2m6 0h2m50 0h2m0 0h2m5 0h2m3 0h2m12 0h2m3 0h2m0 0h2m1 0h2m5 0h2m2 0h2m13 0h2m18 0h2m1 0h2m11 0h2m15 0h2m-1 0h2m0 0h2m1 0h2m-1 0h2m0 0h2m-1 0h2m-1 0h2m2 0h2m5 0h2m2 0h2M363 736h2m-1 0h2m10 0h2m3 0h2m1 0h2m5 0h2m5 0h2m0 0h2m10 0h2m7 0h2m1 0h2m33 0h2m1 0h2m7 0h2m0 0h2m4 0h2m3 0h2m9 0h2m16 0h2m0 0h2m3 0h2m1 0h2m6 0h2m10 0h2m1 0h2m1 0h2m0 0h2m5 0h2m13 0h2m4 0h2m4 0h2m2 0h2m0 0h2m-1 0h2m6 0h2m-1 0h2m10 0h2M373 737h2m4 0h2m5 0h2m4 0h2m-1 0h2m5 0h2m10 0h2m18 0h2m0 0h2m31 0h2m12 0h2m0 0h2m22 0h2m9 0h2m4 0h2m19 0h2m6 0h2m4 0h2m5 0h2m-1 0h2m2 0h2m4 0h2m0 0h2m0 0h2m-1 0h2m-1 0h2m1 0h2m-1 0h2m-1 0h2m-1 0h2m3 0h2m6 0h2m10 0h2M381 738h2m6 0h2m2 0h2m12 0h2m7 0h2m9 0h2m7 0h2m2 0h2m0 0h2m5 0h2m2 0h2m12 0h2m8 0h2m14 0h2m4 0h2m4 0h2m9 0h2m36 0h2m10 0h2m1 0h2m0 0h2m-1 0h2m4 0h2m-1 0h2m-1 0h2m-1 0h2m1 0h2m-1 0h2m-1 0h2m1 0h2m1 0h2m1 0h2m0 0h2m1 0h2M366 739h2m16 0h2m3 0h2m-1 0h2m-1 0h2m6 0h2m2 0h2m5 0h2m5 0h2m10 0h2m10 0h2m12 0h2m15 0h2m2 0h2m4 0h2m26 0h2m1 0h2m23 0h2m11 0h2m6 0h2m9 0h2m1 0h2m0 0h2m1 0h2m1 0h2m2 0h2m-1 0h2m-1 0h2m-1 0h2m0 0h2m1 0h2m1 0h2m-1 0h2m-1 0h2m24 0h2M366 740h2m9 0h2m3 0h2m17 0h2m11 0h2m10 0h2m16 0h2m7 0h2m7 0h2m10 0h2m5 0h2m13 0h2m6 0h2m7 0h2m0 0h2m0 0h2m8 0h2m6 0h2m2 0h2m-1 0h2m10 0h2m-1 0h2m7 0h2m2 0h2m-1 0h2m1 0h2m7 0h2m-1 0h2m5 0h2m-1 0h2m0 0h2m1 0h2m1 0h2m4 0h2m-1 0h2m11 0h2M366 741h2m3 0h2m1 0h2m1 0h2m16 0h2m2 0h2m4 0h2m20 0h2m1 0h2m3 0h2m0 0h2m1 0h2m3 0h2m3 0h2m12 0h2m10 0h2m-1 0h2m2 0h2m40 0h2m13 0h2m8 0h2m7 0h2m0 0h2m2 0h2m5 0h2m1 0h2m-1 0h2m2 0h2m3 0h2m-1 0h2m6 0h2m3 0h2m1 0h2m9 0h2M388 742h2m24 0h2m7 0h2m4 0h2m-1 0h2m12 0h2m10 0h2m9 0h2m7 0h2m5 0h2m15 0h2m1 0h2m12 0h2m0 0h2m10 0h2m6 0h2m21 0h2m8 0h2m4 0h2m3 0h2m7 0h2m-1 0h2m-1 0h2m-1 0h2m3 0h2m-1 0h2m0 0h2m4 0h2m4 0h2M367 743h2m-1 0h2m27 0h2m77 0h2m6 0h2m0 0h2m9 0h2m13 0h2m4 0h2m8 0h2m-1 0h2m25 0h2m1 0h2m12 0h2m1 0h2m0 0h2m0 0h2m-1 0h2m1 0h2m4 0h2m0 0h2m3 0h2m-1 0h2m19 0h2M382 744h2m0 0h2m77 0h2m8 0h2m6 0h2m9 0h2m5 0h2m6 0h2m5 0h2m12 0h2m30 0h2m9 0h2m0 0h2m-1 0h2m1 0h2m-1 0h2m0 0h2m-1 0h2m-1 0h2m1 0h2m0 0h2m-1 0h2m-1 0h2m-1 0h2m-1 0h2m1 0h2m-1 0h2m2 0h2m8 0h2M362 745h2m8 0h2m6 0h2m36 0h2m24 0h2m9 0h2m11 0h2m12 0h2m6 0h2m5 0h2m17 0h2m-1 0h2m3 0h2m4 0h2m6 0h2m10 0h2m2 0h2m17 0h2m3 0h2m0 0h2m-1 0h2m1 0h2m7 0h2m-1 0h2m-1 0h2m-1 0h2m1 0h2m-1 0h2m0 0h2m1 0h2m7 0h2m5 0h2M365 746h2m2 0h2m10 0h2m12 0h2m0 0h2m13 0h2m-1 0h2m-1 0h2m14 0h2m16 0h2m1 0h2m1 0h2m1 0h2m13 0h2m1 0h2m9 0h2m17 0h2m20 0h2m24 0h2m6 0h2m14 0h2m0 0h2m0 0h2m-1 0h2m5 0h2m0 0h2m0 0h2m4 0h2m8 0h2M363 747h2m60 0h2m2 0h2m-1 0h2m48 0h2m10 0h2m38 0h2m35 0h2m10 0h2m-1 0h2m0 0h2m-1 0h2m-1 0h2m1 0h2m1 0h2m2 0h2m3 0h2m3 0h2M363 748h2m4 0h2m18 0h2m9 0h2m-1 0h2m22 0h2m7 0h2m-1 0h2m20 0h2m28 0h2m7 0h2m32 0h2m31 0h2m1 0h2m4 0h2m3 0h2m4 0h2m0 0h2m-1 0h2m1 0h2m0 0h2m-1 0h2m0 0h2m-1 0h2M410 749h2m6 0h2m31 0h2m21 0h2m3 0h2m55 0h2m10 0h2m0 0h2m0 0h2m4 0h2m2 0h2m2 0h2m0 0h2m2 0h2m8 0h2m6 0h2m4 0h2m4 0h2m5 0h2M377 750h2m38 0h2m35 0h2m0 0h2m19 0h2m5 0h2m-1 0h2m2 0h2m17 0h2m14 0h2m41 0h2m3 0h2m1 0h2m-1 0h2m3 0h2m3 0h2m-1 0h2m3 0h2m3 0h2m0 0h2M361 751h2m19 0h2m23 0h2m50 0h2m45 0h2m0 0h2m27 0h2m17 0h2m9 0h2m10 0h2m-1 0h2m-1 0h2m0 0h2m1 0h2m5 0h2M373 752h2m8 0h2m20 0h2m15 0h2m2 0h2m15 0h2m26 0h2m9 0h2m30 0h2m54 0h2m0 0h2m2 0h2m-1 0h2m-1 0h2m-1 0h2m0 0h2m-1 0h2m0 0h2m1 0h2m-1 0h2m-1 0h2m4 0h2m8 0h2m-1 0h2M365 753h2m11 0h2m12 0h2m2 0h2m12 0h2m31 0h2m17 0h2m1 0h2m47 0h2m-1 0h2m22 0h2m27 0h2m-1 0h2m8 0h2m2 0h2m1 0h2m1 0h2m-1 0h2m8 0h2M362 754h2m0 0h2m63 0h2m41 0h2m34 0h2m21 0h2m49 0h2m2 0h2m-1 0h2m0 0h2m3 0h2m-1 0h2m11 0h2M366 755h2m-1 0h2m20 0h2m2 0h2m10 0h2m-1 0h2m17 0h2m27 0h2m52 0h2m7 0h2m56 0h2m-1 0h2m-1 0h2m-1 0h2m5 0h2m0 0h2m0 0h2m9 0h2m5 0h2m18 0h2M361 756h2m0 0h2m58 0h2m3 0h2m14 0h2m100 0h2m14 0h2m7 0h2m3 0h2m-1 0h2m-1 0h2m-1 0h2m0 0h2m-1 0h2m-1 0h2m-1 0h2m3 0h2m7 0h2M370 757h2m82 0h2m41 0h2m36 0h2m4 0h2m9 0h2m20 0h2m1 0h2m1 0h2m1 0h2m-1 0h2m6 0h2m0 0h2m5 0h2M367 758h2m75 0h2m0 0h2m11 0h2m30 0h2m51 0h2m38 0h2m-1 0h2m-1 0h2m1 0h2m1 0h2m6 0h2m0 0h2M427 759h2m25 0h2m117 0h2m4 0h2m2 0h2m-1 0h2m5 0h2m0 0h2M362 760h2m18 0h2m160 0h2m24 0h2m3 0h2m5 0h2m-1 0h2m2 0h2m3 0h2m-1 0h2m11 0h2M362 761h2m139 0h2m11 0h2m3 0h2m23 0h2m-1 0h2m22 0h2m7 0h2m-1 0h2m0 0h2m5 0h2m17 0h2M361 762h2m115 0h2m32 0h2m37 0h2m16 0h2m1 0h2m6 0h2m1 0h2m17 0h2m-1 0h2m1 0h2M362 763h2m98 0h2m23 0h2m14 0h2m9 0h2m51 0h2m1 0h2m-1 0h2m3 0h2m11 0h2m3 0h2m1 0h2m-1 0h2m2 0h2M369 764h2m78 0h2m26 0h2m-1 0h2m28 0h2m43 0h2m6 0h2m7 0h2m1 0h2m8 0h2m4 0h2m-1 0h2m-1 0h2m1 0h2m17 0h2M362 765h2m105 0h2m0 0h2m75 0h2m11 0h2m7 0h2m19 0h2m0 0h2m6 0h2M411 766h2m29 0h2m56 0h2m64 0h2m4 0h2m3 0h2m2 0h2m5 0h2m0 0h2m13 0h2M362 767h2m12 0h2m202 0h2m8 0h2m0 0h2m-1 0h2m8 0h2m2 0h2M444 768h2m134 0h2m1 0h2m-1 0h2m2 0h2m3 0h2m0 0h2M446 769h2m132 0h2m3 0h2m2 0h2m2 0h2m6 0h2m3 0h2M503 770h2m44 0h2m23 0h2m11 0h2m17 0h2M434 771h2m125 0h2m10 0h2m11 0h2m8 0h2M410 772h2m58 0h2m110 0h2m-1 0h2m1 0h2m5 0h2M461 773h2m44 0h2m63 0h2m6 0h2m5 0h2m6 0h2m2 0h2m13 0h2M457 774h2m111 0h2m3 0h2m6 0h2m0 0h2m5 0h2m2 0h2m11 0h2m5 0h2M362 775h2m229 0h2M365 776h2m216 0h2m6 0h2M559 777h2m-1 0h2m5 0h2m6 0h2m30 0h2M577 778h2m3 0h2m3 0h2m14 0h2M363 779h2m227 0h2m1 0h2M578 780h2m9 0h2M362 781h2m-1 0h2m33 0h2m88 0h2m110 0h2m-1 0h2M364 782h2m112 0h2m105 0h2m5 0h2m31 0h2M367 783h2m206 0h2m12 0h2M363 784h2m207 0h2M507 785h2m97 0h2m8 0h2M547 786h2M362 787h2m224 0h2M572 789h2m14 0h2m2 0h2m2 0h2M557 790h2m12 0h2m13 0h2M361 791h2m-1 0h2m230 0h2M363 792h2m-1 0h2m225 0h2M364 793h2m226 0h2M586 795h2m9 0h2M362 796h2M503 798h2M362 799h2m204 0h2M362 802h2M363 806h2M362 807h2M361 808h2m1 0h2m1 0h2M361 809h2m228 0h2M367 813h2M367 817h2m2 0h2M586 821h2" stroke="#000" stroke-width="2" fill="none"/>
<line x1="216.5" y1="220.5" x2="216.5" y2="329.5" stroke="#555" stroke-width="0.9"/>
<line x1="143.8" y1="274.6" x2="253.4" y2="274.6" stroke="#555" stroke-width="0.9"/>
<rect x="143.8" y="220.5" width="109.6" height="109.0" fill="none" stroke="#333" stroke-width="1"/>
<path d="M143.8 329.5v2.2M143.8 329.5h-2.2M152.0 329.5v1.1M143.8 321.3h-1.1M156.9 329.5v1.1M143.8 316.5h-1.1M160.3 329.5v1.1M143.8 313.1h-1.1M163.0 329.5v1.1M143.8 310.5h-1.1M165.1 329.5v1.1M143.8 308.3h-1.1M167.0 329.5v1.1M143.8 306.5h-1.1M168.5 329.5v1.1M143.8 304.9h-1.1M169.9 329.5v1.1M143.8 303.5h-1.1M171.2 329.5v2.2M143.8 302.2h-2.2M179.4 329.5v1.1M143.8 294.0h-1.1M184.3 329.5v1.1M143.8 289.2h-1.1M187.7 329.5v1.1M143.8 285.8h-1.1M190.4 329.5v1.1M143.8 283.2h-1.1M192.5 329.5v1.1M143.8 281.0h-1.1M194.4 329.5v1.1M143.8 279.2h-1.1M195.9 329.5v1.1M143.8 277.6h-1.1M197.3 329.5v1.1M143.8 276.2h-1.1M198.6 329.5v2.2M143.8 275.0h-2.2M206.8 329.5v1.1M143.8 266.8h-1.1M211.7 329.5v1.1M143.8 262.0h-1.1M215.1 329.5v1.1M143.8 258.6h-1.1M217.8 329.5v1.1M143.8 256.0h-1.1M219.9 329.5v1.1M143.8 253.8h-1.1M221.8 329.5v1.1M143.8 252.0h-1.1M223.3 329.5v1.1M143.8 250.4h-1.1M224.7 329.5v1.1M143.8 249.0h-1.1M226.0 329.5v2.2M143.8 247.8h-2.2M234.2 329.5v1.1M143.8 239.5h-1.1M239.1 329.5v1.1M143.8 234.7h-1.1M242.5 329.5v1.1M143.8 231.3h-1.1M245.2 329.5v1.1M143.8 228.7h-1.1M247.3 329.5v1.1M143.8 226.5h-1.1M249.2 329.5v1.1M143.8 224.7h-1.1M250.7 329.5v1.1M143.8 223.1h-1.1M252.1 329.5v1.1M143.8 221.7h-1.1M253.4 329.5v2.2M143.8 220.5h-2.2" stroke="#444" stroke-width="0.55" fill="none"/>
<text transform="translate(33 232.8) scale(1.13 1)" font-size="11.7" font-weight="bold">5.2</text>
<text transform="translate(131.2 232.8) scale(1.13 1)" font-size="11.7" font-weight="bold" text-anchor="end">9.2</text>
<text transform="translate(31.4 326.4) scale(1.13 1)" font-size="11.7" font-weight="bold">36.4</text>
<text transform="translate(132.3 326.4) scale(1.13 1)" font-size="11.7" font-weight="bold" text-anchor="end">49.2</text>
<text transform="translate(150 232.8) scale(1.13 1)" font-size="11.7" font-weight="bold">4.4</text>
<text transform="translate(247.8 232.8) scale(1.13 1)" font-size="11.7" font-weight="bold" text-anchor="end">3.0</text>
<text transform="translate(151.5 325) scale(1.13 1)" font-size="11.7" font-weight="bold">37.2</text>
<text transform="translate(250.1 324.8) scale(1.13 1)" font-size="11.7" font-weight="bold" text-anchor="end">55.4</text>
<text x="19.5" y="276.3" font-size="14.3" font-weight="bold" text-anchor="middle" transform="rotate(-90 19.5 276.3)">CD44</text>
<line x1="15.2" y1="255.4" x2="15.2" y2="230.2" stroke="#111" stroke-width="1.7"/>
<path d="M15.2 223.2 L19.4 235.7 L15.2 232.7 L11.0 235.7 Z" fill="#111"/>
<line x1="15.2" y1="305.1" x2="15.2" y2="327.6" stroke="#111" stroke-width="1.7"/>
<line x1="46.8" y1="346.4" x2="115" y2="346.4" stroke="#111" stroke-width="1.7"/>
<text x="140" y="351" font-size="14.8" font-weight="bold" text-anchor="middle">CD25</text>
<line x1="162.7" y1="346.4" x2="231" y2="346.4" stroke="#111" stroke-width="1.7"/>
<path d="M238 346.4 L225.5 342.2 L228.5 346.4 L225.5 350.59999999999997 Z" fill="#111"/>
<text x="327.5" y="215" font-size="14.5" font-weight="bold" text-anchor="middle">n = 6</text>
<text x="283.3" y="268.2" font-size="13.3" font-weight="bold" text-anchor="middle" transform="rotate(-90 283.3 268.2)">Cell number (x10<tspan font-size="10" dy="-5">5</tspan><tspan dy="5"> )</tspan></text>
<line x1="303.2" y1="220.3" x2="303.2" y2="323.70000000000005" stroke="#111" stroke-width="1.5"/>
<line x1="302.5" y1="323.1" x2="394" y2="323.1" stroke="#111" stroke-width="1.5"/>
<line x1="299.8" y1="305.95" x2="303.2" y2="305.95" stroke="#111" stroke-width="1.2"/>
<text x="297" y="310.45" font-size="12.5" font-weight="bold" text-anchor="end">1</text>
<line x1="301.2" y1="314.25" x2="303.2" y2="314.25" stroke="#111" stroke-width="1.0"/>
<line x1="299.8" y1="289.4" x2="303.2" y2="289.4" stroke="#111" stroke-width="1.2"/>
<text x="297" y="293.9" font-size="12.5" font-weight="bold" text-anchor="end">2</text>
<line x1="301.2" y1="297.7" x2="303.2" y2="297.7" stroke="#111" stroke-width="1.0"/>
<line x1="299.8" y1="272.85" x2="303.2" y2="272.85" stroke="#111" stroke-width="1.2"/>
<text x="297" y="277.35" font-size="12.5" font-weight="bold" text-anchor="end">3</text>
<line x1="301.2" y1="281.15000000000003" x2="303.2" y2="281.15000000000003" stroke="#111" stroke-width="1.0"/>
<line x1="299.8" y1="256.3" x2="303.2" y2="256.3" stroke="#111" stroke-width="1.2"/>
<text x="297" y="260.8" font-size="12.5" font-weight="bold" text-anchor="end">4</text>
<line x1="301.2" y1="264.6" x2="303.2" y2="264.6" stroke="#111" stroke-width="1.0"/>
<line x1="299.8" y1="239.75" x2="303.2" y2="239.75" stroke="#111" stroke-width="1.2"/>
<text x="297" y="244.25" font-size="12.5" font-weight="bold" text-anchor="end">5</text>
<line x1="301.2" y1="248.05" x2="303.2" y2="248.05" stroke="#111" stroke-width="1.0"/>
<line x1="299.8" y1="223.2" x2="303.2" y2="223.2" stroke="#111" stroke-width="1.2"/>
<text x="297" y="227.7" font-size="12.5" font-weight="bold" text-anchor="end">6</text>
<line x1="301.2" y1="231.5" x2="303.2" y2="231.5" stroke="#111" stroke-width="1.0"/>
<rect x="313.80" y="303.00" width="13.00" height="20.10" fill="#0a0a0a"/>
<line x1="320.3" y1="296.2" x2="320.3" y2="303.5" stroke="#111" stroke-width="1.25"/>
<line x1="316.6" y1="296.4" x2="324.0" y2="296.4" stroke="#111" stroke-width="1.6"/>
<rect x="332.00" y="317.50" width="13.00" height="5.60" fill="#a9a9a9"/>
<line x1="338.5" y1="315.6" x2="338.5" y2="318.0" stroke="#111" stroke-width="1.25"/>
<line x1="334.8" y1="315.8" x2="342.2" y2="315.8" stroke="#111" stroke-width="1.6"/>
<rect x="361.80" y="254.50" width="13.20" height="68.60" fill="#0a0a0a"/>
<line x1="368.4" y1="225.8" x2="368.4" y2="255.0" stroke="#111" stroke-width="1.25"/>
<line x1="364.7" y1="226.0" x2="372.09999999999997" y2="226.0" stroke="#111" stroke-width="1.6"/>
<rect x="380.00" y="313.80" width="13.00" height="9.30" fill="#a9a9a9"/>
<line x1="386.5" y1="307.5" x2="386.5" y2="314.3" stroke="#111" stroke-width="1.25"/>
<line x1="382.8" y1="307.7" x2="390.2" y2="307.7" stroke="#111" stroke-width="1.6"/>
<text x="307.5" y="289.5" font-size="10.5" fill="#222"><tspan font-style="italic">P</tspan> = .0003</text>
<text x="352" y="221" font-size="10.5" fill="#222"><tspan font-style="italic">P</tspan> = .0007</text>
<text x="329" y="339" font-size="15" font-weight="bold" text-anchor="middle">CD44<tspan font-size="8.2" dy="-4.5">+</tspan></text>
<text x="329" y="354.7" font-size="15" font-weight="bold" text-anchor="middle">CD25<tspan font-size="8.2" dy="-4.5">-</tspan></text>
<text x="378" y="339" font-size="15" font-weight="bold" text-anchor="middle">CD44<tspan font-size="8.2" dy="-4.5">+</tspan></text>
<text x="378" y="354.7" font-size="15" font-weight="bold" text-anchor="middle">CD25<tspan font-size="8.2" dy="-4.5">+</tspan></text>
<line x1="424.4" y1="219.8" x2="424.4" y2="323.70000000000005" stroke="#111" stroke-width="1.5"/>
<line x1="423.7" y1="323.1" x2="520" y2="323.1" stroke="#111" stroke-width="1.5"/>
<line x1="421" y1="323.1" x2="424.4" y2="323.1" stroke="#111" stroke-width="1.2"/>
<text x="419" y="327.6" font-size="12.5" font-weight="bold" text-anchor="end">0</text>
<line x1="421" y1="299.8" x2="424.4" y2="299.8" stroke="#111" stroke-width="1.2"/>
<text x="419" y="304.3" font-size="12.5" font-weight="bold" text-anchor="end">5</text>
<line x1="421" y1="276.5" x2="424.4" y2="276.5" stroke="#111" stroke-width="1.2"/>
<text x="419" y="281.0" font-size="12.5" font-weight="bold" text-anchor="end">10</text>
<line x1="421" y1="253.20000000000002" x2="424.4" y2="253.20000000000002" stroke="#111" stroke-width="1.2"/>
<text x="419" y="257.70000000000005" font-size="12.5" font-weight="bold" text-anchor="end">15</text>
<line x1="421" y1="229.90000000000003" x2="424.4" y2="229.90000000000003" stroke="#111" stroke-width="1.2"/>
<text x="419" y="234.40000000000003" font-size="12.5" font-weight="bold" text-anchor="end">20</text>
<line x1="422.4" y1="311.45000000000005" x2="424.4" y2="311.45000000000005" stroke="#111" stroke-width="1.0"/>
<line x1="422.4" y1="288.15000000000003" x2="424.4" y2="288.15000000000003" stroke="#111" stroke-width="1.0"/>
<line x1="422.4" y1="264.85" x2="424.4" y2="264.85" stroke="#111" stroke-width="1.0"/>
<line x1="422.4" y1="241.55" x2="424.4" y2="241.55" stroke="#111" stroke-width="1.0"/>
<rect x="434.70" y="244.80" width="12.60" height="78.30" fill="#0a0a0a"/>
<line x1="441.0" y1="218.7" x2="441.0" y2="245.3" stroke="#111" stroke-width="1.25"/>
<line x1="437.3" y1="218.89999999999998" x2="444.7" y2="218.89999999999998" stroke="#111" stroke-width="1.6"/>
<rect x="453.20" y="290.00" width="13.00" height="33.10" fill="#a9a9a9"/>
<line x1="459.7" y1="274.4" x2="459.7" y2="290.5" stroke="#111" stroke-width="1.25"/>
<line x1="456.0" y1="274.59999999999997" x2="463.4" y2="274.59999999999997" stroke="#111" stroke-width="1.6"/>
<rect x="484.50" y="259.60" width="13.20" height="63.50" fill="#0a0a0a"/>
<line x1="491.1" y1="236.7" x2="491.1" y2="260.1" stroke="#111" stroke-width="1.25"/>
<line x1="487.40000000000003" y1="236.89999999999998" x2="494.8" y2="236.89999999999998" stroke="#111" stroke-width="1.6"/>
<rect x="503.30" y="285.70" width="13.20" height="37.40" fill="#a9a9a9"/>
<line x1="509.9" y1="253.7" x2="509.9" y2="286.2" stroke="#111" stroke-width="1.25"/>
<line x1="506.2" y1="253.89999999999998" x2="513.6" y2="253.89999999999998" stroke="#111" stroke-width="1.6"/>
<text x="430" y="214.5" font-size="10.5" fill="#222"><tspan font-style="italic">P</tspan> = .005</text>
<text x="474.5" y="229.5" font-size="10.5" fill="#222"><tspan font-style="italic">P</tspan> = .141</text>
<text x="450" y="339" font-size="15" font-weight="bold" text-anchor="middle">CD44<tspan font-size="8.2" dy="-4.5">-</tspan></text>
<text x="450" y="354.7" font-size="15" font-weight="bold" text-anchor="middle">CD25<tspan font-size="8.2" dy="-4.5">+</tspan></text>
<text x="500" y="339" font-size="15" font-weight="bold" text-anchor="middle">CD44<tspan font-size="8.2" dy="-4.5">-</tspan></text>
<text x="500" y="354.7" font-size="15" font-weight="bold" text-anchor="middle">CD25<tspan font-size="8.2" dy="-4.5">-</tspan></text>
<text x="0.6" y="387.6" font-size="17.5" font-weight="bold">C</text>
<text x="145.8" y="387.8" font-size="15" font-weight="bold" text-anchor="middle">gated on Lin<tspan font-size="9.5" dy="-5">-</tspan><tspan dy="5"> cells:</tspan></text>
<path transform="scale(0.4)" d="M289 1029h2M282 1031h2M288 1033h2M285 1034h2M271 1039h2m28 0h2M266 1040h2M302 1041h2M290 1044h2M272 1046h2m14 0h2m2 0h2M271 1049h2m5 0h2m14 0h2M269 1050h2M290 1051h2M268 1053h2m6 0h2m9 0h2M279 1054h2m1 0h2M247 1055h2m37 0h2M268 1056h2m-1 0h2m2 0h2m4 0h2M259 1057h2m6 0h2M262 1058h2m-1 0h2m17 0h2m1 0h2m-1 0h2M251 1059h2m0 0h2M242 1060h2m4 0h2m12 0h2m7 0h2M243 1061h2m7 0h2m-1 0h2m4 0h2m26 0h2M261 1062h2M249 1064h2m3 0h2m31 0h2M241 1065h2m29 0h2m2 0h2m6 0h2M243 1066h2M255 1067h2m-1 0h2m0 0h2m-1 0h2m3 0h2m-1 0h2M259 1068h2m19 0h2M256 1069h2m9 0h2m0 0h2m3 0h2M237 1070h2m26 0h2m-1 0h2M251 1071h2m4 0h2m7 0h2m2 0h2m5 0h2M259 1072h2M237 1073h2m10 0h2m17 0h2m4 0h2M245 1074h2m10 0h2m-1 0h2m2 0h2m-1 0h2m13 0h2m0 0h2M204 1075h2m43 0h2m4 0h2m2 0h2M237 1076h2m1 0h2m4 0h2m22 0h2M250 1077h2m8 0h2M236 1078h2m12 0h2m3 0h2m-1 0h2m0 0h2M246 1079h2m1 0h2m-1 0h2m11 0h2m3 0h2M227 1080h2m14 0h2m2 0h2m8 0h2m3 0h2m5 0h2m1 0h2M243 1081h2m-1 0h2m2 0h2m0 0h2m14 0h2M246 1082h2m10 0h2m2 0h2m0 0h2m-1 0h2M192 1083h2m21 0h2m8 0h2m12 0h2m16 0h2m21 0h2M181 1084h2m69 0h2M228 1085h2m6 0h2m7 0h2m0 0h2m4 0h2m1 0h2m6 0h2m1 0h2m-1 0h2m1 0h2M186 1086h2m50 0h2m3 0h2m-1 0h2m4 0h2m0 0h2m-1 0h2m0 0h2m-1 0h2m11 0h2M232 1087h2m2 0h2m0 0h2m3 0h2m1 0h2m7 0h2m1 0h2m-1 0h2m3 0h2m11 0h2M226 1088h2m-1 0h2m9 0h2m1 0h2m2 0h2m0 0h2m10 0h2m0 0h2m1 0h2M238 1089h2m5 0h2m0 0h2m1 0h2m3 0h2m8 0h2M228 1090h2m7 0h2m8 0h2m-1 0h2m0 0h2m2 0h2m11 0h2M203 1091h2m20 0h2m7 0h2m0 0h2m1 0h2m5 0h2m11 0h2M177 1092h2m18 0h2m36 0h2m11 0h2m-1 0h2m4 0h2m0 0h2m1 0h2M222 1093h2m14 0h2m17 0h2m1 0h2M215 1094h2m3 0h2m4 0h2m0 0h2m-1 0h2m3 0h2m17 0h2m1 0h2m-1 0h2M228 1095h2m8 0h2m6 0h2m-1 0h2m0 0h2m0 0h2m6 0h2M155 1096h2m12 0h2m19 0h2m7 0h2m23 0h2m-1 0h2m8 0h2m2 0h2m10 0h2m2 0h2m3 0h2m-1 0h2M210 1097h2m22 0h2m7 0h2m1 0h2m0 0h2m2 0h2m10 0h2M228 1098h2m6 0h2m2 0h2m3 0h2m0 0h2m0 0h2m1 0h2m10 0h2m13 0h2M225 1099h2m5 0h2m-1 0h2m1 0h2m4 0h2m0 0h2m3 0h2m1 0h2m1 0h2m-1 0h2m4 0h2M185 1100h2m0 0h2m28 0h2m16 0h2m4 0h2m0 0h2m0 0h2m-1 0h2m0 0h2m8 0h2m4 0h2M224 1101h2m3 0h2m2 0h2m-1 0h2m2 0h2m0 0h2m0 0h2m0 0h2m1 0h2M213 1102h2m11 0h2m0 0h2m3 0h2m1 0h2m0 0h2m4 0h2m2 0h2m27 0h2M161 1103h2m7 0h2m37 0h2m12 0h2m3 0h2m3 0h2m0 0h2m-1 0h2m1 0h2m-1 0h2m-1 0h2m-1 0h2m-1 0h2m1 0h2m3 0h2M169 1104h2m10 0h2m28 0h2m5 0h2m5 0h2m0 0h2m-1 0h2m-1 0h2m5 0h2m2 0h2m1 0h2m1 0h2m-1 0h2m-1 0h2m3 0h2m20 0h2M212 1105h2m2 0h2m8 0h2m-1 0h2m0 0h2m5 0h2m3 0h2m4 0h2m4 0h2M218 1106h2m3 0h2m5 0h2m3 0h2m1 0h2m5 0h2m-1 0h2m1 0h2m47 0h2M218 1107h2m5 0h2m-1 0h2m6 0h2m-1 0h2m1 0h2m-1 0h2m0 0h2m-1 0h2M102 1108h2m45 0h2m34 0h2m27 0h2m0 0h2m1 0h2m3 0h2m-1 0h2m-1 0h2m0 0h2m0 0h2m-1 0h2m-1 0h2m-1 0h2m2 0h2m0 0h2m-1 0h2m-1 0h2m2 0h2m-1 0h2m6 0h2M171 1109h2m14 0h2m9 0h2m10 0h2m3 0h2m-1 0h2m-1 0h2m2 0h2m-1 0h2m4 0h2m0 0h2m0 0h2m-1 0h2m1 0h2m3 0h2m1 0h2m4 0h2M148 1110h2m72 0h2m6 0h2m-1 0h2m3 0h2m3 0h2m-1 0h2m2 0h2M222 1111h2m0 0h2m-1 0h2m-1 0h2m3 0h2m5 0h2m1 0h2m4 0h2m-1 0h2m-1 0h2m-1 0h2m0 0h2M150 1112h2m34 0h2m1 0h2m20 0h2m0 0h2m6 0h2m1 0h2m-1 0h2m3 0h2m-1 0h2m0 0h2m0 0h2m2 0h2m0 0h2m-1 0h2m4 0h2M154 1113h2m25 0h2m28 0h2m0 0h2m0 0h2m1 0h2m3 0h2m-1 0h2m2 0h2m-1 0h2m1 0h2m0 0h2m-1 0h2M143 1114h2m55 0h2m6 0h2m1 0h2m3 0h2m4 0h2m0 0h2m-1 0h2m-1 0h2m0 0h2m-1 0h2m-1 0h2m2 0h2m9 0h2m21 0h2M170 1115h2m9 0h2m25 0h2m1 0h2m1 0h2m6 0h2m1 0h2m2 0h2m-1 0h2m-1 0h2m-1 0h2m3 0h2m7 0h2m2 0h2M185 1116h2m7 0h2m7 0h2m10 0h2m7 0h2m0 0h2m-1 0h2m-1 0h2m-1 0h2m0 0h2m2 0h2m1 0h2m7 0h2m7 0h2M166 1117h2m11 0h2m27 0h2m3 0h2m1 0h2m1 0h2m-1 0h2m0 0h2m0 0h2m1 0h2m1 0h2m-1 0h2m18 0h2M163 1118h2m36 0h2m-1 0h2m7 0h2m2 0h2m-1 0h2m6 0h2m6 0h2m8 0h2M150 1119h2m20 0h2m10 0h2m21 0h2m-1 0h2m0 0h2m0 0h2m-1 0h2m0 0h2m3 0h2m-1 0h2m-1 0h2m-1 0h2m-1 0h2m0 0h2m3 0h2m-1 0h2m2 0h2m2 0h2M160 1120h2m9 0h2m35 0h2m-1 0h2m1 0h2m1 0h2m0 0h2m-1 0h2m-1 0h2m-1 0h2m0 0h2m1 0h2m-1 0h2m0 0h2m-1 0h2m1 0h2m-1 0h2m0 0h2m0 0h2m-1 0h2M166 1121h2m4 0h2m8 0h2m12 0h2m13 0h2m0 0h2m12 0h2m2 0h2m0 0h2m7 0h2m89 0h2M164 1122h2m15 0h2m1 0h2m18 0h2m4 0h2m3 0h2m-1 0h2m-1 0h2m4 0h2m0 0h2m-1 0h2m-1 0h2m-1 0h2m4 0h2M159 1123h2m8 0h2m0 0h2m0 0h2m8 0h2m19 0h2m0 0h2m0 0h2m1 0h2m1 0h2m-1 0h2m1 0h2m1 0h2m2 0h2m-1 0h2m-1 0h2m0 0h2M152 1124h2m12 0h2m3 0h2m3 0h2m26 0h2m1 0h2m0 0h2m3 0h2m-1 0h2m0 0h2m1 0h2m-1 0h2m1 0h2m5 0h2m-1 0h2m1 0h2m16 0h2m19 0h2M135 1125h2m53 0h2m2 0h2m2 0h2m10 0h2m0 0h2m0 0h2m8 0h2m-1 0h2m-1 0h2m5 0h2M159 1126h2m10 0h2m19 0h2m-1 0h2m14 0h2m0 0h2m2 0h2m0 0h2m-1 0h2m-1 0h2m1 0h2m0 0h2m1 0h2M95 1127h2m42 0h2m24 0h2m19 0h2m16 0h2m3 0h2m-1 0h2m1 0h2m1 0h2m-1 0h2m0 0h2m-1 0h2m-1 0h2m-1 0h2m-1 0h2m2 0h2m5 0h2M150 1128h2m9 0h2m10 0h2m3 0h2m11 0h2m1 0h2m-1 0h2m5 0h2m-1 0h2m1 0h2m-1 0h2m-1 0h2m-1 0h2m-1 0h2m-1 0h2m-1 0h2m-1 0h2m4 0h2m0 0h2m2 0h2m0 0h2m1 0h2M152 1129h2m3 0h2m-1 0h2m3 0h2m-1 0h2m12 0h2m0 0h2m9 0h2m4 0h2m8 0h2m-1 0h2m0 0h2m4 0h2m3 0h2m0 0h2m0 0h2m0 0h2M89 1130h2m76 0h2m-1 0h2m8 0h2m1 0h2m7 0h2m4 0h2m4 0h2m-1 0h2m-1 0h2m0 0h2m0 0h2m-1 0h2m-1 0h2m1 0h2m0 0h2m5 0h2m-1 0h2m-1 0h2m-1 0h2m6 0h2m2 0h2M129 1131h2m39 0h2m6 0h2m2 0h2m9 0h2m4 0h2m0 0h2m0 0h2m0 0h2m-1 0h2m-1 0h2m0 0h2m0 0h2m0 0h2m-1 0h2m-1 0h2m-1 0h2m2 0h2m0 0h2m1 0h2m-1 0h2m0 0h2M160 1132h2m4 0h2m11 0h2m-1 0h2m3 0h2m4 0h2m0 0h2m-1 0h2m0 0h2m0 0h2m0 0h2m-1 0h2m2 0h2m2 0h2m-1 0h2m-1 0h2m0 0h2m0 0h2m1 0h2m2 0h2m0 0h2m1 0h2m2 0h2M149 1133h2m17 0h2m9 0h2m19 0h2m0 0h2m-1 0h2m-1 0h2m1 0h2m-1 0h2m-1 0h2m0 0h2m9 0h2m5 0h2m1 0h2m73 0h2M136 1134h2m13 0h2m1 0h2m9 0h2m0 0h2m2 0h2m0 0h2m4 0h2m0 0h2m-1 0h2m-1 0h2m-1 0h2m3 0h2m-1 0h2m-1 0h2m-1 0h2m0 0h2m1 0h2m5 0h2m-1 0h2m0 0h2m0 0h2m0 0h2m0 0h2m1 0h2m0 0h2m2 0h2M173 1135h2m-1 0h2m4 0h2m6 0h2m0 0h2m2 0h2m0 0h2m4 0h2m-1 0h2m1 0h2m-1 0h2m-1 0h2m-1 0h2m0 0h2m-1 0h2m-1 0h2m-1 0h2m0 0h2m1 0h2m0 0h2m4 0h2m2 0h2m8 0h2M131 1136h2m22 0h2m3 0h2m1 0h2m8 0h2m0 0h2m6 0h2m0 0h2m2 0h2m1 0h2m0 0h2m-1 0h2m-1 0h2m-1 0h2m-1 0h2m0 0h2m-1 0h2m-1 0h2m-1 0h2m1 0h2m-1 0h2m2 0h2m0 0h2m-1 0h2m0 0h2m1 0h2m3 0h2M157 1137h2m4 0h2m4 0h2m-1 0h2m-1 0h2m3 0h2m-1 0h2m7 0h2m0 0h2m1 0h2m-1 0h2m2 0h2m3 0h2m-1 0h2m-1 0h2m-1 0h2m2 0h2m-1 0h2m-1 0h2m-1 0h2m-1 0h2m-1 0h2m3 0h2m6 0h2M143 1138h2m0 0h2m1 0h2m7 0h2m2 0h2m3 0h2m2 0h2m-1 0h2m0 0h2m-1 0h2m4 0h2m0 0h2m-1 0h2m0 0h2m0 0h2m0 0h2m-1 0h2m-1 0h2m2 0h2m-1 0h2m-1 0h2m1 0h2m-1 0h2m-1 0h2m0 0h2m1 0h2m-1 0h2m-1 0h2m1 0h2m-1 0h2m0 0h2m0 0h2m-1 0h2m2 0h2m4 0h2M153 1139h2m3 0h2m3 0h2m-1 0h2m8 0h2m3 0h2m1 0h2m1 0h2m1 0h2m0 0h2m2 0h2m-1 0h2m1 0h2m-1 0h2m-1 0h2m-1 0h2m-1 0h2m-1 0h2m0 0h2m-1 0h2m-1 0h2m-1 0h2m-1 0h2m0 0h2m0 0h2m-1 0h2m0 0h2m-1 0h2m2 0h2m-1 0h2m4 0h2m10 0h2M128 1140h2m11 0h2m2 0h2m8 0h2m1 0h2m5 0h2m5 0h2m-1 0h2m-1 0h2m1 0h2m4 0h2m1 0h2m1 0h2m1 0h2m-1 0h2m-1 0h2m-1 0h2m0 0h2m1 0h2m0 0h2m0 0h2m6 0h2m5 0h2m0 0h2m-1 0h2m0 0h2m3 0h2M84 1141h2m69 0h2m-1 0h2m0 0h2m4 0h2m-1 0h2m6 0h2m9 0h2m3 0h2m4 0h2m-1 0h2m0 0h2m1 0h2m-1 0h2m-1 0h2m-1 0h2m-1 0h2m-1 0h2m-1 0h2m0 0h2m0 0h2m1 0h2m-1 0h2m-1 0h2m-1 0h2m0 0h2m-1 0h2m4 0h2M139 1142h2m9 0h2m2 0h2m6 0h2m-1 0h2m1 0h2m2 0h2m1 0h2m-1 0h2m-1 0h2m0 0h2m2 0h2m3 0h2m2 0h2m0 0h2m-1 0h2m1 0h2m-1 0h2m-1 0h2m-1 0h2m-1 0h2m0 0h2m0 0h2m-1 0h2m-1 0h2m0 0h2m-1 0h2m3 0h2m4 0h2m1 0h2M140 1143h2m-1 0h2m5 0h2m-1 0h2m1 0h2m0 0h2m14 0h2m-1 0h2m4 0h2m0 0h2m3 0h2m0 0h2m0 0h2m1 0h2m1 0h2m0 0h2m1 0h2m3 0h2m0 0h2m-1 0h2m-1 0h2m6 0h2m0 0h2m6 0h2M136 1144h2m13 0h2m-1 0h2m3 0h2m5 0h2m1 0h2m4 0h2m2 0h2m2 0h2m0 0h2m5 0h2m-1 0h2m0 0h2m-1 0h2m0 0h2m-1 0h2m-1 0h2m-1 0h2m-1 0h2m-1 0h2m-1 0h2m-1 0h2m0 0h2m2 0h2m0 0h2m-1 0h2m10 0h2M138 1145h2m4 0h2m1 0h2m-1 0h2m5 0h2m-1 0h2m-1 0h2m4 0h2m-1 0h2m-1 0h2m1 0h2m-1 0h2m1 0h2m1 0h2m-1 0h2m-1 0h2m0 0h2m-1 0h2m-1 0h2m-1 0h2m0 0h2m2 0h2m-1 0h2m0 0h2m0 0h2m1 0h2m0 0h2m-1 0h2m-1 0h2m-1 0h2m0 0h2m0 0h2m1 0h2m-1 0h2m0 0h2m3 0h2m2 0h2m111 0h2M142 1146h2m6 0h2m0 0h2m-1 0h2m2 0h2m1 0h2m2 0h2m0 0h2m-1 0h2m1 0h2m-1 0h2m-1 0h2m0 0h2m0 0h2m-1 0h2m-1 0h2m2 0h2m-1 0h2m-1 0h2m-1 0h2m-1 0h2m0 0h2m2 0h2m-1 0h2m0 0h2m-1 0h2m-1 0h2m-1 0h2m1 0h2m-1 0h2m0 0h2m-1 0h2m4 0h2m1 0h2m0 0h2m53 0h2M79 1147h2m60 0h2m5 0h2m4 0h2m0 0h2m-1 0h2m2 0h2m-1 0h2m2 0h2m1 0h2m-1 0h2m-1 0h2m-1 0h2m0 0h2m6 0h2m-1 0h2m-1 0h2m0 0h2m2 0h2m0 0h2m1 0h2m-1 0h2m1 0h2m-1 0h2m0 0h2m0 0h2m-1 0h2m-1 0h2m-1 0h2m-1 0h2m6 0h2m3 0h2M146 1148h2m6 0h2m0 0h2m-1 0h2m5 0h2m-1 0h2m-1 0h2m-1 0h2m1 0h2m1 0h2m-1 0h2m-1 0h2m-1 0h2m4 0h2m0 0h2m1 0h2m0 0h2m-1 0h2m-1 0h2m2 0h2m-1 0h2m-1 0h2m-1 0h2m-1 0h2m-1 0h2m1 0h2m-1 0h2m7 0h2m0 0h2m-1 0h2m2 0h2m2 0h2m34 0h2M134 1149h2m14 0h2m1 0h2m3 0h2m3 0h2m-1 0h2m-1 0h2m1 0h2m-1 0h2m2 0h2m-1 0h2m0 0h2m-1 0h2m2 0h2m-1 0h2m1 0h2m1 0h2m-1 0h2m-1 0h2m-1 0h2m0 0h2m-1 0h2m-1 0h2m-1 0h2m-1 0h2m-1 0h2m2 0h2m-1 0h2m-1 0h2m-1 0h2m-1 0h2m-1 0h2m-1 0h2m75 0h2M133 1150h2m10 0h2m0 0h2m2 0h2m2 0h2m-1 0h2m0 0h2m-1 0h2m-1 0h2m-1 0h2m-1 0h2m-1 0h2m-1 0h2m2 0h2m0 0h2m-1 0h2m-1 0h2m-1 0h2m-1 0h2m-1 0h2m-1 0h2m1 0h2m-1 0h2m-1 0h2m-1 0h2m-1 0h2m-1 0h2m-1 0h2m-1 0h2m-1 0h2m-1 0h2m-1 0h2m-1 0h2m-1 0h2m-1 0h2m-1 0h2m2 0h2m-1 0h2m-1 0h2m-1 0h2m-1 0h2m-1 0h2m-1 0h2m0 0h2m0 0h2m0 0h2m3 0h2M141 1151h2m-1 0h2m1 0h2m2 0h2m-1 0h2m-1 0h2m-1 0h2m-1 0h2m0 0h2m4 0h2m0 0h2m0 0h2m-1 0h2m0 0h2m2 0h2m-1 0h2m1 0h2m3 0h2m-1 0h2m-1 0h2m-1 0h2m0 0h2m-1 0h2m1 0h2m-1 0h2m-1 0h2m0 0h2m-1 0h2m-1 0h2m0 0h2m-1 0h2m0 0h2m0 0h2m-1 0h2m-1 0h2m0 0h2m0 0h2m4 0h2m7 0h2M140 1152h2m0 0h2m0 0h2m0 0h2m2 0h2m-1 0h2m0 0h2m-1 0h2m-1 0h2m2 0h2m-1 0h2m-1 0h2m-1 0h2m2 0h2m-1 0h2m-1 0h2m-1 0h2m-1 0h2m0 0h2m1 0h2m-1 0h2m2 0h2m-1 0h2m-1 0h2m-1 0h2m-1 0h2m-1 0h2m-1 0h2m-1 0h2m-1 0h2m-1 0h2m-1 0h2m-1 0h2m-1 0h2m0 0h2m-1 0h2m-1 0h2m2 0h2m-1 0h2m0 0h2m2 0h2m3 0h2m-1 0h2m-1 0h2M145 1153h2m3 0h2m3 0h2m-1 0h2m2 0h2m1 0h2m-1 0h2m1 0h2m1 0h2m-1 0h2m-1 0h2m-1 0h2m1 0h2m-1 0h2m0 0h2m-1 0h2m-1 0h2m3 0h2m-1 0h2m-1 0h2m-1 0h2m-1 0h2m-1 0h2m-1 0h2m-1 0h2m-1 0h2m-1 0h2m1 0h2m-1 0h2m6 0h2m2 0h2m2 0h2M144 1154h2m-1 0h2m0 0h2m0 0h2m0 0h2m0 0h2m1 0h2m0 0h2m-1 0h2m-1 0h2m-1 0h2m0 0h2m2 0h2m-1 0h2m-1 0h2m-1 0h2m-1 0h2m-1 0h2m0 0h2m0 0h2m-1 0h2m-1 0h2m0 0h2m-1 0h2m1 0h2m-1 0h2m-1 0h2m-1 0h2m-1 0h2m-1 0h2m1 0h2m-1 0h2m-1 0h2m1 0h2m-1 0h2m-1 0h2m0 0h2m-1 0h2m0 0h2m0 0h2m1 0h2m6 0h2m51 0h2M138 1155h2m2 0h2m9 0h2m2 0h2m-1 0h2m-1 0h2m-1 0h2m0 0h2m1 0h2m-1 0h2m-1 0h2m-1 0h2m-1 0h2m-1 0h2m-1 0h2m-1 0h2m2 0h2m-1 0h2m0 0h2m-1 0h2m-1 0h2m1 0h2m0 0h2m0 0h2m-1 0h2m-1 0h2m1 0h2m1 0h2m-1 0h2m-1 0h2m6 0h2m1 0h2m41 0h2M121 1156h2m14 0h2m0 0h2m4 0h2m0 0h2m-1 0h2m-1 0h2m0 0h2m-1 0h2m-1 0h2m1 0h2m-1 0h2m-1 0h2m0 0h2m-1 0h2m-1 0h2m0 0h2m-1 0h2m-1 0h2m-1 0h2m1 0h2m0 0h2m-1 0h2m1 0h2m0 0h2m-1 0h2m-1 0h2m-1 0h2m-1 0h2m-1 0h2m-1 0h2m-1 0h2m-1 0h2m0 0h2m-1 0h2m-1 0h2m0 0h2m-1 0h2m-1 0h2m-1 0h2m-1 0h2m-1 0h2m-1 0h2m0 0h2m-1 0h2m4 0h2m114 0h2M136 1157h2m7 0h2m2 0h2m-1 0h2m-1 0h2m1 0h2m1 0h2m1 0h2m2 0h2m-1 0h2m1 0h2m-1 0h2m-1 0h2m-1 0h2m-1 0h2m-1 0h2m0 0h2m-1 0h2m1 0h2m-1 0h2m-1 0h2m-1 0h2m-1 0h2m-1 0h2m-1 0h2m0 0h2m0 0h2m-1 0h2m-1 0h2m0 0h2m-1 0h2m0 0h2m3 0h2m-1 0h2m-1 0h2m0 0h2m-1 0h2m8 0h2M139 1158h2m0 0h2m-1 0h2m1 0h2m0 0h2m0 0h2m1 0h2m-1 0h2m-1 0h2m-1 0h2m0 0h2m2 0h2m-1 0h2m0 0h2m-1 0h2m-1 0h2m0 0h2m-1 0h2m-1 0h2m0 0h2m-1 0h2m-1 0h2m-1 0h2m0 0h2m-1 0h2m1 0h2m-1 0h2m0 0h2m1 0h2m0 0h2m-1 0h2m-1 0h2m-1 0h2m-1 0h2m-1 0h2m-1 0h2m-1 0h2m0 0h2m-1 0h2m-1 0h2m1 0h2m11 0h2m45 0h2M118 1159h2m0 0h2m17 0h2m4 0h2m3 0h2m0 0h2m-1 0h2m-1 0h2m-1 0h2m-1 0h2m0 0h2m0 0h2m-1 0h2m-1 0h2m-1 0h2m-1 0h2m-1 0h2m-1 0h2m-1 0h2m-1 0h2m-1 0h2m0 0h2m2 0h2m-1 0h2m-1 0h2m-1 0h2m-1 0h2m-1 0h2m0 0h2m-1 0h2m-1 0h2m-1 0h2m-1 0h2m-1 0h2m-1 0h2m-1 0h2m-1 0h2m-1 0h2m-1 0h2m-1 0h2m0 0h2m0 0h2m1 0h2m-1 0h2M105 1160h2m18 0h2m0 0h2m7 0h2m-1 0h2m1 0h2m1 0h2m-1 0h2m1 0h2m-1 0h2m-1 0h2m-1 0h2m0 0h2m-1 0h2m-1 0h2m-1 0h2m-1 0h2m-1 0h2m-1 0h2m-1 0h2m-1 0h2m-1 0h2m-1 0h2m-1 0h2m1 0h2m1 0h2m-1 0h2m-1 0h2m-1 0h2m-1 0h2m-1 0h2m-1 0h2m1 0h2m-1 0h2m-1 0h2m-1 0h2m-1 0h2m-1 0h2m-1 0h2m-1 0h2m-1 0h2m-1 0h2m-1 0h2m-1 0h2m-1 0h2m-1 0h2m-1 0h2m3 0h2m-1 0h2m-1 0h2m0 0h2m-1 0h2m0 0h2m1 0h2m1 0h2m0 0h2M121 1161h2m2 0h2m0 0h2m8 0h2m1 0h2m-1 0h2m0 0h2m-1 0h2m0 0h2m-1 0h2m-1 0h2m0 0h2m0 0h2m0 0h2m2 0h2m-1 0h2m-1 0h2m-1 0h2m-1 0h2m-1 0h2m-1 0h2m-1 0h2m0 0h2m0 0h2m-1 0h2m0 0h2m-1 0h2m-1 0h2m-1 0h2m-1 0h2m-1 0h2m-1 0h2m-1 0h2m-1 0h2m-1 0h2m-1 0h2m-1 0h2m-1 0h2m-1 0h2m-1 0h2m0 0h2m-1 0h2m-1 0h2m0 0h2m0 0h2m0 0h2m-1 0h2m4 0h2m-1 0h2m-1 0h2m-1 0h2M125 1162h2m6 0h2m-1 0h2m7 0h2m1 0h2m-1 0h2m-1 0h2m-1 0h2m-1 0h2m0 0h2m-1 0h2m-1 0h2m1 0h2m2 0h2m-1 0h2m-1 0h2m-1 0h2m0 0h2m-1 0h2m0 0h2m0 0h2m-1 0h2m-1 0h2m0 0h2m-1 0h2m-1 0h2m-1 0h2m-1 0h2m-1 0h2m0 0h2m-1 0h2m0 0h2m-1 0h2m-1 0h2m1 0h2m0 0h2m1 0h2m6 0h2m19 0h2M134 1163h2m3 0h2m-1 0h2m-1 0h2m-1 0h2m-1 0h2m-1 0h2m0 0h2m0 0h2m0 0h2m-1 0h2m-1 0h2m1 0h2m-1 0h2m-1 0h2m0 0h2m0 0h2m-1 0h2m-1 0h2m0 0h2m-1 0h2m-1 0h2m-1 0h2m0 0h2m-1 0h2m0 0h2m-1 0h2m-1 0h2m-1 0h2m0 0h2m0 0h2m-1 0h2m-1 0h2m1 0h2m-1 0h2m-1 0h2m-1 0h2m-1 0h2m-1 0h2m-1 0h2m2 0h2m0 0h2m1 0h2m9 0h2M128 1164h2m4 0h2m3 0h2m3 0h2m-1 0h2m-1 0h2m0 0h2m-1 0h2m0 0h2m0 0h2m-1 0h2m-1 0h2m0 0h2m0 0h2m-1 0h2m-1 0h2m0 0h2m-1 0h2m-1 0h2m1 0h2m0 0h2m0 0h2m-1 0h2m-1 0h2m0 0h2m-1 0h2m0 0h2m-1 0h2m-1 0h2m-1 0h2m1 0h2m-1 0h2m-1 0h2m-1 0h2m0 0h2m-1 0h2m-1 0h2m-1 0h2m-1 0h2m0 0h2m-1 0h2m0 0h2m0 0h2m1 0h2m8 0h2m43 0h2M128 1165h2m3 0h2m0 0h2m0 0h2m-1 0h2m0 0h2m0 0h2m5 0h2m1 0h2m2 0h2m-1 0h2m-1 0h2m-1 0h2m0 0h2m0 0h2m-1 0h2m-1 0h2m-1 0h2m-1 0h2m-1 0h2m-1 0h2m-1 0h2m-1 0h2m-1 0h2m-1 0h2m-1 0h2m-1 0h2m-1 0h2m-1 0h2m-1 0h2m-1 0h2m-1 0h2m0 0h2m-1 0h2m-1 0h2m-1 0h2m-1 0h2m-1 0h2m-1 0h2m-1 0h2m0 0h2m0 0h2m0 0h2m-1 0h2m2 0h2m-1 0h2M110 1166h2m17 0h2m2 0h2m1 0h2m-1 0h2m2 0h2m0 0h2m0 0h2m-1 0h2m0 0h2m-1 0h2m-1 0h2m-1 0h2m1 0h2m-1 0h2m0 0h2m-1 0h2m-1 0h2m0 0h2m0 0h2m0 0h2m0 0h2m-1 0h2m-1 0h2m-1 0h2m-1 0h2m-1 0h2m-1 0h2m-1 0h2m-1 0h2m-1 0h2m0 0h2m-1 0h2m-1 0h2m-1 0h2m-1 0h2m-1 0h2m-1 0h2m-1 0h2m-1 0h2m-1 0h2m-1 0h2m0 0h2m-1 0h2m0 0h2m109 0h2M111 1167h2m13 0h2m0 0h2m8 0h2m-1 0h2m2 0h2m-1 0h2m0 0h2m0 0h2m-1 0h2m0 0h2m-1 0h2m-1 0h2m0 0h2m-1 0h2m1 0h2m-1 0h2m-1 0h2m-1 0h2m-1 0h2m-1 0h2m0 0h2m-1 0h2m-1 0h2m-1 0h2m-1 0h2m-1 0h2m-1 0h2m-1 0h2m-1 0h2m-1 0h2m-1 0h2m-1 0h2m-1 0h2m0 0h2m-1 0h2m-1 0h2m-1 0h2m-1 0h2m-1 0h2m-1 0h2m0 0h2m2 0h2m-1 0h2m-1 0h2m-1 0h2m1 0h2m-1 0h2m0 0h2m1 0h2m53 0h2M127 1168h2m-1 0h2m-1 0h2m0 0h2m1 0h2m0 0h2m1 0h2m4 0h2m-1 0h2m0 0h2m-1 0h2m0 0h2m-1 0h2m-1 0h2m-1 0h2m-1 0h2m-1 0h2m-1 0h2m-1 0h2m-1 0h2m-1 0h2m-1 0h2m0 0h2m-1 0h2m-1 0h2m0 0h2m-1 0h2m-1 0h2m-1 0h2m-1 0h2m0 0h2m0 0h2m-1 0h2m0 0h2m2 0h2m-1 0h2m-1 0h2m-1 0h2m-1 0h2m0 0h2m0 0h2m-1 0h2m-1 0h2m-1 0h2m-1 0h2m0 0h2m6 0h2M117 1169h2m0 0h2m1 0h2m8 0h2m-1 0h2m-1 0h2m-1 0h2m3 0h2m-1 0h2m2 0h2m-1 0h2m1 0h2m-1 0h2m0 0h2m-1 0h2m0 0h2m-1 0h2m-1 0h2m-1 0h2m-1 0h2m-1 0h2m-1 0h2m-1 0h2m-1 0h2m-1 0h2m-1 0h2m-1 0h2m0 0h2m-1 0h2m-1 0h2m-1 0h2m-1 0h2m0 0h2m-1 0h2m-1 0h2m-1 0h2m-1 0h2m-1 0h2m0 0h2m-1 0h2m-1 0h2m-1 0h2m-1 0h2m0 0h2m0 0h2m-1 0h2m2 0h2m-1 0h2m0 0h2m2 0h2m3 0h2M102 1170h2m14 0h2m3 0h2m4 0h2m2 0h2m0 0h2m-1 0h2m2 0h2m-1 0h2m0 0h2m-1 0h2m0 0h2m-1 0h2m-1 0h2m-1 0h2m2 0h2m-1 0h2m-1 0h2m-1 0h2m-1 0h2m-1 0h2m-1 0h2m-1 0h2m-1 0h2m-1 0h2m-1 0h2m-1 0h2m-1 0h2m-1 0h2m0 0h2m-1 0h2m-1 0h2m0 0h2m0 0h2m-1 0h2m-1 0h2m-1 0h2m-1 0h2m-1 0h2m-1 0h2m-1 0h2m-1 0h2m0 0h2m-1 0h2m-1 0h2m-1 0h2m-1 0h2m-1 0h2m2 0h2m2 0h2m-1 0h2m-1 0h2m-1 0h2m-1 0h2m9 0h2m5 0h2M123 1171h2m3 0h2m-1 0h2m2 0h2m1 0h2m0 0h2m-1 0h2m-1 0h2m0 0h2m-1 0h2m-1 0h2m-1 0h2m0 0h2m-1 0h2m-1 0h2m-1 0h2m-1 0h2m-1 0h2m-1 0h2m-1 0h2m-1 0h2m-1 0h2m-1 0h2m-1 0h2m-1 0h2m0 0h2m-1 0h2m-1 0h2m-1 0h2m0 0h2m-1 0h2m-1 0h2m-1 0h2m-1 0h2m-1 0h2m-1 0h2m-1 0h2m-1 0h2m-1 0h2m-1 0h2m-1 0h2m-1 0h2m-1 0h2m0 0h2m-1 0h2m0 0h2m-1 0h2m-1 0h2m3 0h2m-1 0h2m-1 0h2m12 0h2m32 0h2m44 0h2M124 1172h2m3 0h2m-1 0h2m-1 0h2m0 0h2m2 0h2m0 0h2m1 0h2m-1 0h2m-1 0h2m3 0h2m0 0h2m-1 0h2m0 0h2m-1 0h2m-1 0h2m-1 0h2m-1 0h2m-1 0h2m-1 0h2m-1 0h2m-1 0h2m-1 0h2m-1 0h2m-1 0h2m-1 0h2m-1 0h2m-1 0h2m-1 0h2m-1 0h2m-1 0h2m-1 0h2m-1 0h2m-1 0h2m-1 0h2m-1 0h2m-1 0h2m1 0h2m0 0h2m-1 0h2m-1 0h2m-1 0h2m-1 0h2m2 0h2m6 0h2m49 0h2m8 0h2M121 1173h2m3 0h2m-1 0h2m-1 0h2m-1 0h2m2 0h2m1 0h2m-1 0h2m2 0h2m-1 0h2m-1 0h2m-1 0h2m1 0h2m-1 0h2m-1 0h2m0 0h2m-1 0h2m-1 0h2m-1 0h2m-1 0h2m-1 0h2m-1 0h2m-1 0h2m-1 0h2m-1 0h2m-1 0h2m-1 0h2m-1 0h2m-1 0h2m-1 0h2m0 0h2m-1 0h2m0 0h2m-1 0h2m-1 0h2m-1 0h2m-1 0h2m-1 0h2m-1 0h2m-1 0h2m-1 0h2m-1 0h2m-1 0h2m-1 0h2m-1 0h2m1 0h2m-1 0h2m-1 0h2m-1 0h2m0 0h2m-1 0h2m0 0h2m0 0h2m1 0h2m5 0h2m37 0h2M116 1174h2m5 0h2m-1 0h2m6 0h2m-1 0h2m5 0h2m0 0h2m-1 0h2m-1 0h2m-1 0h2m0 0h2m-1 0h2m-1 0h2m0 0h2m-1 0h2m-1 0h2m-1 0h2m-1 0h2m1 0h2m0 0h2m-1 0h2m-1 0h2m-1 0h2m-1 0h2m-1 0h2m0 0h2m-1 0h2m-1 0h2m-1 0h2m-1 0h2m-1 0h2m-1 0h2m-1 0h2m-1 0h2m-1 0h2m-1 0h2m-1 0h2m-1 0h2m-1 0h2m-1 0h2m-1 0h2m1 0h2m-1 0h2m-1 0h2m0 0h2m1 0h2m2 0h2M114 1175h2m5 0h2m0 0h2m0 0h2m1 0h2m1 0h2m-1 0h2m-1 0h2m2 0h2m0 0h2m0 0h2m0 0h2m-1 0h2m-1 0h2m-1 0h2m-1 0h2m-1 0h2m0 0h2m-1 0h2m-1 0h2m-1 0h2m-1 0h2m0 0h2m-1 0h2m-1 0h2m-1 0h2m-1 0h2m-1 0h2m-1 0h2m0 0h2m-1 0h2m-1 0h2m0 0h2m-1 0h2m-1 0h2m-1 0h2m-1 0h2m-1 0h2m0 0h2m-1 0h2m-1 0h2m-1 0h2m-1 0h2m-1 0h2m0 0h2m0 0h2m-1 0h2m-1 0h2m2 0h2m7 0h2m82 0h2M108 1176h2m23 0h2m0 0h2m-1 0h2m-1 0h2m-1 0h2m0 0h2m-1 0h2m-1 0h2m0 0h2m-1 0h2m-1 0h2m-1 0h2m-1 0h2m-1 0h2m-1 0h2m-1 0h2m-1 0h2m-1 0h2m0 0h2m-1 0h2m-1 0h2m-1 0h2m-1 0h2m-1 0h2m-1 0h2m0 0h2m0 0h2m-1 0h2m-1 0h2m0 0h2m0 0h2m-1 0h2m-1 0h2m-1 0h2m-1 0h2m-1 0h2m-1 0h2m-1 0h2m-1 0h2m-1 0h2m1 0h2m0 0h2m1 0h2m-1 0h2m5 0h2m14 0h2M109 1177h2m5 0h2m0 0h2m3 0h2m1 0h2m0 0h2m1 0h2m3 0h2m1 0h2m0 0h2m-1 0h2m1 0h2m-1 0h2m-1 0h2m-1 0h2m-1 0h2m-1 0h2m-1 0h2m-1 0h2m0 0h2m-1 0h2m-1 0h2m-1 0h2m-1 0h2m-1 0h2m-1 0h2m-1 0h2m-1 0h2m-1 0h2m-1 0h2m-1 0h2m-1 0h2m-1 0h2m0 0h2m-1 0h2m-1 0h2m-1 0h2m0 0h2m0 0h2m0 0h2m-1 0h2m0 0h2m-1 0h2m-1 0h2m-1 0h2m0 0h2m-1 0h2m0 0h2m0 0h2m9 0h2m-1 0h2m24 0h2M116 1178h2m0 0h2m-1 0h2m0 0h2m4 0h2m2 0h2m0 0h2m-1 0h2m-1 0h2m0 0h2m-1 0h2m0 0h2m-1 0h2m-1 0h2m-1 0h2m-1 0h2m-1 0h2m-1 0h2m-1 0h2m-1 0h2m-1 0h2m-1 0h2m-1 0h2m0 0h2m-1 0h2m0 0h2m-1 0h2m-1 0h2m-1 0h2m-1 0h2m-1 0h2m-1 0h2m-1 0h2m-1 0h2m-1 0h2m-1 0h2m-1 0h2m-1 0h2m-1 0h2m-1 0h2m-1 0h2m-1 0h2m2 0h2m-1 0h2m-1 0h2m0 0h2m4 0h2m-1 0h2m-1 0h2m-1 0h2m3 0h2m17 0h2m13 0h2M126 1179h2m-1 0h2m2 0h2m-1 0h2m1 0h2m-1 0h2m2 0h2m1 0h2m-1 0h2m0 0h2m-1 0h2m0 0h2m-1 0h2m-1 0h2m-1 0h2m0 0h2m-1 0h2m0 0h2m-1 0h2m-1 0h2m-1 0h2m-1 0h2m-1 0h2m-1 0h2m0 0h2m0 0h2m-1 0h2m-1 0h2m-1 0h2m0 0h2m-1 0h2m-1 0h2m-1 0h2m1 0h2m-1 0h2m0 0h2m1 0h2m-1 0h2m0 0h2m0 0h2m0 0h2m0 0h2m2 0h2m56 0h2m7 0h2M110 1180h2m1 0h2m1 0h2m6 0h2m0 0h2m1 0h2m3 0h2m0 0h2m0 0h2m-1 0h2m0 0h2m-1 0h2m0 0h2m-1 0h2m-1 0h2m-1 0h2m-1 0h2m-1 0h2m0 0h2m-1 0h2m-1 0h2m-1 0h2m-1 0h2m-1 0h2m-1 0h2m-1 0h2m-1 0h2m-1 0h2m-1 0h2m-1 0h2m-1 0h2m-1 0h2m-1 0h2m-1 0h2m-1 0h2m-1 0h2m-1 0h2m-1 0h2m-1 0h2m-1 0h2m-1 0h2m-1 0h2m-1 0h2m0 0h2m-1 0h2m-1 0h2m-1 0h2m1 0h2m2 0h2m0 0h2m18 0h2m17 0h2M118 1181h2m6 0h2m0 0h2m1 0h2m0 0h2m2 0h2m1 0h2m1 0h2m-1 0h2m-1 0h2m-1 0h2m-1 0h2m-1 0h2m-1 0h2m-1 0h2m-1 0h2m-1 0h2m0 0h2m-1 0h2m-1 0h2m-1 0h2m0 0h2m-1 0h2m-1 0h2m-1 0h2m-1 0h2m-1 0h2m-1 0h2m-1 0h2m-1 0h2m-1 0h2m0 0h2m-1 0h2m-1 0h2m-1 0h2m-1 0h2m-1 0h2m-1 0h2m4 0h2m0 0h2m4 0h2m-1 0h2m0 0h2m-1 0h2M123 1182h2m4 0h2m0 0h2m2 0h2m-1 0h2m-1 0h2m-1 0h2m-1 0h2m-1 0h2m-1 0h2m-1 0h2m-1 0h2m-1 0h2m-1 0h2m-1 0h2m-1 0h2m-1 0h2m-1 0h2m-1 0h2m-1 0h2m0 0h2m-1 0h2m-1 0h2m-1 0h2m-1 0h2m-1 0h2m0 0h2m-1 0h2m-1 0h2m-1 0h2m-1 0h2m-1 0h2m-1 0h2m0 0h2m-1 0h2m-1 0h2m-1 0h2m-1 0h2m1 0h2m0 0h2m0 0h2m-1 0h2m-1 0h2m3 0h2m-1 0h2m0 0h2m-1 0h2m4 0h2m65 0h2m0 0h2M115 1183h2m11 0h2m0 0h2m0 0h2m-1 0h2m-1 0h2m-1 0h2m-1 0h2m-1 0h2m1 0h2m-1 0h2m-1 0h2m-1 0h2m0 0h2m0 0h2m1 0h2m-1 0h2m-1 0h2m-1 0h2m-1 0h2m-1 0h2m-1 0h2m-1 0h2m-1 0h2m-1 0h2m-1 0h2m-1 0h2m-1 0h2m-1 0h2m-1 0h2m-1 0h2m-1 0h2m-1 0h2m0 0h2m-1 0h2m-1 0h2m-1 0h2m-1 0h2m-1 0h2m-1 0h2m0 0h2m-1 0h2m-1 0h2m-1 0h2m2 0h2m0 0h2m2 0h2m4 0h2m4 0h2m24 0h2M123 1184h2m0 0h2m8 0h2m-1 0h2m-1 0h2m-1 0h2m-1 0h2m-1 0h2m1 0h2m0 0h2m-1 0h2m0 0h2m0 0h2m-1 0h2m-1 0h2m-1 0h2m-1 0h2m-1 0h2m-1 0h2m-1 0h2m-1 0h2m-1 0h2m-1 0h2m-1 0h2m-1 0h2m0 0h2m-1 0h2m-1 0h2m-1 0h2m-1 0h2m-1 0h2m-1 0h2m-1 0h2m-1 0h2m-1 0h2m-1 0h2m-1 0h2m-1 0h2m-1 0h2m0 0h2m-1 0h2m-1 0h2m-1 0h2m-1 0h2m1 0h2m4 0h2m58 0h2m9 0h2M122 1185h2m8 0h2m-1 0h2m-1 0h2m2 0h2m-1 0h2m-1 0h2m-1 0h2m-1 0h2m-1 0h2m-1 0h2m-1 0h2m-1 0h2m-1 0h2m-1 0h2m-1 0h2m-1 0h2m-1 0h2m-1 0h2m-1 0h2m-1 0h2m-1 0h2m-1 0h2m-1 0h2m-1 0h2m-1 0h2m0 0h2m-1 0h2m-1 0h2m-1 0h2m-1 0h2m-1 0h2m-1 0h2m0 0h2m-1 0h2m-1 0h2m-1 0h2m-1 0h2m0 0h2m1 0h2m-1 0h2m-1 0h2m-1 0h2m-1 0h2m-1 0h2m4 0h2m-1 0h2m4 0h2m-1 0h2m4 0h2m13 0h2M113 1186h2m2 0h2m2 0h2m0 0h2m4 0h2m0 0h2m0 0h2m1 0h2m-1 0h2m0 0h2m-1 0h2m0 0h2m0 0h2m0 0h2m-1 0h2m-1 0h2m-1 0h2m-1 0h2m-1 0h2m1 0h2m-1 0h2m-1 0h2m-1 0h2m-1 0h2m-1 0h2m-1 0h2m0 0h2m-1 0h2m0 0h2m-1 0h2m-1 0h2m-1 0h2m0 0h2m0 0h2m0 0h2m-1 0h2m-1 0h2m-1 0h2m-1 0h2m-1 0h2m1 0h2m0 0h2m0 0h2m-1 0h2m0 0h2m6 0h2m123 0h2M114 1187h2m10 0h2m-1 0h2m-1 0h2m-1 0h2m1 0h2m0 0h2m-1 0h2m-1 0h2m0 0h2m-1 0h2m0 0h2m-1 0h2m-1 0h2m-1 0h2m0 0h2m-1 0h2m-1 0h2m0 0h2m-1 0h2m-1 0h2m-1 0h2m-1 0h2m-1 0h2m-1 0h2m-1 0h2m-1 0h2m-1 0h2m-1 0h2m-1 0h2m-1 0h2m-1 0h2m-1 0h2m-1 0h2m-1 0h2m-1 0h2m-1 0h2m-1 0h2m-1 0h2m0 0h2m-1 0h2m-1 0h2m-1 0h2m0 0h2m-1 0h2m-1 0h2m-1 0h2m-1 0h2m2 0h2m1 0h2m-1 0h2m-1 0h2m20 0h2m42 0h2m22 0h2M122 1188h2m-1 0h2m-1 0h2m-1 0h2m-1 0h2m4 0h2m-1 0h2m-1 0h2m-1 0h2m-1 0h2m-1 0h2m-1 0h2m0 0h2m-1 0h2m-1 0h2m-1 0h2m-1 0h2m-1 0h2m-1 0h2m-1 0h2m-1 0h2m-1 0h2m0 0h2m-1 0h2m-1 0h2m-1 0h2m-1 0h2m-1 0h2m-1 0h2m-1 0h2m-1 0h2m-1 0h2m-1 0h2m-1 0h2m0 0h2m-1 0h2m-1 0h2m-1 0h2m-1 0h2m1 0h2m0 0h2m-1 0h2m0 0h2m-1 0h2m3 0h2m-1 0h2m0 0h2m0 0h2m-1 0h2m0 0h2m2 0h2m0 0h2m1 0h2m46 0h2m6 0h2M113 1189h2m2 0h2m2 0h2m2 0h2m2 0h2m0 0h2m-1 0h2m0 0h2m0 0h2m-1 0h2m-1 0h2m0 0h2m-1 0h2m-1 0h2m-1 0h2m-1 0h2m-1 0h2m-1 0h2m-1 0h2m-1 0h2m-1 0h2m-1 0h2m-1 0h2m-1 0h2m-1 0h2m-1 0h2m-1 0h2m-1 0h2m-1 0h2m-1 0h2m-1 0h2m-1 0h2m-1 0h2m-1 0h2m-1 0h2m-1 0h2m0 0h2m-1 0h2m-1 0h2m0 0h2m-1 0h2m-1 0h2m-1 0h2m-1 0h2m0 0h2m-1 0h2m-1 0h2m1 0h2m-1 0h2m1 0h2m11 0h2m15 0h2m44 0h2m6 0h2m56 0h2M76 1190h2m33 0h2m14 0h2m2 0h2m-1 0h2m0 0h2m1 0h2m-1 0h2m-1 0h2m-1 0h2m-1 0h2m-1 0h2m0 0h2m-1 0h2m-1 0h2m-1 0h2m-1 0h2m-1 0h2m-1 0h2m-1 0h2m-1 0h2m-1 0h2m-1 0h2m-1 0h2m-1 0h2m0 0h2m-1 0h2m-1 0h2m-1 0h2m0 0h2m-1 0h2m-1 0h2m-1 0h2m0 0h2m0 0h2m0 0h2m-1 0h2m-1 0h2m0 0h2m-1 0h2m3 0h2m4 0h2m-1 0h2m0 0h2M114 1191h2m7 0h2m4 0h2m-1 0h2m0 0h2m0 0h2m-1 0h2m-1 0h2m-1 0h2m-1 0h2m-1 0h2m-1 0h2m0 0h2m-1 0h2m0 0h2m-1 0h2m-1 0h2m-1 0h2m-1 0h2m-1 0h2m-1 0h2m-1 0h2m-1 0h2m-1 0h2m-1 0h2m0 0h2m-1 0h2m-1 0h2m-1 0h2m-1 0h2m-1 0h2m-1 0h2m-1 0h2m-1 0h2m-1 0h2m-1 0h2m-1 0h2m-1 0h2m0 0h2m-1 0h2m1 0h2m-1 0h2m-1 0h2m0 0h2m6 0h2m123 0h2M120 1192h2m1 0h2m1 0h2m-1 0h2m-1 0h2m-1 0h2m0 0h2m0 0h2m2 0h2m-1 0h2m-1 0h2m-1 0h2m0 0h2m-1 0h2m-1 0h2m0 0h2m-1 0h2m-1 0h2m-1 0h2m-1 0h2m-1 0h2m-1 0h2m-1 0h2m-1 0h2m-1 0h2m-1 0h2m-1 0h2m-1 0h2m-1 0h2m-1 0h2m-1 0h2m-1 0h2m-1 0h2m-1 0h2m2 0h2m-1 0h2m-1 0h2m-1 0h2m0 0h2m0 0h2m-1 0h2m-1 0h2m0 0h2m0 0h2m-1 0h2m5 0h2m-1 0h2m3 0h2m52 0h2m5 0h2m31 0h2M127 1193h2m1 0h2m-1 0h2m-1 0h2m-1 0h2m0 0h2m-1 0h2m-1 0h2m-1 0h2m-1 0h2m-1 0h2m-1 0h2m-1 0h2m-1 0h2m-1 0h2m-1 0h2m-1 0h2m-1 0h2m-1 0h2m-1 0h2m-1 0h2m-1 0h2m-1 0h2m-1 0h2m-1 0h2m-1 0h2m0 0h2m-1 0h2m-1 0h2m-1 0h2m-1 0h2m-1 0h2m-1 0h2m-1 0h2m-1 0h2m0 0h2m-1 0h2m-1 0h2m1 0h2m-1 0h2m1 0h2m-1 0h2m0 0h2m-1 0h2m2 0h2m17 0h2m77 0h2M126 1194h2m0 0h2m-1 0h2m3 0h2m-1 0h2m0 0h2m1 0h2m-1 0h2m-1 0h2m-1 0h2m-1 0h2m-1 0h2m-1 0h2m-1 0h2m-1 0h2m-1 0h2m0 0h2m-1 0h2m0 0h2m-1 0h2m1 0h2m-1 0h2m-1 0h2m-1 0h2m-1 0h2m-1 0h2m-1 0h2m-1 0h2m0 0h2m-1 0h2m-1 0h2m-1 0h2m-1 0h2m-1 0h2m-1 0h2m-1 0h2m1 0h2m0 0h2m-1 0h2m1 0h2m0 0h2m0 0h2m61 0h2m1 0h2m14 0h2M114 1195h2m1 0h2m0 0h2m-1 0h2m0 0h2m-1 0h2m-1 0h2m2 0h2m0 0h2m-1 0h2m1 0h2m-1 0h2m-1 0h2m0 0h2m-1 0h2m-1 0h2m-1 0h2m-1 0h2m-1 0h2m-1 0h2m-1 0h2m-1 0h2m-1 0h2m-1 0h2m-1 0h2m-1 0h2m-1 0h2m-1 0h2m-1 0h2m-1 0h2m-1 0h2m-1 0h2m-1 0h2m-1 0h2m-1 0h2m-1 0h2m0 0h2m-1 0h2m-1 0h2m-1 0h2m-1 0h2m-1 0h2m-1 0h2m-1 0h2m-1 0h2m-1 0h2m0 0h2m0 0h2m0 0h2m0 0h2m-1 0h2m1 0h2m0 0h2m-1 0h2m2 0h2m-1 0h2m1 0h2m8 0h2m25 0h2m16 0h2m2 0h2m3 0h2M117 1196h2m5 0h2m-1 0h2m1 0h2m-1 0h2m-1 0h2m-1 0h2m0 0h2m1 0h2m-1 0h2m-1 0h2m-1 0h2m-1 0h2m-1 0h2m-1 0h2m-1 0h2m-1 0h2m-1 0h2m-1 0h2m-1 0h2m0 0h2m-1 0h2m-1 0h2m-1 0h2m-1 0h2m-1 0h2m-1 0h2m-1 0h2m-1 0h2m-1 0h2m-1 0h2m-1 0h2m-1 0h2m-1 0h2m-1 0h2m-1 0h2m-1 0h2m-1 0h2m-1 0h2m-1 0h2m-1 0h2m-1 0h2m0 0h2m0 0h2m-1 0h2m-1 0h2m-1 0h2m1 0h2m1 0h2m3 0h2m0 0h2m76 0h2M111 1197h2m0 0h2m8 0h2m2 0h2m-1 0h2m0 0h2m0 0h2m0 0h2m-1 0h2m-1 0h2m-1 0h2m-1 0h2m0 0h2m-1 0h2m-1 0h2m-1 0h2m-1 0h2m-1 0h2m-1 0h2m-1 0h2m-1 0h2m-1 0h2m-1 0h2m-1 0h2m-1 0h2m-1 0h2m-1 0h2m-1 0h2m-1 0h2m-1 0h2m-1 0h2m-1 0h2m-1 0h2m-1 0h2m-1 0h2m0 0h2m-1 0h2m-1 0h2m-1 0h2m-1 0h2m0 0h2m0 0h2m0 0h2m0 0h2m-1 0h2m-1 0h2m-1 0h2m-1 0h2m18 0h2m47 0h2m1 0h2m5 0h2m8 0h2M120 1198h2m1 0h2m2 0h2m-1 0h2m-1 0h2m0 0h2m-1 0h2m-1 0h2m0 0h2m-1 0h2m-1 0h2m-1 0h2m-1 0h2m-1 0h2m-1 0h2m-1 0h2m-1 0h2m-1 0h2m-1 0h2m-1 0h2m-1 0h2m-1 0h2m-1 0h2m-1 0h2m-1 0h2m-1 0h2m-1 0h2m-1 0h2m-1 0h2m-1 0h2m-1 0h2m0 0h2m0 0h2m-1 0h2m-1 0h2m-1 0h2m-1 0h2m-1 0h2m-1 0h2m-1 0h2m-1 0h2m0 0h2m-1 0h2m-1 0h2m-1 0h2m-1 0h2m-1 0h2m1 0h2m2 0h2m3 0h2m61 0h2m56 0h2M121 1199h2m-1 0h2m1 0h2m0 0h2m-1 0h2m1 0h2m-1 0h2m-1 0h2m0 0h2m-1 0h2m0 0h2m-1 0h2m-1 0h2m-1 0h2m-1 0h2m-1 0h2m-1 0h2m-1 0h2m-1 0h2m-1 0h2m-1 0h2m-1 0h2m-1 0h2m-1 0h2m-1 0h2m-1 0h2m0 0h2m-1 0h2m-1 0h2m-1 0h2m0 0h2m0 0h2m-1 0h2m-1 0h2m-1 0h2m-1 0h2m0 0h2m-1 0h2m-1 0h2m0 0h2m3 0h2m1 0h2m1 0h2m-1 0h2m-1 0h2m83 0h2M114 1200h2m5 0h2m3 0h2m0 0h2m3 0h2m-1 0h2m-1 0h2m-1 0h2m0 0h2m-1 0h2m-1 0h2m-1 0h2m-1 0h2m-1 0h2m-1 0h2m-1 0h2m-1 0h2m-1 0h2m-1 0h2m-1 0h2m-1 0h2m-1 0h2m-1 0h2m-1 0h2m-1 0h2m-1 0h2m-1 0h2m-1 0h2m0 0h2m-1 0h2m-1 0h2m-1 0h2m-1 0h2m-1 0h2m-1 0h2m0 0h2m0 0h2m-1 0h2m-1 0h2m-1 0h2m-1 0h2m0 0h2m-1 0h2m4 0h2m-1 0h2m0 0h2m2 0h2m8 0h2m54 0h2M118 1201h2m9 0h2m2 0h2m0 0h2m0 0h2m0 0h2m-1 0h2m-1 0h2m-1 0h2m-1 0h2m-1 0h2m0 0h2m-1 0h2m-1 0h2m-1 0h2m-1 0h2m-1 0h2m-1 0h2m-1 0h2m-1 0h2m0 0h2m-1 0h2m-1 0h2m-1 0h2m1 0h2m-1 0h2m-1 0h2m-1 0h2m-1 0h2m0 0h2m-1 0h2m-1 0h2m-1 0h2m-1 0h2m0 0h2m-1 0h2m0 0h2m3 0h2m-1 0h2m20 0h2m42 0h2m4 0h2m7 0h2m0 0h2M120 1202h2m-1 0h2m3 0h2m-1 0h2m1 0h2m2 0h2m0 0h2m-1 0h2m0 0h2m-1 0h2m0 0h2m-1 0h2m0 0h2m-1 0h2m-1 0h2m-1 0h2m-1 0h2m-1 0h2m-1 0h2m-1 0h2m-1 0h2m-1 0h2m-1 0h2m-1 0h2m-1 0h2m-1 0h2m0 0h2m-1 0h2m-1 0h2m0 0h2m-1 0h2m-1 0h2m-1 0h2m0 0h2m-1 0h2m4 0h2m3 0h2m10 0h2M75 1203h2m39 0h2m1 0h2m-1 0h2m-1 0h2m1 0h2m1 0h2m-1 0h2m0 0h2m-1 0h2m-1 0h2m0 0h2m-1 0h2m-1 0h2m-1 0h2m-1 0h2m-1 0h2m-1 0h2m-1 0h2m0 0h2m-1 0h2m-1 0h2m-1 0h2m-1 0h2m-1 0h2m-1 0h2m-1 0h2m-1 0h2m-1 0h2m0 0h2m0 0h2m-1 0h2m-1 0h2m0 0h2m-1 0h2m-1 0h2m-1 0h2m-1 0h2m-1 0h2m-1 0h2m-1 0h2m-1 0h2m-1 0h2m0 0h2m4 0h2m-1 0h2m-1 0h2m-1 0h2m14 0h2m4 0h2m48 0h2m14 0h2M106 1204h2m0 0h2m1 0h2m1 0h2m9 0h2m1 0h2m-1 0h2m-1 0h2m0 0h2m0 0h2m0 0h2m-1 0h2m0 0h2m0 0h2m-1 0h2m-1 0h2m-1 0h2m-1 0h2m-1 0h2m-1 0h2m-1 0h2m-1 0h2m0 0h2m-1 0h2m-1 0h2m-1 0h2m-1 0h2m-1 0h2m-1 0h2m0 0h2m-1 0h2m-1 0h2m-1 0h2m-1 0h2m-1 0h2m-1 0h2m-1 0h2m1 0h2m0 0h2m-1 0h2m-1 0h2m5 0h2m-1 0h2m-1 0h2m5 0h2m40 0h2m20 0h2m0 0h2m-1 0h2m-1 0h2m-1 0h2m-1 0h2m-1 0h2m-1 0h2m1 0h2M108 1205h2m3 0h2m-1 0h2m-1 0h2m0 0h2m4 0h2m1 0h2m1 0h2m1 0h2m-1 0h2m-1 0h2m-1 0h2m1 0h2m-1 0h2m-1 0h2m-1 0h2m-1 0h2m-1 0h2m-1 0h2m0 0h2m-1 0h2m-1 0h2m-1 0h2m-1 0h2m-1 0h2m-1 0h2m-1 0h2m-1 0h2m-1 0h2m-1 0h2m-1 0h2m-1 0h2m-1 0h2m-1 0h2m-1 0h2m0 0h2m-1 0h2m0 0h2m0 0h2m-1 0h2m-1 0h2m-1 0h2m-1 0h2m-1 0h2m-1 0h2m3 0h2m-1 0h2m2 0h2m2 0h2m0 0h2m-1 0h2m0 0h2m42 0h2m0 0h2m25 0h2m1 0h2M113 1206h2m7 0h2m1 0h2m-1 0h2m1 0h2m0 0h2m-1 0h2m-1 0h2m-1 0h2m-1 0h2m1 0h2m-1 0h2m0 0h2m0 0h2m-1 0h2m-1 0h2m-1 0h2m0 0h2m-1 0h2m-1 0h2m-1 0h2m-1 0h2m-1 0h2m-1 0h2m-1 0h2m-1 0h2m-1 0h2m-1 0h2m-1 0h2m-1 0h2m-1 0h2m-1 0h2m0 0h2m0 0h2m-1 0h2m0 0h2m-1 0h2m-1 0h2m1 0h2m-1 0h2m-1 0h2m-1 0h2m-1 0h2m4 0h2m12 0h2m47 0h2m10 0h2m-1 0h2m49 0h2M113 1207h2m2 0h2m0 0h2m2 0h2m-1 0h2m0 0h2m0 0h2m-1 0h2m-1 0h2m1 0h2m-1 0h2m-1 0h2m0 0h2m1 0h2m-1 0h2m-1 0h2m0 0h2m-1 0h2m-1 0h2m-1 0h2m-1 0h2m-1 0h2m-1 0h2m-1 0h2m-1 0h2m-1 0h2m-1 0h2m-1 0h2m0 0h2m-1 0h2m0 0h2m-1 0h2m-1 0h2m-1 0h2m-1 0h2m1 0h2m3 0h2m1 0h2m0 0h2m1 0h2m71 0h2m11 0h2M85 1208h2m20 0h2m7 0h2m1 0h2m4 0h2m2 0h2m1 0h2m0 0h2m0 0h2m-1 0h2m-1 0h2m-1 0h2m-1 0h2m-1 0h2m0 0h2m-1 0h2m-1 0h2m-1 0h2m-1 0h2m-1 0h2m-1 0h2m-1 0h2m-1 0h2m-1 0h2m-1 0h2m0 0h2m-1 0h2m0 0h2m-1 0h2m-1 0h2m-1 0h2m-1 0h2m-1 0h2m-1 0h2m0 0h2m-1 0h2m-1 0h2m-1 0h2m-1 0h2m-1 0h2m1 0h2m0 0h2m-1 0h2m2 0h2m2 0h2m0 0h2m2 0h2m50 0h2m1 0h2m0 0h2m8 0h2m14 0h2M97 1209h2m18 0h2m-1 0h2m1 0h2m-1 0h2m0 0h2m-1 0h2m0 0h2m1 0h2m-1 0h2m0 0h2m-1 0h2m1 0h2m-1 0h2m-1 0h2m-1 0h2m-1 0h2m-1 0h2m0 0h2m0 0h2m-1 0h2m-1 0h2m-1 0h2m-1 0h2m-1 0h2m-1 0h2m-1 0h2m-1 0h2m-1 0h2m-1 0h2m-1 0h2m0 0h2m-1 0h2m0 0h2m0 0h2m-1 0h2m-1 0h2m-1 0h2m-1 0h2m0 0h2m1 0h2m2 0h2m0 0h2m4 0h2m2 0h2m57 0h2m1 0h2m3 0h2m6 0h2m2 0h2m2 0h2m19 0h2M106 1210h2m11 0h2m1 0h2m1 0h2m0 0h2m0 0h2m2 0h2m-1 0h2m0 0h2m-1 0h2m-1 0h2m-1 0h2m-1 0h2m-1 0h2m-1 0h2m-1 0h2m-1 0h2m-1 0h2m-1 0h2m0 0h2m-1 0h2m-1 0h2m-1 0h2m-1 0h2m-1 0h2m-1 0h2m-1 0h2m-1 0h2m-1 0h2m-1 0h2m1 0h2m-1 0h2m-1 0h2m0 0h2m-1 0h2m0 0h2m-1 0h2m3 0h2m-1 0h2m-1 0h2m-1 0h2m-1 0h2m0 0h2m-1 0h2m2 0h2m6 0h2m7 0h2m22 0h2m22 0h2m3 0h2m0 0h2m10 0h2m8 0h2M116 1211h2m5 0h2m-1 0h2m0 0h2m0 0h2m0 0h2m1 0h2m-1 0h2m-1 0h2m-1 0h2m-1 0h2m1 0h2m-1 0h2m-1 0h2m-1 0h2m-1 0h2m0 0h2m-1 0h2m1 0h2m-1 0h2m-1 0h2m0 0h2m-1 0h2m-1 0h2m0 0h2m1 0h2m-1 0h2m-1 0h2m0 0h2m-1 0h2m1 0h2m-1 0h2m-1 0h2m-1 0h2m-1 0h2m2 0h2m0 0h2m0 0h2m0 0h2m0 0h2m-1 0h2m53 0h2m4 0h2m4 0h2m4 0h2M100 1212h2m5 0h2m12 0h2m2 0h2m0 0h2m1 0h2m-1 0h2m-1 0h2m0 0h2m3 0h2m0 0h2m0 0h2m-1 0h2m0 0h2m-1 0h2m-1 0h2m-1 0h2m-1 0h2m-1 0h2m0 0h2m0 0h2m1 0h2m-1 0h2m1 0h2m0 0h2m1 0h2m-1 0h2m-1 0h2m0 0h2m2 0h2m0 0h2m1 0h2m64 0h2m4 0h2m36 0h2M91 1213h2m25 0h2m7 0h2m0 0h2m-1 0h2m0 0h2m-1 0h2m-1 0h2m1 0h2m3 0h2m0 0h2m-1 0h2m-1 0h2m-1 0h2m0 0h2m-1 0h2m-1 0h2m-1 0h2m-1 0h2m-1 0h2m0 0h2m-1 0h2m0 0h2m0 0h2m1 0h2m2 0h2m3 0h2m-1 0h2m-1 0h2m5 0h2m-1 0h2m3 0h2m0 0h2m0 0h2m57 0h2m5 0h2m7 0h2M113 1214h2m-1 0h2m3 0h2m2 0h2m-1 0h2m3 0h2m2 0h2m0 0h2m1 0h2m0 0h2m-1 0h2m0 0h2m0 0h2m-1 0h2m-1 0h2m-1 0h2m-1 0h2m0 0h2m-1 0h2m-1 0h2m-1 0h2m0 0h2m-1 0h2m-1 0h2m-1 0h2m-1 0h2m1 0h2m-1 0h2m-1 0h2m-1 0h2m0 0h2m3 0h2m2 0h2m71 0h2M118 1215h2m-1 0h2m0 0h2m-1 0h2m-1 0h2m1 0h2m-1 0h2m0 0h2m-1 0h2m-1 0h2m-1 0h2m-1 0h2m-1 0h2m-1 0h2m-1 0h2m-1 0h2m-1 0h2m-1 0h2m-1 0h2m-1 0h2m-1 0h2m-1 0h2m-1 0h2m-1 0h2m-1 0h2m-1 0h2m-1 0h2m-1 0h2m0 0h2m-1 0h2m-1 0h2m-1 0h2m1 0h2m-1 0h2m0 0h2m-1 0h2m-1 0h2m-1 0h2m-1 0h2m-1 0h2m2 0h2m1 0h2m-1 0h2m-1 0h2m-1 0h2m2 0h2m-1 0h2m64 0h2m2 0h2m24 0h2m9 0h2m21 0h2M110 1216h2m7 0h2m0 0h2m0 0h2m4 0h2m-1 0h2m-1 0h2m-1 0h2m-1 0h2m-1 0h2m-1 0h2m-1 0h2m-1 0h2m-1 0h2m-1 0h2m-1 0h2m1 0h2m-1 0h2m-1 0h2m-1 0h2m1 0h2m-1 0h2m-1 0h2m-1 0h2m-1 0h2m-1 0h2m-1 0h2m0 0h2m-1 0h2m-1 0h2m-1 0h2m-1 0h2m-1 0h2m-1 0h2m-1 0h2m-1 0h2m0 0h2m-1 0h2m-1 0h2m-1 0h2m0 0h2m0 0h2m12 0h2m75 0h2M117 1217h2m-1 0h2m0 0h2m1 0h2m2 0h2m1 0h2m1 0h2m-1 0h2m-1 0h2m-1 0h2m0 0h2m-1 0h2m-1 0h2m-1 0h2m0 0h2m-1 0h2m-1 0h2m0 0h2m-1 0h2m-1 0h2m-1 0h2m-1 0h2m-1 0h2m-1 0h2m-1 0h2m-1 0h2m-1 0h2m-1 0h2m0 0h2m0 0h2m-1 0h2m-1 0h2m0 0h2m2 0h2m0 0h2m-1 0h2m2 0h2m3 0h2m6 0h2m4 0h2m59 0h2m0 0h2m-1 0h2m-1 0h2m2 0h2M121 1218h2m0 0h2m-1 0h2m-1 0h2m-1 0h2m0 0h2m-1 0h2m-1 0h2m-1 0h2m-1 0h2m0 0h2m-1 0h2m-1 0h2m-1 0h2m-1 0h2m0 0h2m0 0h2m-1 0h2m-1 0h2m0 0h2m1 0h2m-1 0h2m-1 0h2m-1 0h2m-1 0h2m-1 0h2m-1 0h2m1 0h2m0 0h2m0 0h2m10 0h2m2 0h2m2 0h2m0 0h2m5 0h2M74 1219h2m32 0h2m7 0h2m6 0h2m-1 0h2m-1 0h2m-1 0h2m-1 0h2m1 0h2m0 0h2m-1 0h2m1 0h2m-1 0h2m-1 0h2m0 0h2m-1 0h2m0 0h2m-1 0h2m-1 0h2m-1 0h2m-1 0h2m-1 0h2m-1 0h2m-1 0h2m0 0h2m-1 0h2m-1 0h2m-1 0h2m1 0h2m-1 0h2m-1 0h2m0 0h2m5 0h2m19 0h2m19 0h2m-1 0h2m6 0h2m27 0h2m8 0h2M113 1220h2m2 0h2m1 0h2m1 0h2m-1 0h2m1 0h2m0 0h2m-1 0h2m-1 0h2m-1 0h2m-1 0h2m-1 0h2m-1 0h2m-1 0h2m-1 0h2m-1 0h2m-1 0h2m-1 0h2m-1 0h2m-1 0h2m2 0h2m-1 0h2m-1 0h2m-1 0h2m0 0h2m-1 0h2m-1 0h2m5 0h2m-1 0h2m-1 0h2m-1 0h2m-1 0h2m-1 0h2m1 0h2m18 0h2m15 0h2M115 1221h2m0 0h2m0 0h2m0 0h2m-1 0h2m0 0h2m-1 0h2m1 0h2m3 0h2m0 0h2m0 0h2m0 0h2m-1 0h2m-1 0h2m-1 0h2m-1 0h2m-1 0h2m-1 0h2m0 0h2m-1 0h2m-1 0h2m-1 0h2m-1 0h2m0 0h2m-1 0h2m0 0h2m0 0h2m1 0h2m-1 0h2m-1 0h2m-1 0h2m-1 0h2m-1 0h2m1 0h2m-1 0h2m2 0h2m1 0h2m0 0h2m17 0h2m43 0h2m-1 0h2m3 0h2m2 0h2m3 0h2m0 0h2m-1 0h2m4 0h2M105 1222h2m9 0h2m1 0h2m4 0h2m-1 0h2m-1 0h2m-1 0h2m0 0h2m1 0h2m0 0h2m-1 0h2m-1 0h2m-1 0h2m-1 0h2m-1 0h2m-1 0h2m0 0h2m-1 0h2m0 0h2m-1 0h2m-1 0h2m-1 0h2m-1 0h2m0 0h2m-1 0h2m0 0h2m-1 0h2m-1 0h2m-1 0h2m0 0h2m-1 0h2m0 0h2m6 0h2m-1 0h2m2 0h2m23 0h2m2 0h2m50 0h2m2 0h2m1 0h2m-1 0h2m4 0h2M100 1223h2m6 0h2m5 0h2m-1 0h2m0 0h2m1 0h2m0 0h2m-1 0h2m0 0h2m-1 0h2m-1 0h2m-1 0h2m-1 0h2m0 0h2m0 0h2m1 0h2m-1 0h2m-1 0h2m-1 0h2m-1 0h2m1 0h2m2 0h2m-1 0h2m0 0h2m-1 0h2m-1 0h2m-1 0h2m1 0h2m3 0h2m0 0h2m0 0h2m-1 0h2m-1 0h2m10 0h2m0 0h2m2 0h2m-1 0h2m45 0h2m19 0h2m-1 0h2m-1 0h2m0 0h2m-1 0h2m2 0h2m1 0h2m-1 0h2m-1 0h2m14 0h2M103 1224h2m-1 0h2m11 0h2m1 0h2m1 0h2m-1 0h2m-1 0h2m-1 0h2m2 0h2m-1 0h2m-1 0h2m-1 0h2m0 0h2m0 0h2m0 0h2m-1 0h2m1 0h2m0 0h2m0 0h2m-1 0h2m-1 0h2m1 0h2m1 0h2m-1 0h2m-1 0h2m-1 0h2m-1 0h2m-1 0h2m-1 0h2m0 0h2m-1 0h2m-1 0h2m-1 0h2m9 0h2m2 0h2m62 0h2m2 0h2m3 0h2m7 0h2m-1 0h2m0 0h2m48 0h2M110 1225h2m1 0h2m4 0h2m-1 0h2m2 0h2m0 0h2m-1 0h2m2 0h2m-1 0h2m1 0h2m-1 0h2m-1 0h2m-1 0h2m2 0h2m0 0h2m-1 0h2m-1 0h2m-1 0h2m0 0h2m0 0h2m3 0h2m-1 0h2m-1 0h2m-1 0h2m0 0h2m0 0h2m1 0h2m4 0h2m-1 0h2m73 0h2m8 0h2m0 0h2m24 0h2M114 1226h2m4 0h2m10 0h2m-1 0h2m0 0h2m-1 0h2m-1 0h2m-1 0h2m0 0h2m0 0h2m0 0h2m0 0h2m-1 0h2m-1 0h2m-1 0h2m0 0h2m0 0h2m-1 0h2m-1 0h2m2 0h2m-1 0h2m0 0h2m-1 0h2m1 0h2m-1 0h2m3 0h2m-1 0h2m19 0h2m52 0h2m4 0h2m4 0h2m0 0h2m54 0h2M100 1227h2m6 0h2m0 0h2m1 0h2m-1 0h2m2 0h2m0 0h2m2 0h2m2 0h2m-1 0h2m0 0h2m0 0h2m1 0h2m-1 0h2m-1 0h2m-1 0h2m-1 0h2m0 0h2m-1 0h2m-1 0h2m-1 0h2m0 0h2m-1 0h2m-1 0h2m-1 0h2m1 0h2m1 0h2m0 0h2m1 0h2m-1 0h2m-1 0h2m-1 0h2m3 0h2m6 0h2m-1 0h2m0 0h2m2 0h2m-1 0h2m59 0h2m0 0h2m1 0h2m-1 0h2m2 0h2m8 0h2M104 1228h2m20 0h2m2 0h2m-1 0h2m7 0h2m-1 0h2m-1 0h2m-1 0h2m-1 0h2m-1 0h2m-1 0h2m-1 0h2m-1 0h2m-1 0h2m-1 0h2m1 0h2m1 0h2m1 0h2m-1 0h2m1 0h2m-1 0h2m-1 0h2m1 0h2m0 0h2m30 0h2m56 0h2m59 0h2m4 0h2M98 1229h2m7 0h2m7 0h2m0 0h2m1 0h2m1 0h2m0 0h2m1 0h2m-1 0h2m0 0h2m-1 0h2m-1 0h2m-1 0h2m-1 0h2m-1 0h2m-1 0h2m-1 0h2m0 0h2m-1 0h2m-1 0h2m-1 0h2m1 0h2m-1 0h2m-1 0h2m3 0h2m3 0h2m6 0h2m2 0h2m8 0h2m1 0h2m64 0h2m11 0h2m12 0h2M101 1230h2m2 0h2m3 0h2m0 0h2m-1 0h2m3 0h2m0 0h2m2 0h2m2 0h2m-1 0h2m-1 0h2m2 0h2m0 0h2m-1 0h2m0 0h2m1 0h2m2 0h2m-1 0h2m-1 0h2m-1 0h2m1 0h2m-1 0h2m-1 0h2m0 0h2m1 0h2m0 0h2m-1 0h2m0 0h2m-1 0h2m-1 0h2m-1 0h2m0 0h2m2 0h2m3 0h2m55 0h2m8 0h2m1 0h2m0 0h2m5 0h2m8 0h2M122 1231h2m1 0h2m0 0h2m0 0h2m-1 0h2m0 0h2m-1 0h2m-1 0h2m-1 0h2m-1 0h2m-1 0h2m-1 0h2m-1 0h2m0 0h2m0 0h2m-1 0h2m-1 0h2m-1 0h2m-1 0h2m-1 0h2m0 0h2m0 0h2m0 0h2m0 0h2m-1 0h2m3 0h2m1 0h2m-1 0h2m4 0h2m3 0h2m69 0h2m4 0h2m0 0h2m0 0h2m2 0h2m5 0h2M104 1232h2m13 0h2m2 0h2m2 0h2m-1 0h2m-1 0h2m1 0h2m2 0h2m0 0h2m1 0h2m-1 0h2m1 0h2m2 0h2m-1 0h2m-1 0h2m0 0h2m0 0h2m-1 0h2m-1 0h2m1 0h2m4 0h2m4 0h2m22 0h2m45 0h2m13 0h2m3 0h2m7 0h2m34 0h2M120 1233h2m4 0h2m-1 0h2m1 0h2m-1 0h2m-1 0h2m0 0h2m-1 0h2m-1 0h2m-1 0h2m-1 0h2m-1 0h2m0 0h2m-1 0h2m1 0h2m-1 0h2m2 0h2m2 0h2m1 0h2m4 0h2m3 0h2m-1 0h2m1 0h2m1 0h2m3 0h2m5 0h2m65 0h2m0 0h2m0 0h2m-1 0h2m5 0h2M100 1234h2m8 0h2m9 0h2m0 0h2m1 0h2m-1 0h2m1 0h2m0 0h2m1 0h2m-1 0h2m0 0h2m1 0h2m0 0h2m-1 0h2m1 0h2m1 0h2m-1 0h2m-1 0h2m1 0h2m4 0h2m6 0h2m7 0h2m3 0h2m2 0h2m4 0h2m54 0h2m-1 0h2m12 0h2M117 1235h2m-1 0h2m1 0h2m0 0h2m0 0h2m9 0h2m-1 0h2m-1 0h2m-1 0h2m4 0h2m3 0h2m-1 0h2m2 0h2m1 0h2m0 0h2m1 0h2m5 0h2m-1 0h2m3 0h2m6 0h2m59 0h2m7 0h2m27 0h2M103 1236h2m12 0h2m6 0h2m-1 0h2m5 0h2m-1 0h2m-1 0h2m-1 0h2m-1 0h2m3 0h2m-1 0h2m4 0h2m-1 0h2m0 0h2m4 0h2m1 0h2m84 0h2m3 0h2m-1 0h2m1 0h2M111 1237h2m9 0h2m0 0h2m10 0h2m0 0h2m7 0h2m4 0h2m0 0h2m2 0h2m-1 0h2m3 0h2m0 0h2m3 0h2m76 0h2m7 0h2m53 0h2M96 1238h2m8 0h2m5 0h2m1 0h2m-1 0h2m5 0h2m5 0h2m-1 0h2m6 0h2m4 0h2m0 0h2m4 0h2m4 0h2m2 0h2m15 0h2m-1 0h2m65 0h2m7 0h2m1 0h2m4 0h2m1 0h2m-1 0h2m1 0h2M114 1239h2m1 0h2m-1 0h2m2 0h2m9 0h2m0 0h2m1 0h2m3 0h2m1 0h2m0 0h2m1 0h2m1 0h2m1 0h2m-1 0h2m-1 0h2m0 0h2m3 0h2m6 0h2m1 0h2m61 0h2m14 0h2M110 1240h2m13 0h2m0 0h2m3 0h2m-1 0h2m1 0h2m-1 0h2m1 0h2m-1 0h2m0 0h2m-1 0h2m-1 0h2m-1 0h2m-1 0h2m1 0h2m3 0h2m19 0h2m-1 0h2m73 0h2m3 0h2m62 0h2M113 1241h2m9 0h2m10 0h2m1 0h2m7 0h2m1 0h2m0 0h2m7 0h2m2 0h2m-1 0h2m3 0h2m0 0h2m8 0h2m66 0h2m-1 0h2M121 1242h2m5 0h2m1 0h2m13 0h2m-1 0h2m2 0h2m0 0h2m1 0h2m3 0h2m2 0h2m1 0h2m7 0h2m0 0h2m-1 0h2m7 0h2m65 0h2m3 0h2m3 0h2M81 1243h2m37 0h2m1 0h2m2 0h2m0 0h2m7 0h2m-1 0h2m-1 0h2m9 0h2m-1 0h2m22 0h2m10 0h2m46 0h2m2 0h2m12 0h2M109 1244h2m12 0h2m2 0h2m6 0h2m-1 0h2m0 0h2m-1 0h2m1 0h2m8 0h2m1 0h2m-1 0h2m94 0h2m3 0h2m4 0h2M100 1245h2m16 0h2m6 0h2m2 0h2m-1 0h2m6 0h2m-1 0h2m1 0h2m4 0h2m-1 0h2m3 0h2m0 0h2m-1 0h2m23 0h2m62 0h2m7 0h2M124 1246h2m5 0h2m4 0h2m1 0h2m1 0h2m11 0h2m2 0h2m13 0h2m36 0h2m40 0h2m-1 0h2m4 0h2m7 0h2M127 1247h2m0 0h2m9 0h2m1 0h2m-1 0h2m2 0h2m3 0h2m8 0h2m2 0h2M108 1248h2m9 0h2m1 0h2m1 0h2m-1 0h2m-1 0h2m-1 0h2m3 0h2m0 0h2m2 0h2m5 0h2m7 0h2m7 0h2m7 0h2m87 0h2M96 1249h2m18 0h2m7 0h2m19 0h2m0 0h2m6 0h2m5 0h2m76 0h2M99 1250h2m26 0h2m8 0h2m0 0h2m0 0h2m5 0h2m26 0h2m67 0h2m7 0h2m7 0h2M115 1251h2m5 0h2m-1 0h2m3 0h2m-1 0h2m1 0h2m1 0h2m-1 0h2m0 0h2m9 0h2m1 0h2m8 0h2m86 0h2m-1 0h2m2 0h2m74 0h2M99 1252h2m12 0h2m21 0h2m0 0h2m-1 0h2m4 0h2m1 0h2m70 0h2m28 0h2M125 1253h2m5 0h2m-1 0h2m6 0h2m2 0h2m5 0h2m11 0h2m5 0h2m71 0h2m0 0h2m3 0h2m9 0h2M94 1254h2m33 0h2m4 0h2m17 0h2m-1 0h2m0 0h2m22 0h2m61 0h2m8 0h2m11 0h2M133 1255h2m0 0h2m13 0h2m88 0h2m25 0h2m52 0h2M111 1256h2m0 0h2m14 0h2m5 0h2m5 0h2m3 0h2m2 0h2m6 0h2m90 0h2m3 0h2M119 1257h2m12 0h2m10 0h2m103 0h2m19 0h2M100 1258h2m20 0h2m15 0h2m13 0h2m98 0h2m76 0h2M129 1259h2m-1 0h2m-1 0h2m0 0h2m4 0h2m2 0h2m0 0h2m7 0h2m9 0h2m93 0h2m14 0h2M108 1260h2m2 0h2m1 0h2m7 0h2m6 0h2m12 0h2m19 0h2m94 0h2M95 1261h2m0 0h2m1 0h2m0 0h2m0 0h2m-1 0h2m2 0h2m-1 0h2m0 0h2m-1 0h2m0 0h2m-1 0h2m-1 0h2m-1 0h2m0 0h2m0 0h2m-1 0h2m0 0h2m-1 0h2m0 0h2m-1 0h2m-1 0h2m-1 0h2m0 0h2m0 0h2m-1 0h2m-1 0h2m0 0h2m-1 0h2m0 0h2m1 0h2m-1 0h2m0 0h2m0 0h2m0 0h2m-1 0h2m-1 0h2m-1 0h2m3 0h2m0 0h2m4 0h2m-1 0h2m14 0h2m1 0h2m0 0h2m12 0h2m32 0h2m3 0h2m14 0h2m0 0h2m1 0h2" stroke="#000" stroke-width="2" fill="none"/>
<rect x="26.2" y="397.6" width="107.60000000000001" height="107.79999999999995" fill="none" stroke="#333" stroke-width="1"/>
<path d="M26.2 505.4v2.2M26.2 505.4h-2.2M34.3 505.4v1.1M26.2 497.3h-1.1M39.0 505.4v1.1M26.2 492.5h-1.1M42.4 505.4v1.1M26.2 489.2h-1.1M45.0 505.4v1.1M26.2 486.6h-1.1M47.1 505.4v1.1M26.2 484.4h-1.1M48.9 505.4v1.1M26.2 482.6h-1.1M50.5 505.4v1.1M26.2 481.1h-1.1M51.9 505.4v1.1M26.2 479.7h-1.1M53.1 505.4v2.2M26.2 478.4h-2.2M61.2 505.4v1.1M26.2 470.3h-1.1M65.9 505.4v1.1M26.2 465.6h-1.1M69.3 505.4v1.1M26.2 462.2h-1.1M71.9 505.4v1.1M26.2 459.6h-1.1M74.0 505.4v1.1M26.2 457.5h-1.1M75.8 505.4v1.1M26.2 455.7h-1.1M77.4 505.4v1.1M26.2 454.1h-1.1M78.8 505.4v1.1M26.2 452.7h-1.1M80.0 505.4v2.2M26.2 451.5h-2.2M88.1 505.4v1.1M26.2 443.4h-1.1M92.8 505.4v1.1M26.2 438.6h-1.1M96.2 505.4v1.1M26.2 435.3h-1.1M98.8 505.4v1.1M26.2 432.7h-1.1M100.9 505.4v1.1M26.2 430.5h-1.1M102.7 505.4v1.1M26.2 428.7h-1.1M104.3 505.4v1.1M26.2 427.2h-1.1M105.7 505.4v1.1M26.2 425.8h-1.1M106.9 505.4v2.2M26.2 424.6h-2.2M115.0 505.4v1.1M26.2 416.4h-1.1M119.7 505.4v1.1M26.2 411.7h-1.1M123.1 505.4v1.1M26.2 408.3h-1.1M125.7 505.4v1.1M26.2 405.7h-1.1M127.8 505.4v1.1M26.2 403.6h-1.1M129.6 505.4v1.1M26.2 401.8h-1.1M131.2 505.4v1.1M26.2 400.2h-1.1M132.6 505.4v1.1M26.2 398.8h-1.1M133.8 505.4v2.2M26.2 397.6h-2.2" stroke="#444" stroke-width="0.55" fill="none"/>
<path transform="scale(0.4)" d="M365 1041h2M364 1068h2m199 0h2M571 1072h2M585 1074h2M567 1075h2M564 1076h2M584 1077h2M579 1079h2M363 1080h2M365 1081h2M574 1082h2M572 1083h2M583 1085h2M556 1086h2M581 1087h2M580 1088h2M567 1090h2m-1 0h2M572 1091h2M561 1095h2M549 1100h2M473 1104h2M484 1105h2M540 1107h2m2 0h2M537 1109h2m0 0h2M484 1110h2m58 0h2M549 1112h2M537 1113h2M550 1114h2M441 1115h2m106 0h2m0 0h2M535 1116h2m4 0h2M371 1117h2m118 0h2m35 0h2m10 0h2m4 0h2M406 1118h2m127 0h2M496 1119h2m16 0h2m9 0h2m11 0h2m3 0h2M509 1120h2m-1 0h2m16 0h2m8 0h2M520 1121h2m22 0h2m11 0h2M473 1122h2m28 0h2M537 1123h2m20 0h2M364 1124h2m69 0h2m96 0h2m9 0h2M481 1125h2m44 0h2m12 0h2M443 1126h2m3 0h2m57 0h2m23 0h2m3 0h2m6 0h2M466 1127h2m27 0h2m11 0h2m16 0h2m69 0h2M512 1128h2m9 0h2M364 1129h2m0 0h2m108 0h2m34 0h2m3 0h2m2 0h2m35 0h2M425 1130h2m22 0h2m34 0h2m15 0h2m2 0h2m5 0h2m3 0h2m6 0h2M488 1131h2m20 0h2m0 0h2m11 0h2m12 0h2m-1 0h2M505 1132h2m8 0h2m19 0h2M457 1133h2m23 0h2m7 0h2m5 0h2m-1 0h2m4 0h2m28 0h2m-1 0h2M489 1134h2m-1 0h2m14 0h2m3 0h2m5 0h2m13 0h2M430 1135h2m58 0h2m7 0h2m24 0h2m1 0h2m4 0h2m6 0h2M499 1136h2m-1 0h2m14 0h2m12 0h2m1 0h2M443 1137h2m20 0h2m41 0h2m0 0h2m0 0h2M476 1138h2m28 0h2m11 0h2m12 0h2m6 0h2M437 1139h2m46 0h2m3 0h2m9 0h2m1 0h2m-1 0h2m6 0h2m6 0h2m0 0h2M430 1140h2m48 0h2m20 0h2m0 0h2m0 0h2m12 0h2M389 1141h2m52 0h2m21 0h2m28 0h2m11 0h2m0 0h2m-1 0h2m6 0h2m-1 0h2m-1 0h2m7 0h2M453 1142h2m7 0h2m16 0h2m1 0h2m6 0h2m2 0h2m1 0h2m-1 0h2m0 0h2m2 0h2m-1 0h2m0 0h2m0 0h2m-1 0h2m-1 0h2m9 0h2m7 0h2M426 1143h2m57 0h2m1 0h2m-1 0h2m2 0h2m8 0h2m6 0h2m-1 0h2m10 0h2m6 0h2m4 0h2M425 1144h2m24 0h2m29 0h2m0 0h2m-1 0h2m9 0h2m5 0h2m2 0h2m1 0h2m4 0h2m-1 0h2m2 0h2m19 0h2m60 0h2M469 1145h2m1 0h2m10 0h2m9 0h2m3 0h2m0 0h2m7 0h2m-1 0h2M375 1146h2m76 0h2m10 0h2m1 0h2m0 0h2m-1 0h2m3 0h2m12 0h2m6 0h2m0 0h2m-1 0h2m6 0h2m0 0h2m1 0h2m7 0h2m1 0h2M446 1147h2m34 0h2m2 0h2m0 0h2m4 0h2m0 0h2m3 0h2m-1 0h2m2 0h2m1 0h2m7 0h2M432 1148h2m10 0h2m1 0h2m4 0h2m13 0h2m2 0h2m11 0h2m12 0h2m4 0h2m1 0h2m6 0h2m15 0h2M434 1149h2m9 0h2m19 0h2m10 0h2m1 0h2m1 0h2m1 0h2m0 0h2m2 0h2m-1 0h2m12 0h2m-1 0h2m16 0h2m4 0h2m14 0h2M431 1150h2m2 0h2m12 0h2m5 0h2m6 0h2m12 0h2m8 0h2m25 0h2m33 0h2M455 1151h2m5 0h2m7 0h2m3 0h2m3 0h2m1 0h2m9 0h2m3 0h2m6 0h2m-1 0h2m-1 0h2m14 0h2m2 0h2m4 0h2M365 1152h2m108 0h2m-1 0h2m0 0h2m6 0h2m1 0h2m5 0h2m20 0h2m1 0h2m0 0h2m-1 0h2M463 1153h2m-1 0h2m7 0h2m6 0h2m1 0h2m5 0h2m1 0h2m2 0h2m0 0h2m3 0h2m1 0h2m-1 0h2m-1 0h2m1 0h2m2 0h2m8 0h2m0 0h2m6 0h2m14 0h2M404 1154h2m14 0h2m14 0h2m6 0h2m18 0h2m13 0h2m2 0h2m0 0h2m-1 0h2m1 0h2m0 0h2m15 0h2m-1 0h2m1 0h2m-1 0h2m-1 0h2m4 0h2m-1 0h2m8 0h2M451 1155h2m3 0h2m13 0h2m9 0h2m-1 0h2m1 0h2m1 0h2m0 0h2m1 0h2m-1 0h2m2 0h2m2 0h2m-1 0h2m1 0h2m1 0h2M421 1156h2m13 0h2m9 0h2m-1 0h2m4 0h2m3 0h2m0 0h2m2 0h2m-1 0h2m8 0h2m-1 0h2m0 0h2m8 0h2m3 0h2m2 0h2m-1 0h2m9 0h2M430 1157h2m0 0h2m11 0h2m12 0h2m3 0h2m-1 0h2m6 0h2m13 0h2m-1 0h2m0 0h2m3 0h2m5 0h2m1 0h2m1 0h2m-1 0h2m-1 0h2m-1 0h2m-1 0h2m3 0h2m19 0h2M427 1158h2m18 0h2m1 0h2m3 0h2m5 0h2m5 0h2m7 0h2m3 0h2m3 0h2m7 0h2m1 0h2m-1 0h2m-1 0h2m13 0h2m91 0h2M434 1159h2m6 0h2m6 0h2m-1 0h2m22 0h2m4 0h2m-1 0h2m5 0h2m3 0h2m5 0h2m-1 0h2M404 1160h2m19 0h2m14 0h2m1 0h2m-1 0h2m12 0h2m6 0h2m1 0h2m3 0h2m-1 0h2m0 0h2m0 0h2m3 0h2m0 0h2m-1 0h2m7 0h2m1 0h2m0 0h2m2 0h2m6 0h2M427 1161h2m30 0h2m4 0h2m2 0h2m2 0h2m5 0h2m3 0h2m4 0h2m22 0h2M363 1162h2m62 0h2m10 0h2m2 0h2m4 0h2m0 0h2m7 0h2m1 0h2m5 0h2m1 0h2m0 0h2m-1 0h2m1 0h2m0 0h2m-1 0h2m0 0h2m3 0h2m0 0h2m5 0h2m0 0h2m-1 0h2m0 0h2M410 1163h2m15 0h2m6 0h2m8 0h2m4 0h2m4 0h2m1 0h2m19 0h2m-1 0h2m-1 0h2m-1 0h2m1 0h2m-1 0h2m2 0h2m0 0h2m17 0h2M412 1164h2m12 0h2m16 0h2m7 0h2m9 0h2m-1 0h2m-1 0h2m5 0h2m1 0h2m6 0h2m6 0h2m8 0h2M431 1165h2m0 0h2m1 0h2m16 0h2m1 0h2m5 0h2m4 0h2m2 0h2m4 0h2m11 0h2m2 0h2m-1 0h2M374 1166h2m47 0h2m1 0h2m3 0h2m3 0h2m1 0h2m15 0h2m6 0h2m6 0h2m3 0h2m12 0h2m0 0h2m18 0h2M411 1167h2m18 0h2m14 0h2m1 0h2m5 0h2m0 0h2m0 0h2m8 0h2m2 0h2m1 0h2m-1 0h2m1 0h2m5 0h2m2 0h2m6 0h2m6 0h2m15 0h2M430 1168h2m-1 0h2m-1 0h2m9 0h2m-1 0h2m2 0h2m5 0h2m1 0h2m0 0h2m3 0h2m-1 0h2m3 0h2m3 0h2m-1 0h2m0 0h2m2 0h2m8 0h2m2 0h2M422 1169h2m6 0h2m6 0h2m6 0h2m1 0h2m2 0h2m3 0h2m0 0h2m-1 0h2m1 0h2m5 0h2m5 0h2m0 0h2m5 0h2m9 0h2M410 1170h2m9 0h2m-1 0h2m5 0h2m1 0h2m-1 0h2m5 0h2m5 0h2m0 0h2m2 0h2m-1 0h2m-1 0h2m2 0h2m0 0h2m0 0h2m4 0h2m10 0h2m3 0h2m-1 0h2m4 0h2m7 0h2m-1 0h2M396 1171h2m15 0h2m1 0h2m9 0h2m6 0h2m3 0h2m8 0h2m0 0h2m1 0h2m2 0h2m-1 0h2m0 0h2m16 0h2m1 0h2m4 0h2m0 0h2m4 0h2m4 0h2M428 1172h2m2 0h2m3 0h2m6 0h2m-1 0h2m4 0h2m1 0h2m-1 0h2m-1 0h2m5 0h2m2 0h2m4 0h2m2 0h2m3 0h2m22 0h2M425 1173h2m5 0h2m9 0h2m-1 0h2m1 0h2m-1 0h2m7 0h2m0 0h2m-1 0h2m2 0h2m-1 0h2m4 0h2m-1 0h2m3 0h2m3 0h2m7 0h2M411 1174h2m6 0h2m9 0h2m7 0h2m1 0h2m1 0h2m-1 0h2m-1 0h2m2 0h2m-1 0h2m-1 0h2m1 0h2m1 0h2m3 0h2m1 0h2m0 0h2m5 0h2m1 0h2m-1 0h2m0 0h2m5 0h2m1 0h2m1 0h2M428 1175h2m2 0h2m4 0h2m-1 0h2m0 0h2m5 0h2m-1 0h2m-1 0h2m-1 0h2m4 0h2m2 0h2m-1 0h2m0 0h2m2 0h2m1 0h2m7 0h2m1 0h2m1 0h2m1 0h2m7 0h2m0 0h2m12 0h2m3 0h2M407 1176h2m12 0h2m-1 0h2m1 0h2m0 0h2m9 0h2m0 0h2m-1 0h2m0 0h2m-1 0h2m0 0h2m2 0h2m0 0h2m1 0h2m-1 0h2m2 0h2m1 0h2m3 0h2m-1 0h2m3 0h2m4 0h2m0 0h2m1 0h2m6 0h2m-1 0h2m2 0h2m7 0h2M428 1177h2m4 0h2m-1 0h2m1 0h2m0 0h2m3 0h2m2 0h2m0 0h2m4 0h2m2 0h2m4 0h2m3 0h2m2 0h2m3 0h2m2 0h2M414 1178h2m5 0h2m7 0h2m5 0h2m0 0h2m1 0h2m0 0h2m-1 0h2m1 0h2m-1 0h2m3 0h2m-1 0h2m4 0h2m1 0h2m2 0h2m8 0h2m3 0h2m1 0h2M404 1179h2m36 0h2m-1 0h2m-1 0h2m2 0h2m0 0h2m0 0h2m2 0h2m1 0h2m1 0h2m2 0h2m3 0h2m-1 0h2m8 0h2m0 0h2m4 0h2m-1 0h2m9 0h2M428 1180h2m1 0h2m1 0h2m2 0h2m1 0h2m-1 0h2m2 0h2m-1 0h2m0 0h2m-1 0h2m3 0h2m-1 0h2m-1 0h2m-1 0h2m-1 0h2m-1 0h2m0 0h2m5 0h2m2 0h2m-1 0h2m3 0h2m7 0h2m2 0h2m1 0h2m3 0h2m49 0h2M413 1181h2m13 0h2m2 0h2m6 0h2m1 0h2m-1 0h2m-1 0h2m-1 0h2m-1 0h2m2 0h2m0 0h2m-1 0h2m-1 0h2m2 0h2m-1 0h2m-1 0h2m1 0h2m2 0h2m-1 0h2m-1 0h2m3 0h2m4 0h2m-1 0h2m2 0h2m7 0h2m17 0h2m37 0h2M372 1182h2m55 0h2m-1 0h2m1 0h2m1 0h2m0 0h2m-1 0h2m-1 0h2m0 0h2m1 0h2m2 0h2m1 0h2m-1 0h2m-1 0h2m0 0h2m-1 0h2m-1 0h2m-1 0h2m2 0h2m0 0h2m4 0h2m2 0h2m4 0h2m-1 0h2m-1 0h2m-1 0h2m-1 0h2m6 0h2m0 0h2m-1 0h2m18 0h2M422 1183h2m-1 0h2m11 0h2m0 0h2m-1 0h2m3 0h2m1 0h2m1 0h2m1 0h2m-1 0h2m4 0h2m1 0h2m-1 0h2m1 0h2m-1 0h2m-1 0h2m1 0h2m4 0h2m-1 0h2m8 0h2M411 1184h2m15 0h2m-1 0h2m2 0h2m1 0h2m2 0h2m2 0h2m0 0h2m1 0h2m0 0h2m1 0h2m3 0h2m-1 0h2m-1 0h2m3 0h2m-1 0h2m-1 0h2m-1 0h2m1 0h2m-1 0h2m0 0h2m9 0h2m6 0h2m89 0h2M425 1185h2m0 0h2m0 0h2m-1 0h2m3 0h2m-1 0h2m0 0h2m-1 0h2m-1 0h2m1 0h2m-1 0h2m-1 0h2m0 0h2m0 0h2m-1 0h2m-1 0h2m0 0h2m0 0h2m-1 0h2m-1 0h2m2 0h2m1 0h2m0 0h2m2 0h2m1 0h2m14 0h2m28 0h2M390 1186h2m23 0h2m2 0h2m3 0h2m5 0h2m-1 0h2m-1 0h2m0 0h2m3 0h2m-1 0h2m0 0h2m-1 0h2m-1 0h2m-1 0h2m-1 0h2m0 0h2m2 0h2m-1 0h2m-1 0h2m-1 0h2m0 0h2m-1 0h2m0 0h2m0 0h2m-1 0h2m-1 0h2m3 0h2m2 0h2m2 0h2m1 0h2m-1 0h2m2 0h2M363 1187h2m15 0h2m39 0h2m0 0h2m1 0h2m1 0h2m-1 0h2m2 0h2m-1 0h2m1 0h2m-1 0h2m3 0h2m-1 0h2m-1 0h2m3 0h2m-1 0h2m-1 0h2m-1 0h2m0 0h2m-1 0h2m0 0h2m0 0h2m0 0h2m-1 0h2m4 0h2m-1 0h2m0 0h2m-1 0h2m-1 0h2m0 0h2m-1 0h2m-1 0h2m-1 0h2m1 0h2m2 0h2m3 0h2m1 0h2m7 0h2m8 0h2m37 0h2M404 1188h2m12 0h2m14 0h2m1 0h2m1 0h2m0 0h2m0 0h2m0 0h2m1 0h2m-1 0h2m-1 0h2m0 0h2m-1 0h2m0 0h2m-1 0h2m0 0h2m-1 0h2m-1 0h2m-1 0h2m-1 0h2m-1 0h2m-1 0h2m-1 0h2m0 0h2m0 0h2m0 0h2m-1 0h2m-1 0h2m0 0h2m0 0h2m-1 0h2m3 0h2m-1 0h2m3 0h2m0 0h2m-1 0h2m-1 0h2m45 0h2m5 0h2m0 0h2M374 1189h2m16 0h2m21 0h2m8 0h2m4 0h2m-1 0h2m1 0h2m2 0h2m0 0h2m-1 0h2m-1 0h2m-1 0h2m-1 0h2m-1 0h2m0 0h2m-1 0h2m-1 0h2m0 0h2m0 0h2m-1 0h2m-1 0h2m-1 0h2m-1 0h2m-1 0h2m-1 0h2m-1 0h2m0 0h2m-1 0h2m1 0h2m-1 0h2m0 0h2m0 0h2m4 0h2m8 0h2m0 0h2m1 0h2m30 0h2m5 0h2M404 1190h2m14 0h2m-1 0h2m3 0h2m-1 0h2m-1 0h2m-1 0h2m0 0h2m-1 0h2m-1 0h2m6 0h2m2 0h2m0 0h2m0 0h2m0 0h2m-1 0h2m-1 0h2m-1 0h2m-1 0h2m-1 0h2m-1 0h2m0 0h2m-1 0h2m-1 0h2m-1 0h2m0 0h2m-1 0h2m-1 0h2m-1 0h2m-1 0h2m-1 0h2m-1 0h2m8 0h2m2 0h2m15 0h2m87 0h2M413 1191h2m2 0h2m3 0h2m3 0h2m-1 0h2m2 0h2m0 0h2m2 0h2m0 0h2m0 0h2m0 0h2m0 0h2m-1 0h2m-1 0h2m-1 0h2m0 0h2m-1 0h2m0 0h2m1 0h2m-1 0h2m1 0h2m-1 0h2m-1 0h2m1 0h2m-1 0h2m-1 0h2m-1 0h2m-1 0h2m-1 0h2m0 0h2m2 0h2m6 0h2m0 0h2m5 0h2m49 0h2m1 0h2M364 1192h2m60 0h2m0 0h2m0 0h2m-1 0h2m2 0h2m-1 0h2m0 0h2m-1 0h2m-1 0h2m0 0h2m0 0h2m-1 0h2m0 0h2m-1 0h2m-1 0h2m-1 0h2m-1 0h2m-1 0h2m-1 0h2m0 0h2m-1 0h2m-1 0h2m-1 0h2m0 0h2m-1 0h2m-1 0h2m6 0h2m1 0h2m1 0h2m3 0h2m2 0h2m1 0h2M399 1193h2m2 0h2m1 0h2m6 0h2m0 0h2m1 0h2m7 0h2m-1 0h2m3 0h2m1 0h2m0 0h2m2 0h2m2 0h2m0 0h2m-1 0h2m-1 0h2m-1 0h2m0 0h2m-1 0h2m0 0h2m-1 0h2m-1 0h2m0 0h2m-1 0h2m1 0h2m2 0h2m1 0h2m1 0h2m-1 0h2m-1 0h2m5 0h2m3 0h2m7 0h2m23 0h2m21 0h2m61 0h2M397 1194h2m5 0h2m16 0h2m3 0h2m-1 0h2m4 0h2m0 0h2m0 0h2m0 0h2m0 0h2m-1 0h2m0 0h2m-1 0h2m1 0h2m0 0h2m-1 0h2m-1 0h2m0 0h2m-1 0h2m-1 0h2m-1 0h2m-1 0h2m-1 0h2m-1 0h2m2 0h2m0 0h2m2 0h2m-1 0h2m-1 0h2m-1 0h2m2 0h2m-1 0h2m3 0h2M428 1195h2m0 0h2m-1 0h2m-1 0h2m3 0h2m-1 0h2m0 0h2m3 0h2m-1 0h2m0 0h2m-1 0h2m-1 0h2m-1 0h2m0 0h2m-1 0h2m-1 0h2m-1 0h2m-1 0h2m0 0h2m-1 0h2m1 0h2m-1 0h2m-1 0h2m-1 0h2m-1 0h2m-1 0h2m0 0h2m0 0h2m0 0h2m1 0h2m-1 0h2m1 0h2m19 0h2m3 0h2M405 1196h2m8 0h2m-1 0h2m0 0h2m10 0h2m-1 0h2m1 0h2m0 0h2m0 0h2m-1 0h2m1 0h2m0 0h2m2 0h2m-1 0h2m-1 0h2m-1 0h2m0 0h2m-1 0h2m0 0h2m3 0h2m0 0h2m-1 0h2m3 0h2m-1 0h2m-1 0h2m2 0h2m-1 0h2m1 0h2m8 0h2m-1 0h2m40 0h2m5 0h2m58 0h2M406 1197h2m3 0h2m0 0h2m3 0h2m-1 0h2m-1 0h2m3 0h2m6 0h2m2 0h2m1 0h2m-1 0h2m0 0h2m-1 0h2m2 0h2m-1 0h2m-1 0h2m-1 0h2m0 0h2m-1 0h2m-1 0h2m-1 0h2m-1 0h2m-1 0h2m-1 0h2m-1 0h2m-1 0h2m-1 0h2m-1 0h2m-1 0h2m-1 0h2m6 0h2m0 0h2m-1 0h2m-1 0h2m4 0h2m7 0h2m4 0h2m7 0h2m23 0h2m12 0h2M420 1198h2m7 0h2m-1 0h2m1 0h2m1 0h2m0 0h2m0 0h2m-1 0h2m-1 0h2m0 0h2m0 0h2m0 0h2m-1 0h2m0 0h2m-1 0h2m0 0h2m-1 0h2m0 0h2m0 0h2m-1 0h2m-1 0h2m0 0h2m1 0h2m-1 0h2m0 0h2m5 0h2m-1 0h2m-1 0h2m1 0h2m5 0h2m3 0h2m3 0h2M399 1199h2m10 0h2m4 0h2m0 0h2m-1 0h2m2 0h2m0 0h2m2 0h2m2 0h2m0 0h2m-1 0h2m-1 0h2m-1 0h2m0 0h2m-1 0h2m-1 0h2m1 0h2m0 0h2m-1 0h2m-1 0h2m0 0h2m-1 0h2m0 0h2m1 0h2m0 0h2m0 0h2m0 0h2m-1 0h2m-1 0h2m-1 0h2m-1 0h2m0 0h2m-1 0h2m-1 0h2m0 0h2m2 0h2m-1 0h2m3 0h2m6 0h2m-1 0h2m8 0h2m15 0h2m27 0h2M405 1200h2m4 0h2m-1 0h2m-1 0h2m2 0h2m0 0h2m-1 0h2m0 0h2m2 0h2m0 0h2m-1 0h2m-1 0h2m-1 0h2m1 0h2m0 0h2m-1 0h2m-1 0h2m-1 0h2m0 0h2m0 0h2m-1 0h2m-1 0h2m-1 0h2m-1 0h2m-1 0h2m-1 0h2m-1 0h2m-1 0h2m-1 0h2m-1 0h2m0 0h2m-1 0h2m-1 0h2m-1 0h2m-1 0h2m1 0h2m-1 0h2m-1 0h2m-1 0h2m-1 0h2m-1 0h2m-1 0h2m-1 0h2m-1 0h2m-1 0h2m0 0h2m3 0h2m2 0h2m2 0h2m1 0h2m31 0h2m19 0h2m6 0h2M401 1201h2m14 0h2m7 0h2m-1 0h2m2 0h2m0 0h2m-1 0h2m0 0h2m0 0h2m1 0h2m0 0h2m-1 0h2m-1 0h2m0 0h2m-1 0h2m-1 0h2m-1 0h2m-1 0h2m1 0h2m-1 0h2m0 0h2m1 0h2m-1 0h2m-1 0h2m-1 0h2m4 0h2m-1 0h2m-1 0h2m3 0h2m-1 0h2m-1 0h2m0 0h2m5 0h2m10 0h2M403 1202h2m0 0h2m15 0h2m-1 0h2m-1 0h2m1 0h2m-1 0h2m2 0h2m0 0h2m0 0h2m-1 0h2m-1 0h2m1 0h2m-1 0h2m-1 0h2m0 0h2m-1 0h2m-1 0h2m-1 0h2m-1 0h2m-1 0h2m-1 0h2m-1 0h2m-1 0h2m-1 0h2m-1 0h2m-1 0h2m0 0h2m0 0h2m1 0h2m0 0h2m0 0h2m-1 0h2m-1 0h2m1 0h2m0 0h2m-1 0h2m2 0h2m4 0h2m1 0h2m4 0h2m12 0h2m4 0h2m-1 0h2m30 0h2M408 1203h2m4 0h2m4 0h2m-1 0h2m-1 0h2m3 0h2m0 0h2m1 0h2m-1 0h2m0 0h2m0 0h2m0 0h2m0 0h2m0 0h2m2 0h2m-1 0h2m-1 0h2m-1 0h2m-1 0h2m-1 0h2m0 0h2m-1 0h2m0 0h2m-1 0h2m-1 0h2m-1 0h2m-1 0h2m-1 0h2m-1 0h2m-1 0h2m0 0h2m-1 0h2m-1 0h2m1 0h2m-1 0h2m-1 0h2m2 0h2m1 0h2m7 0h2m8 0h2m30 0h2m92 0h2M366 1204h2m33 0h2m15 0h2m2 0h2m2 0h2m0 0h2m-1 0h2m1 0h2m0 0h2m0 0h2m-1 0h2m0 0h2m-1 0h2m2 0h2m-1 0h2m-1 0h2m0 0h2m-1 0h2m-1 0h2m-1 0h2m0 0h2m-1 0h2m-1 0h2m-1 0h2m-1 0h2m-1 0h2m-1 0h2m2 0h2m2 0h2m0 0h2m0 0h2m0 0h2m0 0h2m3 0h2m6 0h2m19 0h2m20 0h2M363 1205h2m25 0h2m21 0h2m3 0h2m1 0h2m1 0h2m-1 0h2m1 0h2m4 0h2m-1 0h2m-1 0h2m0 0h2m2 0h2m-1 0h2m-1 0h2m0 0h2m-1 0h2m-1 0h2m-1 0h2m-1 0h2m-1 0h2m-1 0h2m-1 0h2m-1 0h2m0 0h2m-1 0h2m-1 0h2m-1 0h2m-1 0h2m0 0h2m0 0h2m-1 0h2m-1 0h2m0 0h2m-1 0h2m0 0h2m3 0h2m1 0h2m2 0h2m2 0h2m14 0h2m38 0h2m6 0h2m46 0h2M364 1206h2m14 0h2m24 0h2m10 0h2m-1 0h2m0 0h2m-1 0h2m0 0h2m-1 0h2m0 0h2m-1 0h2m-1 0h2m-1 0h2m3 0h2m-1 0h2m-1 0h2m-1 0h2m-1 0h2m-1 0h2m0 0h2m2 0h2m-1 0h2m-1 0h2m-1 0h2m-1 0h2m-1 0h2m-1 0h2m-1 0h2m0 0h2m-1 0h2m-1 0h2m-1 0h2m-1 0h2m-1 0h2m-1 0h2m-1 0h2m-1 0h2m0 0h2m-1 0h2m1 0h2m3 0h2m-1 0h2m0 0h2m0 0h2m-1 0h2m0 0h2m7 0h2m1 0h2m49 0h2M389 1207h2m3 0h2m11 0h2m4 0h2m-1 0h2m-1 0h2m0 0h2m3 0h2m1 0h2m0 0h2m4 0h2m0 0h2m-1 0h2m-1 0h2m-1 0h2m0 0h2m-1 0h2m0 0h2m-1 0h2m-1 0h2m-1 0h2m0 0h2m-1 0h2m0 0h2m-1 0h2m-1 0h2m-1 0h2m-1 0h2m-1 0h2m-1 0h2m-1 0h2m-1 0h2m0 0h2m-1 0h2m0 0h2m-1 0h2m-1 0h2m-1 0h2m1 0h2m-1 0h2m0 0h2m-1 0h2m0 0h2m9 0h2m-1 0h2m-1 0h2m-1 0h2m48 0h2M397 1208h2m27 0h2m1 0h2m-1 0h2m1 0h2m-1 0h2m-1 0h2m-1 0h2m-1 0h2m0 0h2m-1 0h2m-1 0h2m0 0h2m-1 0h2m1 0h2m-1 0h2m-1 0h2m-1 0h2m-1 0h2m-1 0h2m0 0h2m-1 0h2m-1 0h2m-1 0h2m-1 0h2m-1 0h2m-1 0h2m-1 0h2m5 0h2m-1 0h2m-1 0h2m-1 0h2m0 0h2m1 0h2m9 0h2m5 0h2m56 0h2M396 1209h2m13 0h2m5 0h2m4 0h2m-1 0h2m-1 0h2m3 0h2m1 0h2m-1 0h2m0 0h2m1 0h2m-1 0h2m-1 0h2m0 0h2m-1 0h2m-1 0h2m-1 0h2m-1 0h2m2 0h2m-1 0h2m-1 0h2m-1 0h2m0 0h2m-1 0h2m-1 0h2m-1 0h2m0 0h2m-1 0h2m-1 0h2m0 0h2m-1 0h2m-1 0h2m-1 0h2m-1 0h2m0 0h2m-1 0h2m2 0h2m-1 0h2m0 0h2m-1 0h2m2 0h2m3 0h2M388 1210h2m0 0h2m17 0h2m12 0h2m2 0h2m-1 0h2m0 0h2m-1 0h2m0 0h2m-1 0h2m0 0h2m-1 0h2m0 0h2m-1 0h2m0 0h2m0 0h2m-1 0h2m-1 0h2m-1 0h2m-1 0h2m0 0h2m-1 0h2m-1 0h2m0 0h2m-1 0h2m1 0h2m-1 0h2m-1 0h2m-1 0h2m-1 0h2m-1 0h2m-1 0h2m1 0h2m-1 0h2m-1 0h2m0 0h2m-1 0h2m1 0h2m0 0h2m5 0h2m11 0h2m41 0h2m7 0h2M418 1211h2m0 0h2m0 0h2m-1 0h2m4 0h2m0 0h2m1 0h2m-1 0h2m-1 0h2m1 0h2m0 0h2m-1 0h2m-1 0h2m-1 0h2m-1 0h2m-1 0h2m-1 0h2m-1 0h2m-1 0h2m-1 0h2m-1 0h2m-1 0h2m-1 0h2m-1 0h2m-1 0h2m-1 0h2m-1 0h2m0 0h2m-1 0h2m-1 0h2m0 0h2m0 0h2m-1 0h2m-1 0h2m-1 0h2m0 0h2m1 0h2m-1 0h2m-1 0h2m2 0h2m0 0h2m13 0h2m46 0h2m4 0h2m1 0h2M402 1212h2m2 0h2m8 0h2m0 0h2m1 0h2m1 0h2m2 0h2m-1 0h2m0 0h2m-1 0h2m-1 0h2m0 0h2m-1 0h2m-1 0h2m0 0h2m-1 0h2m-1 0h2m-1 0h2m-1 0h2m-1 0h2m-1 0h2m-1 0h2m1 0h2m-1 0h2m-1 0h2m-1 0h2m-1 0h2m1 0h2m-1 0h2m-1 0h2m1 0h2m0 0h2m-1 0h2m0 0h2m-1 0h2m-1 0h2m-1 0h2m-1 0h2m-1 0h2m-1 0h2m-1 0h2m3 0h2m-1 0h2m0 0h2m-1 0h2m8 0h2m0 0h2m2 0h2m8 0h2m16 0h2m7 0h2m5 0h2m-1 0h2m2 0h2m0 0h2m3 0h2M393 1213h2m3 0h2m7 0h2m7 0h2m2 0h2m5 0h2m0 0h2m0 0h2m-1 0h2m-1 0h2m-1 0h2m0 0h2m0 0h2m-1 0h2m-1 0h2m-1 0h2m-1 0h2m-1 0h2m-1 0h2m-1 0h2m-1 0h2m-1 0h2m-1 0h2m-1 0h2m-1 0h2m-1 0h2m-1 0h2m-1 0h2m0 0h2m-1 0h2m-1 0h2m-1 0h2m-1 0h2m-1 0h2m0 0h2m-1 0h2m1 0h2m-1 0h2m-1 0h2m-1 0h2m0 0h2m0 0h2m-1 0h2m0 0h2m-1 0h2m-1 0h2m0 0h2m0 0h2m1 0h2m0 0h2m0 0h2m0 0h2m53 0h2m3 0h2M403 1214h2m8 0h2m0 0h2m2 0h2m2 0h2m1 0h2m-1 0h2m3 0h2m-1 0h2m-1 0h2m1 0h2m-1 0h2m-1 0h2m-1 0h2m-1 0h2m-1 0h2m-1 0h2m-1 0h2m-1 0h2m-1 0h2m-1 0h2m0 0h2m-1 0h2m0 0h2m-1 0h2m-1 0h2m-1 0h2m-1 0h2m-1 0h2m-1 0h2m-1 0h2m-1 0h2m-1 0h2m-1 0h2m-1 0h2m-1 0h2m-1 0h2m0 0h2m0 0h2m-1 0h2m-1 0h2m0 0h2m3 0h2m6 0h2m3 0h2m28 0h2M417 1215h2m-1 0h2m-1 0h2m0 0h2m-1 0h2m8 0h2m0 0h2m0 0h2m-1 0h2m0 0h2m0 0h2m1 0h2m-1 0h2m1 0h2m-1 0h2m-1 0h2m-1 0h2m-1 0h2m-1 0h2m2 0h2m1 0h2m-1 0h2m-1 0h2m2 0h2m-1 0h2m-1 0h2m-1 0h2m-1 0h2m-1 0h2m-1 0h2m0 0h2m-1 0h2m-1 0h2m0 0h2m-1 0h2m-1 0h2m-1 0h2m-1 0h2m3 0h2m0 0h2m10 0h2M366 1216h2m55 0h2m0 0h2m1 0h2m-1 0h2m2 0h2m-1 0h2m0 0h2m0 0h2m-1 0h2m-1 0h2m-1 0h2m-1 0h2m0 0h2m0 0h2m-1 0h2m0 0h2m-1 0h2m-1 0h2m-1 0h2m-1 0h2m-1 0h2m-1 0h2m-1 0h2m0 0h2m-1 0h2m-1 0h2m0 0h2m-1 0h2m-1 0h2m-1 0h2m0 0h2m0 0h2m0 0h2m-1 0h2m-1 0h2m1 0h2m1 0h2m1 0h2m8 0h2m0 0h2m3 0h2m10 0h2m38 0h2m3 0h2M415 1217h2m5 0h2m1 0h2m-1 0h2m-1 0h2m1 0h2m-1 0h2m0 0h2m1 0h2m1 0h2m-1 0h2m0 0h2m-1 0h2m-1 0h2m0 0h2m-1 0h2m-1 0h2m-1 0h2m-1 0h2m-1 0h2m-1 0h2m-1 0h2m0 0h2m-1 0h2m-1 0h2m-1 0h2m-1 0h2m-1 0h2m-1 0h2m-1 0h2m-1 0h2m0 0h2m-1 0h2m-1 0h2m0 0h2m1 0h2m-1 0h2m-1 0h2m0 0h2m2 0h2m2 0h2m0 0h2m15 0h2m39 0h2m9 0h2M393 1218h2m13 0h2m9 0h2m2 0h2m1 0h2m2 0h2m0 0h2m0 0h2m0 0h2m0 0h2m1 0h2m0 0h2m-1 0h2m-1 0h2m-1 0h2m-1 0h2m-1 0h2m-1 0h2m-1 0h2m-1 0h2m-1 0h2m0 0h2m0 0h2m0 0h2m-1 0h2m0 0h2m-1 0h2m0 0h2m-1 0h2m-1 0h2m1 0h2m2 0h2m-1 0h2m0 0h2m-1 0h2m0 0h2m0 0h2m4 0h2m-1 0h2m-1 0h2m49 0h2m0 0h2m5 0h2m2 0h2M415 1219h2m1 0h2m-1 0h2m-1 0h2m2 0h2m0 0h2m-1 0h2m2 0h2m-1 0h2m-1 0h2m-1 0h2m2 0h2m0 0h2m-1 0h2m-1 0h2m-1 0h2m-1 0h2m-1 0h2m-1 0h2m-1 0h2m-1 0h2m-1 0h2m-1 0h2m0 0h2m-1 0h2m-1 0h2m-1 0h2m-1 0h2m-1 0h2m-1 0h2m-1 0h2m-1 0h2m1 0h2m1 0h2m-1 0h2m0 0h2m0 0h2m-1 0h2m-1 0h2m-1 0h2m1 0h2m0 0h2m1 0h2m-1 0h2m70 0h2M393 1220h2m9 0h2m13 0h2m-1 0h2m0 0h2m1 0h2m-1 0h2m0 0h2m0 0h2m1 0h2m-1 0h2m-1 0h2m-1 0h2m-1 0h2m0 0h2m-1 0h2m-1 0h2m-1 0h2m-1 0h2m-1 0h2m-1 0h2m-1 0h2m-1 0h2m-1 0h2m-1 0h2m-1 0h2m-1 0h2m-1 0h2m-1 0h2m-1 0h2m0 0h2m0 0h2m-1 0h2m0 0h2m1 0h2m-1 0h2m-1 0h2m2 0h2m-1 0h2m-1 0h2m-1 0h2m5 0h2m1 0h2m-1 0h2m43 0h2m2 0h2m3 0h2m3 0h2m2 0h2m2 0h2M414 1221h2m1 0h2m-1 0h2m5 0h2m0 0h2m-1 0h2m-1 0h2m-1 0h2m-1 0h2m-1 0h2m-1 0h2m-1 0h2m0 0h2m-1 0h2m-1 0h2m-1 0h2m-1 0h2m-1 0h2m-1 0h2m-1 0h2m-1 0h2m-1 0h2m-1 0h2m-1 0h2m-1 0h2m-1 0h2m1 0h2m-1 0h2m-1 0h2m-1 0h2m-1 0h2m-1 0h2m-1 0h2m0 0h2m-1 0h2m-1 0h2m0 0h2m-1 0h2m0 0h2m2 0h2m0 0h2m0 0h2m8 0h2m1 0h2m1 0h2m1 0h2m0 0h2m0 0h2m46 0h2M399 1222h2m12 0h2m1 0h2m9 0h2m0 0h2m-1 0h2m-1 0h2m-1 0h2m-1 0h2m0 0h2m0 0h2m1 0h2m-1 0h2m-1 0h2m0 0h2m1 0h2m-1 0h2m-1 0h2m-1 0h2m-1 0h2m-1 0h2m-1 0h2m0 0h2m-1 0h2m-1 0h2m0 0h2m0 0h2m-1 0h2m-1 0h2m-1 0h2m0 0h2m0 0h2m0 0h2m-1 0h2m-1 0h2m0 0h2m2 0h2m2 0h2m-1 0h2m0 0h2m3 0h2m0 0h2m45 0h2m16 0h2M391 1223h2m22 0h2m-1 0h2m0 0h2m-1 0h2m3 0h2m-1 0h2m-1 0h2m2 0h2m-1 0h2m-1 0h2m2 0h2m-1 0h2m-1 0h2m-1 0h2m-1 0h2m-1 0h2m0 0h2m-1 0h2m0 0h2m-1 0h2m-1 0h2m1 0h2m-1 0h2m-1 0h2m-1 0h2m-1 0h2m-1 0h2m0 0h2m-1 0h2m-1 0h2m-1 0h2m-1 0h2m0 0h2m-1 0h2m-1 0h2m-1 0h2m-1 0h2m-1 0h2m1 0h2m0 0h2m1 0h2m2 0h2m0 0h2m12 0h2m39 0h2m3 0h2m3 0h2M418 1224h2m5 0h2m2 0h2m5 0h2m-1 0h2m-1 0h2m-1 0h2m-1 0h2m-1 0h2m-1 0h2m-1 0h2m0 0h2m0 0h2m-1 0h2m0 0h2m-1 0h2m-1 0h2m-1 0h2m-1 0h2m-1 0h2m-1 0h2m-1 0h2m-1 0h2m0 0h2m-1 0h2m-1 0h2m-1 0h2m1 0h2m-1 0h2m0 0h2m-1 0h2m-1 0h2m-1 0h2m-1 0h2m-1 0h2m3 0h2m11 0h2m50 0h2m1 0h2m4 0h2M386 1225h2m8 0h2m7 0h2m13 0h2m1 0h2m-1 0h2m1 0h2m-1 0h2m0 0h2m0 0h2m-1 0h2m-1 0h2m-1 0h2m-1 0h2m-1 0h2m-1 0h2m-1 0h2m0 0h2m-1 0h2m-1 0h2m-1 0h2m-1 0h2m-1 0h2m2 0h2m-1 0h2m-1 0h2m-1 0h2m-1 0h2m0 0h2m0 0h2m-1 0h2m-1 0h2m-1 0h2m-1 0h2m-1 0h2m0 0h2m6 0h2m-1 0h2m3 0h2m2 0h2m3 0h2m6 0h2m0 0h2m44 0h2m-1 0h2M388 1226h2m9 0h2m14 0h2m0 0h2m-1 0h2m-1 0h2m-1 0h2m2 0h2m1 0h2m-1 0h2m-1 0h2m-1 0h2m-1 0h2m-1 0h2m-1 0h2m-1 0h2m1 0h2m-1 0h2m-1 0h2m-1 0h2m0 0h2m-1 0h2m-1 0h2m-1 0h2m-1 0h2m-1 0h2m-1 0h2m0 0h2m-1 0h2m1 0h2m-1 0h2m-1 0h2m-1 0h2m-1 0h2m0 0h2m-1 0h2m-1 0h2m-1 0h2m-1 0h2m-1 0h2m0 0h2m0 0h2m0 0h2m-1 0h2m-1 0h2m0 0h2m2 0h2m41 0h2m10 0h2m7 0h2m0 0h2m1 0h2M407 1227h2m3 0h2m5 0h2m-1 0h2m2 0h2m1 0h2m-1 0h2m1 0h2m-1 0h2m-1 0h2m-1 0h2m-1 0h2m0 0h2m-1 0h2m-1 0h2m-1 0h2m-1 0h2m1 0h2m-1 0h2m-1 0h2m-1 0h2m-1 0h2m0 0h2m-1 0h2m-1 0h2m-1 0h2m-1 0h2m-1 0h2m-1 0h2m-1 0h2m-1 0h2m0 0h2m0 0h2m0 0h2m0 0h2m-1 0h2m-1 0h2m-1 0h2m-1 0h2m1 0h2m1 0h2m1 0h2m-1 0h2m0 0h2m0 0h2m6 0h2m4 0h2m49 0h2m10 0h2M397 1228h2m2 0h2m1 0h2m9 0h2m1 0h2m0 0h2m-1 0h2m-1 0h2m0 0h2m2 0h2m-1 0h2m-1 0h2m-1 0h2m-1 0h2m-1 0h2m0 0h2m-1 0h2m-1 0h2m0 0h2m-1 0h2m-1 0h2m-1 0h2m-1 0h2m0 0h2m-1 0h2m-1 0h2m-1 0h2m-1 0h2m-1 0h2m-1 0h2m-1 0h2m-1 0h2m-1 0h2m0 0h2m-1 0h2m1 0h2m-1 0h2m3 0h2m2 0h2m2 0h2m13 0h2m4 0h2m41 0h2m5 0h2m1 0h2m4 0h2M383 1229h2m12 0h2m12 0h2m3 0h2m-1 0h2m2 0h2m1 0h2m4 0h2m-1 0h2m0 0h2m-1 0h2m-1 0h2m-1 0h2m-1 0h2m-1 0h2m-1 0h2m-1 0h2m1 0h2m-1 0h2m-1 0h2m-1 0h2m-1 0h2m-1 0h2m1 0h2m0 0h2m0 0h2m0 0h2m0 0h2m-1 0h2m-1 0h2m0 0h2m2 0h2m0 0h2m-1 0h2m-1 0h2m-1 0h2m-1 0h2m11 0h2m13 0h2m2 0h2m9 0h2m13 0h2m9 0h2m4 0h2m0 0h2m0 0h2m14 0h2M366 1230h2m38 0h2m11 0h2m1 0h2m3 0h2m0 0h2m1 0h2m2 0h2m1 0h2m-1 0h2m1 0h2m-1 0h2m-1 0h2m-1 0h2m-1 0h2m-1 0h2m0 0h2m-1 0h2m-1 0h2m-1 0h2m-1 0h2m0 0h2m0 0h2m-1 0h2m-1 0h2m-1 0h2m3 0h2m0 0h2m0 0h2m-1 0h2m8 0h2m-1 0h2m-1 0h2m0 0h2m-1 0h2m44 0h2m0 0h2m10 0h2m3 0h2M410 1231h2m6 0h2m1 0h2m2 0h2m2 0h2m1 0h2m-1 0h2m-1 0h2m0 0h2m0 0h2m-1 0h2m-1 0h2m-1 0h2m-1 0h2m0 0h2m-1 0h2m-1 0h2m-1 0h2m-1 0h2m-1 0h2m-1 0h2m0 0h2m-1 0h2m-1 0h2m-1 0h2m-1 0h2m-1 0h2m-1 0h2m-1 0h2m-1 0h2m-1 0h2m0 0h2m-1 0h2m-1 0h2m4 0h2m1 0h2m1 0h2m5 0h2m49 0h2m0 0h2m7 0h2M408 1232h2m5 0h2m2 0h2m-1 0h2m0 0h2m0 0h2m1 0h2m0 0h2m-1 0h2m1 0h2m1 0h2m-1 0h2m-1 0h2m-1 0h2m0 0h2m-1 0h2m0 0h2m-1 0h2m-1 0h2m0 0h2m-1 0h2m-1 0h2m-1 0h2m0 0h2m-1 0h2m-1 0h2m0 0h2m0 0h2m0 0h2m-1 0h2m-1 0h2m2 0h2m-1 0h2m-1 0h2m1 0h2m0 0h2m2 0h2m5 0h2m3 0h2m5 0h2m38 0h2M406 1233h2m7 0h2m-1 0h2m1 0h2m2 0h2m2 0h2m0 0h2m-1 0h2m1 0h2m-1 0h2m-1 0h2m-1 0h2m-1 0h2m-1 0h2m-1 0h2m-1 0h2m0 0h2m0 0h2m-1 0h2m0 0h2m-1 0h2m-1 0h2m-1 0h2m-1 0h2m-1 0h2m1 0h2m2 0h2m-1 0h2m-1 0h2m3 0h2m-1 0h2m1 0h2m-1 0h2m0 0h2m1 0h2m-1 0h2m0 0h2m-1 0h2m2 0h2m60 0h2m2 0h2m11 0h2M409 1234h2m-1 0h2m0 0h2m-1 0h2m-1 0h2m0 0h2m7 0h2m-1 0h2m0 0h2m0 0h2m-1 0h2m-1 0h2m-1 0h2m2 0h2m-1 0h2m1 0h2m-1 0h2m-1 0h2m-1 0h2m-1 0h2m-1 0h2m-1 0h2m-1 0h2m-1 0h2m0 0h2m0 0h2m-1 0h2m-1 0h2m-1 0h2m-1 0h2m-1 0h2m-1 0h2m-1 0h2m2 0h2m0 0h2m-1 0h2m0 0h2m-1 0h2m-1 0h2m-1 0h2m3 0h2m-1 0h2m2 0h2m3 0h2m2 0h2m5 0h2m28 0h2m9 0h2m-1 0h2m0 0h2m0 0h2m-1 0h2m2 0h2m6 0h2M407 1235h2m9 0h2m6 0h2m-1 0h2m-1 0h2m1 0h2m2 0h2m0 0h2m0 0h2m0 0h2m-1 0h2m-1 0h2m-1 0h2m-1 0h2m-1 0h2m0 0h2m-1 0h2m0 0h2m-1 0h2m-1 0h2m-1 0h2m-1 0h2m-1 0h2m-1 0h2m-1 0h2m-1 0h2m-1 0h2m-1 0h2m-1 0h2m-1 0h2m0 0h2m2 0h2m1 0h2m0 0h2m4 0h2m0 0h2m7 0h2m2 0h2m42 0h2m-1 0h2m1 0h2M412 1236h2m2 0h2m5 0h2m-1 0h2m0 0h2m-1 0h2m1 0h2m-1 0h2m-1 0h2m0 0h2m0 0h2m0 0h2m0 0h2m-1 0h2m1 0h2m-1 0h2m-1 0h2m-1 0h2m0 0h2m-1 0h2m-1 0h2m-1 0h2m1 0h2m-1 0h2m-1 0h2m-1 0h2m-1 0h2m-1 0h2m-1 0h2m0 0h2m-1 0h2m1 0h2m2 0h2m-1 0h2m0 0h2m0 0h2m1 0h2m7 0h2m9 0h2M410 1237h2m4 0h2m0 0h2m3 0h2m2 0h2m0 0h2m-1 0h2m1 0h2m-1 0h2m-1 0h2m0 0h2m0 0h2m0 0h2m1 0h2m0 0h2m1 0h2m-1 0h2m-1 0h2m-1 0h2m-1 0h2m-1 0h2m-1 0h2m-1 0h2m-1 0h2m-1 0h2m3 0h2m0 0h2m1 0h2m2 0h2m2 0h2m0 0h2m5 0h2m2 0h2m17 0h2m29 0h2m2 0h2m1 0h2m3 0h2m0 0h2m3 0h2m6 0h2M390 1238h2m14 0h2m4 0h2m4 0h2m-1 0h2m5 0h2m8 0h2m-1 0h2m-1 0h2m0 0h2m-1 0h2m1 0h2m0 0h2m1 0h2m-1 0h2m-1 0h2m0 0h2m-1 0h2m2 0h2m-1 0h2m-1 0h2m-1 0h2m-1 0h2m0 0h2m1 0h2m-1 0h2m2 0h2m-1 0h2m5 0h2m1 0h2m9 0h2m0 0h2m40 0h2m5 0h2m10 0h2m-1 0h2m1 0h2M378 1239h2m30 0h2m8 0h2m2 0h2m0 0h2m0 0h2m0 0h2m-1 0h2m2 0h2m0 0h2m0 0h2m-1 0h2m-1 0h2m-1 0h2m0 0h2m-1 0h2m-1 0h2m-1 0h2m-1 0h2m0 0h2m-1 0h2m0 0h2m-1 0h2m-1 0h2m-1 0h2m-1 0h2m-1 0h2m-1 0h2m-1 0h2m-1 0h2m-1 0h2m-1 0h2m-1 0h2m-1 0h2m-1 0h2m-1 0h2m-1 0h2m2 0h2m-1 0h2m-1 0h2m2 0h2m-1 0h2m68 0h2M387 1240h2m20 0h2m4 0h2m3 0h2m0 0h2m0 0h2m-1 0h2m0 0h2m-1 0h2m1 0h2m0 0h2m-1 0h2m-1 0h2m-1 0h2m-1 0h2m-1 0h2m-1 0h2m0 0h2m-1 0h2m0 0h2m-1 0h2m-1 0h2m-1 0h2m3 0h2m-1 0h2m-1 0h2m1 0h2m1 0h2m-1 0h2m-1 0h2m-1 0h2m-1 0h2m0 0h2m0 0h2m-1 0h2m0 0h2m0 0h2m2 0h2m0 0h2m57 0h2m16 0h2M392 1241h2m20 0h2m3 0h2m1 0h2m0 0h2m-1 0h2m0 0h2m1 0h2m0 0h2m-1 0h2m-1 0h2m-1 0h2m-1 0h2m-1 0h2m-1 0h2m-1 0h2m0 0h2m-1 0h2m-1 0h2m-1 0h2m0 0h2m-1 0h2m-1 0h2m0 0h2m3 0h2m-1 0h2m-1 0h2m-1 0h2m-1 0h2m1 0h2m6 0h2m3 0h2m9 0h2m-1 0h2m1 0h2m3 0h2m41 0h2m5 0h2M410 1242h2m1 0h2m3 0h2m-1 0h2m1 0h2m2 0h2m0 0h2m2 0h2m-1 0h2m-1 0h2m-1 0h2m-1 0h2m0 0h2m-1 0h2m-1 0h2m-1 0h2m-1 0h2m-1 0h2m-1 0h2m0 0h2m0 0h2m-1 0h2m1 0h2m-1 0h2m2 0h2m-1 0h2m-1 0h2m-1 0h2m-1 0h2m1 0h2m-1 0h2m-1 0h2m17 0h2m5 0h2m57 0h2M407 1243h2m2 0h2m6 0h2m2 0h2m0 0h2m1 0h2m1 0h2m-1 0h2m1 0h2m1 0h2m0 0h2m0 0h2m1 0h2m-1 0h2m-1 0h2m3 0h2m2 0h2m0 0h2m-1 0h2m0 0h2m-1 0h2m0 0h2m-1 0h2m0 0h2m-1 0h2m1 0h2m1 0h2m10 0h2m6 0h2m42 0h2m-1 0h2m4 0h2m-1 0h2m4 0h2M411 1244h2m8 0h2m0 0h2m1 0h2m2 0h2m3 0h2m1 0h2m-1 0h2m0 0h2m0 0h2m-1 0h2m-1 0h2m1 0h2m-1 0h2m-1 0h2m-1 0h2m-1 0h2m1 0h2m1 0h2m3 0h2m-1 0h2m0 0h2m-1 0h2m0 0h2m0 0h2m2 0h2m2 0h2m0 0h2m0 0h2m1 0h2m70 0h2M401 1245h2m10 0h2m5 0h2m0 0h2m-1 0h2m4 0h2m-1 0h2m-1 0h2m-1 0h2m0 0h2m3 0h2m-1 0h2m2 0h2m1 0h2m-1 0h2m-1 0h2m3 0h2m-1 0h2m-1 0h2m-1 0h2m0 0h2m-1 0h2m-1 0h2m-1 0h2m5 0h2m1 0h2m6 0h2m49 0h2m11 0h2m4 0h2m0 0h2M396 1246h2m16 0h2m3 0h2m0 0h2m0 0h2m0 0h2m-1 0h2m0 0h2m-1 0h2m-1 0h2m-1 0h2m0 0h2m-1 0h2m-1 0h2m0 0h2m1 0h2m-1 0h2m-1 0h2m0 0h2m1 0h2m1 0h2m0 0h2m-1 0h2m-1 0h2m-1 0h2m0 0h2m0 0h2m0 0h2m0 0h2m-1 0h2m1 0h2m0 0h2m0 0h2m4 0h2m53 0h2m13 0h2m9 0h2M405 1247h2m-1 0h2m9 0h2m3 0h2m1 0h2m-1 0h2m5 0h2m0 0h2m-1 0h2m-1 0h2m3 0h2m-1 0h2m-1 0h2m0 0h2m-1 0h2m-1 0h2m-1 0h2m-1 0h2m-1 0h2m6 0h2m-1 0h2m-1 0h2m1 0h2m4 0h2m0 0h2m1 0h2m-1 0h2m9 0h2m2 0h2m-1 0h2m18 0h2M392 1248h2m22 0h2m-1 0h2m-1 0h2m7 0h2m-1 0h2m-1 0h2m0 0h2m1 0h2m0 0h2m2 0h2m-1 0h2m-1 0h2m1 0h2m3 0h2m-1 0h2m1 0h2m0 0h2m-1 0h2m-1 0h2m-1 0h2m-1 0h2m0 0h2m0 0h2m-1 0h2m4 0h2m2 0h2m6 0h2m51 0h2m0 0h2m3 0h2m2 0h2m1 0h2m25 0h2M416 1249h2m1 0h2m2 0h2m6 0h2m1 0h2m0 0h2m-1 0h2m0 0h2m-1 0h2m0 0h2m-1 0h2m0 0h2m-1 0h2m1 0h2m-1 0h2m-1 0h2m1 0h2m-1 0h2m0 0h2m0 0h2m-1 0h2m-1 0h2m1 0h2m0 0h2m0 0h2m10 0h2M411 1250h2m0 0h2m5 0h2m4 0h2m-1 0h2m-1 0h2m-1 0h2m2 0h2m2 0h2m0 0h2m-1 0h2m1 0h2m-1 0h2m-1 0h2m-1 0h2m1 0h2m1 0h2m-1 0h2m0 0h2m-1 0h2m-1 0h2m2 0h2m1 0h2m74 0h2m4 0h2m0 0h2M384 1251h2m19 0h2m8 0h2m1 0h2m2 0h2m-1 0h2m1 0h2m0 0h2m0 0h2m1 0h2m-1 0h2m-1 0h2m2 0h2m0 0h2m0 0h2m0 0h2m-1 0h2m-1 0h2m1 0h2m-1 0h2m2 0h2m1 0h2m3 0h2m-1 0h2m0 0h2m1 0h2m-1 0h2m1 0h2m72 0h2m2 0h2m0 0h2M400 1252h2m16 0h2m0 0h2m1 0h2m2 0h2m2 0h2m-1 0h2m-1 0h2m-1 0h2m2 0h2m3 0h2m2 0h2m-1 0h2m-1 0h2m-1 0h2m1 0h2m-1 0h2m0 0h2m3 0h2m-1 0h2m0 0h2m6 0h2m7 0h2m49 0h2m13 0h2M408 1253h2m7 0h2m0 0h2m3 0h2m-1 0h2m5 0h2m1 0h2m-1 0h2m2 0h2m-1 0h2m2 0h2m2 0h2m-1 0h2m-1 0h2m1 0h2m1 0h2m5 0h2m3 0h2m21 0h2m44 0h2M406 1254h2m-1 0h2m3 0h2m9 0h2m1 0h2m-1 0h2m-1 0h2m-1 0h2m1 0h2m1 0h2m0 0h2m1 0h2m-1 0h2m0 0h2m-1 0h2m1 0h2m-1 0h2m3 0h2m-1 0h2m1 0h2m-1 0h2m-1 0h2m1 0h2m6 0h2m-1 0h2m0 0h2m1 0h2m68 0h2M390 1255h2m21 0h2m0 0h2m-1 0h2m0 0h2m0 0h2m2 0h2m-1 0h2m3 0h2m1 0h2m-1 0h2m3 0h2m0 0h2m-1 0h2m-1 0h2m-1 0h2m0 0h2m1 0h2m-1 0h2m-1 0h2m3 0h2m-1 0h2m-1 0h2m-1 0h2m5 0h2m3 0h2m-1 0h2m70 0h2m1 0h2m12 0h2M408 1256h2m4 0h2m0 0h2m12 0h2m-1 0h2m3 0h2m-1 0h2m-1 0h2m8 0h2m0 0h2m6 0h2m4 0h2m1 0h2m0 0h2m12 0h2m55 0h2M396 1257h2m7 0h2m5 0h2m2 0h2m1 0h2m2 0h2m0 0h2m-1 0h2m-1 0h2m3 0h2m0 0h2m5 0h2m-1 0h2m4 0h2m-1 0h2m1 0h2m-1 0h2m0 0h2m-1 0h2m-1 0h2m2 0h2m-1 0h2m1 0h2m18 0h2m50 0h2m11 0h2M418 1258h2m0 0h2m2 0h2m1 0h2m-1 0h2m5 0h2m3 0h2m0 0h2m0 0h2m7 0h2m7 0h2m5 0h2m61 0h2m18 0h2M397 1259h2m9 0h2m14 0h2m-1 0h2m0 0h2m13 0h2m0 0h2m5 0h2m5 0h2m-1 0h2m3 0h2m-1 0h2m0 0h2m77 0h2m1 0h2M419 1260h2m-1 0h2m0 0h2m3 0h2m3 0h2m0 0h2m9 0h2m1 0h2m-1 0h2m2 0h2m1 0h2m2 0h2m3 0h2m0 0h2m-1 0h2m-1 0h2m8 0h2m2 0h2m51 0h2m13 0h2M366 1261h2m8 0h2m1 0h2m-1 0h2m-1 0h2m6 0h2m0 0h2m2 0h2m0 0h2m-1 0h2m-1 0h2m2 0h2m-1 0h2m-1 0h2m-1 0h2m-1 0h2m-1 0h2m-1 0h2m0 0h2m-1 0h2m-1 0h2m-1 0h2m-1 0h2m-1 0h2m-1 0h2m-1 0h2m-1 0h2m-1 0h2m-1 0h2m-1 0h2m-1 0h2m-1 0h2m-1 0h2m-1 0h2m-1 0h2m-1 0h2m-1 0h2m-1 0h2m-1 0h2m-1 0h2m-1 0h2m-1 0h2m-1 0h2m-1 0h2m-1 0h2m-1 0h2m-1 0h2m-1 0h2m-1 0h2m-1 0h2m-1 0h2m-1 0h2m-1 0h2m-1 0h2m-1 0h2m-1 0h2m-1 0h2m-1 0h2m-1 0h2m-1 0h2m-1 0h2m-1 0h2m-1 0h2m-1 0h2m-1 0h2m-1 0h2m-1 0h2m-1 0h2m-1 0h2m-1 0h2m-1 0h2m-1 0h2m-1 0h2m-1 0h2m-1 0h2m-1 0h2m-1 0h2m-1 0h2m-1 0h2m-1 0h2m-1 0h2m-1 0h2m-1 0h2m-1 0h2m-1 0h2m-1 0h2m-1 0h2m0 0h2m-1 0h2m-1 0h2m0 0h2m-1 0h2m1 0h2m0 0h2m0 0h2m-1 0h2m-1 0h2m1 0h2m3 0h2m10 0h2m16 0h2m6 0h2m1 0h2m1 0h2m2 0h2m-1 0h2m0 0h2m60 0h2" stroke="#000" stroke-width="2" fill="none"/>
<rect x="144.6" y="398.5" width="107.20000000000002" height="106.89999999999998" fill="none" stroke="#333" stroke-width="1"/>
<path d="M144.6 505.4v2.2M144.6 505.4h-2.2M152.7 505.4v1.1M144.6 497.4h-1.1M157.4 505.4v1.1M144.6 492.6h-1.1M160.7 505.4v1.1M144.6 489.3h-1.1M163.3 505.4v1.1M144.6 486.7h-1.1M165.5 505.4v1.1M144.6 484.6h-1.1M167.2 505.4v1.1M144.6 482.8h-1.1M168.8 505.4v1.1M144.6 481.3h-1.1M170.2 505.4v1.1M144.6 479.9h-1.1M171.4 505.4v2.2M144.6 478.7h-2.2M179.5 505.4v1.1M144.6 470.6h-1.1M184.2 505.4v1.1M144.6 465.9h-1.1M187.5 505.4v1.1M144.6 462.6h-1.1M190.1 505.4v1.1M144.6 460.0h-1.1M192.3 505.4v1.1M144.6 457.9h-1.1M194.0 505.4v1.1M144.6 456.1h-1.1M195.6 505.4v1.1M144.6 454.5h-1.1M197.0 505.4v1.1M144.6 453.2h-1.1M198.2 505.4v2.2M144.6 451.9h-2.2M206.3 505.4v1.1M144.6 443.9h-1.1M211.0 505.4v1.1M144.6 439.2h-1.1M214.3 505.4v1.1M144.6 435.9h-1.1M216.9 505.4v1.1M144.6 433.3h-1.1M219.1 505.4v1.1M144.6 431.2h-1.1M220.8 505.4v1.1M144.6 429.4h-1.1M222.4 505.4v1.1M144.6 427.8h-1.1M223.8 505.4v1.1M144.6 426.4h-1.1M225.0 505.4v2.2M144.6 425.2h-2.2M233.1 505.4v1.1M144.6 417.2h-1.1M237.8 505.4v1.1M144.6 412.5h-1.1M241.1 505.4v1.1M144.6 409.1h-1.1M243.7 505.4v1.1M144.6 406.5h-1.1M245.9 505.4v1.1M144.6 404.4h-1.1M247.6 505.4v1.1M144.6 402.6h-1.1M249.2 505.4v1.1M144.6 401.1h-1.1M250.6 505.4v1.1M144.6 399.7h-1.1M251.8 505.4v2.2M144.6 398.5h-2.2" stroke="#444" stroke-width="0.55" fill="none"/>
<rect x="85.4" y="413.5" width="35.8" height="34.30000000000001" fill="none" stroke="#444" stroke-width="1"/>
<rect x="203.5" y="413.8" width="35.0" height="33.599999999999966" fill="none" stroke="#222" stroke-width="1.1"/>
<text transform="translate(60 423) scale(1.13 1)" font-size="11.7" font-weight="bold">3.6</text>
<text transform="translate(181.5 424) scale(1.13 1)" font-size="11.7" font-weight="bold">0.4</text>
<text x="18.9" y="451" font-size="14.3" font-weight="bold" text-anchor="middle" transform="rotate(-90 18.9 451)">Kit</text>
<line x1="15.2" y1="433.5" x2="15.2" y2="414.2" stroke="#111" stroke-width="1.7"/>
<path d="M15.2 407.2 L19.4 419.7 L15.2 416.7 L11.0 419.7 Z" fill="#111"/>
<line x1="15.2" y1="475.5" x2="15.2" y2="494" stroke="#111" stroke-width="1.7"/>
<line x1="34" y1="518" x2="105" y2="518" stroke="#111" stroke-width="1.7"/>
<text x="134.2" y="523.5" font-size="15.2" font-weight="bold" text-anchor="middle">CD44</text>
<line x1="160" y1="518" x2="231" y2="518" stroke="#111" stroke-width="1.7"/>
<path d="M238 518 L225.5 513.8 L228.5 518 L225.5 522.2 Z" fill="#111"/>
<text x="331" y="396.5" font-size="14.5" font-weight="bold" text-anchor="middle">n = 6</text>
<text x="285" y="453.5" font-size="14.9" font-weight="bold" text-anchor="middle" transform="rotate(-90 285 453.5)">% of Lin<tspan font-size="9" dy="-5">-</tspan><tspan dy="5" dx="-1"> cells</tspan></text>
<line x1="303" y1="401.8" x2="303" y2="505.6" stroke="#111" stroke-width="1.5"/>
<line x1="302.3" y1="505" x2="361" y2="505" stroke="#111" stroke-width="1.5"/>
<line x1="299.8" y1="483.15000000000003" x2="303" y2="483.15000000000003" stroke="#111" stroke-width="1.2"/>
<text x="298.8" y="487.65000000000003" font-size="12.5" font-weight="bold" text-anchor="end">1</text>
<line x1="301" y1="493.55" x2="303" y2="493.55" stroke="#111" stroke-width="1.0"/>
<line x1="299.8" y1="462.20000000000005" x2="303" y2="462.20000000000005" stroke="#111" stroke-width="1.2"/>
<text x="298.8" y="466.70000000000005" font-size="12.5" font-weight="bold" text-anchor="end">2</text>
<line x1="301" y1="472.6" x2="303" y2="472.6" stroke="#111" stroke-width="1.0"/>
<line x1="299.8" y1="441.25" x2="303" y2="441.25" stroke="#111" stroke-width="1.2"/>
<text x="298.8" y="445.75" font-size="12.5" font-weight="bold" text-anchor="end">3</text>
<line x1="301" y1="451.65" x2="303" y2="451.65" stroke="#111" stroke-width="1.0"/>
<line x1="299.8" y1="420.3" x2="303" y2="420.3" stroke="#111" stroke-width="1.2"/>
<text x="298.8" y="424.8" font-size="12.5" font-weight="bold" text-anchor="end">4</text>
<line x1="301" y1="430.7" x2="303" y2="430.7" stroke="#111" stroke-width="1.0"/>
<line x1="301" y1="409.5" x2="303" y2="409.5" stroke="#111" stroke-width="1.0"/>
<rect x="311.90" y="429.00" width="16.20" height="76.00" fill="#0a0a0a"/>
<line x1="320.0" y1="418.8" x2="320.0" y2="429.5" stroke="#111" stroke-width="1.25"/>
<line x1="316.3" y1="419.0" x2="323.7" y2="419.0" stroke="#111" stroke-width="1.6"/>
<rect x="335.70" y="493.00" width="16.60" height="12.00" fill="#a9a9a9"/>
<line x1="344.0" y1="485.8" x2="344.0" y2="493.5" stroke="#111" stroke-width="1.25"/>
<line x1="340.3" y1="486.0" x2="347.7" y2="486.0" stroke="#111" stroke-width="1.6"/>
<text x="310.5" y="414.5" font-size="10.5" fill="#222"><tspan font-style="italic">P</tspan> &lt; .0001</text>
<text x="313.3" y="521.3" font-size="14.8" font-weight="bold">Kit<tspan font-size="8.5" dx="4.5" dy="-5">high</tspan></text>
<text x="397.8" y="449.2" font-size="12.8" font-weight="bold" text-anchor="middle" transform="rotate(-90 397.8 449.2)">Cell number (x10<tspan font-size="10" dy="-5">4</tspan><tspan dy="5"> )</tspan></text>
<line x1="421" y1="401.5" x2="421" y2="505.8" stroke="#111" stroke-width="1.5"/>
<line x1="420.3" y1="505.2" x2="474" y2="505.2" stroke="#111" stroke-width="1.5"/>
<line x1="417.5" y1="477.40000000000003" x2="421" y2="477.40000000000003" stroke="#111" stroke-width="1.2"/>
<text x="414.8" y="481.90000000000003" font-size="12.5" font-weight="bold" text-anchor="end">5</text>
<line x1="417.5" y1="449.0" x2="421" y2="449.0" stroke="#111" stroke-width="1.2"/>
<text x="414.8" y="453.5" font-size="12.5" font-weight="bold" text-anchor="end">10</text>
<line x1="417.5" y1="420.6" x2="421" y2="420.6" stroke="#111" stroke-width="1.2"/>
<text x="414.8" y="425.1" font-size="12.5" font-weight="bold" text-anchor="end">15</text>
<line x1="419" y1="491.6" x2="421" y2="491.6" stroke="#111" stroke-width="1.0"/>
<line x1="419" y1="463.20000000000005" x2="421" y2="463.20000000000005" stroke="#111" stroke-width="1.0"/>
<line x1="419" y1="434.8" x2="421" y2="434.8" stroke="#111" stroke-width="1.0"/>
<rect x="429.50" y="436.00" width="17.50" height="69.20" fill="#0a0a0a"/>
<line x1="438.25" y1="415.5" x2="438.25" y2="436.5" stroke="#111" stroke-width="1.25"/>
<line x1="434.55" y1="415.7" x2="441.95" y2="415.7" stroke="#111" stroke-width="1.6"/>
<rect x="454.00" y="500.60" width="17.50" height="4.60" fill="#a9a9a9"/>
<line x1="462.75" y1="498.8" x2="462.75" y2="501.1" stroke="#111" stroke-width="1.25"/>
<line x1="459.05" y1="499.0" x2="466.45" y2="499.0" stroke="#111" stroke-width="1.6"/>
<text x="426" y="409.5" font-size="10.5" fill="#222"><tspan font-style="italic">P</tspan> &lt; .0001</text>
<text x="429.6" y="521" font-size="14.8" font-weight="bold">Kit<tspan font-size="8.5" dx="4" dy="-5">high</tspan></text>
<text x="1" y="559.8" font-size="17.5" font-weight="bold">D</text>
<text x="160.8" y="557" font-size="15.1" font-weight="bold" text-anchor="middle">B cell reconstitution</text>
<text x="415" y="557" font-size="15.5" font-weight="bold" text-anchor="middle">T cell reconstitution</text>
<text x="177.5" y="764.3" font-size="15" font-weight="bold">Time after reconstitution (weeks)</text>
<line x1="52.5" y1="593.8" x2="52.5" y2="730.7" stroke="#111" stroke-width="1.5"/>
<line x1="51.8" y1="730" x2="251.3" y2="730" stroke="#111" stroke-width="1.5"/>
<line x1="48.5" y1="723.8" x2="52.5" y2="723.8" stroke="#111" stroke-width="1.2"/>
<text x="45.9" y="728.5" font-size="13" font-weight="bold" text-anchor="end">0</text>
<line x1="50.3" y1="711.4" x2="52.5" y2="711.4" stroke="#111" stroke-width="1.0"/>
<line x1="48.5" y1="699.04" x2="52.5" y2="699.04" stroke="#111" stroke-width="1.2"/>
<text x="45.9" y="703.74" font-size="13" font-weight="bold" text-anchor="end">20</text>
<line x1="50.3" y1="686.64" x2="52.5" y2="686.64" stroke="#111" stroke-width="1.0"/>
<line x1="48.5" y1="674.28" x2="52.5" y2="674.28" stroke="#111" stroke-width="1.2"/>
<text x="45.9" y="678.98" font-size="13" font-weight="bold" text-anchor="end">40</text>
<line x1="50.3" y1="661.88" x2="52.5" y2="661.88" stroke="#111" stroke-width="1.0"/>
<line x1="48.5" y1="649.52" x2="52.5" y2="649.52" stroke="#111" stroke-width="1.2"/>
<text x="45.9" y="654.22" font-size="13" font-weight="bold" text-anchor="end">60</text>
<line x1="50.3" y1="637.12" x2="52.5" y2="637.12" stroke="#111" stroke-width="1.0"/>
<line x1="48.5" y1="624.76" x2="52.5" y2="624.76" stroke="#111" stroke-width="1.2"/>
<text x="45.9" y="629.46" font-size="13" font-weight="bold" text-anchor="end">80</text>
<line x1="50.3" y1="612.36" x2="52.5" y2="612.36" stroke="#111" stroke-width="1.0"/>
<line x1="48.5" y1="600.0" x2="52.5" y2="600.0" stroke="#111" stroke-width="1.2"/>
<text x="45.9" y="604.7" font-size="13" font-weight="bold" text-anchor="end">100</text>
<line x1="73" y1="730" x2="73" y2="734.5" stroke="#111" stroke-width="1.3"/>
<text x="73" y="748.2" font-size="15.3" font-weight="bold" text-anchor="middle">4</text>
<line x1="125" y1="730" x2="125" y2="734.5" stroke="#111" stroke-width="1.3"/>
<text x="125" y="748.2" font-size="15.3" font-weight="bold" text-anchor="middle">6</text>
<line x1="175" y1="730" x2="175" y2="734.5" stroke="#111" stroke-width="1.3"/>
<text x="175" y="748.2" font-size="15.3" font-weight="bold" text-anchor="middle">8</text>
<line x1="225" y1="730" x2="225" y2="734.5" stroke="#111" stroke-width="1.3"/>
<text x="225" y="748.2" font-size="15.3" font-weight="bold" text-anchor="middle">15</text>
<text x="20.2" y="659.8" font-size="13.2" font-weight="bold" text-anchor="middle" transform="rotate(-90 20.2 659.8)">% CD45.2<tspan font-size="10.5" dy="-5.5">+</tspan><tspan dy="5.5"> of all B cells</tspan></text>
<line x1="320" y1="593.8" x2="320" y2="730.7" stroke="#111" stroke-width="1.5"/>
<line x1="319.3" y1="730" x2="518" y2="730" stroke="#111" stroke-width="1.5"/>
<line x1="316" y1="723.8" x2="320" y2="723.8" stroke="#111" stroke-width="1.2"/>
<text x="313.4" y="728.5" font-size="13" font-weight="bold" text-anchor="end">0</text>
<line x1="317.8" y1="711.4" x2="320" y2="711.4" stroke="#111" stroke-width="1.0"/>
<line x1="316" y1="699.04" x2="320" y2="699.04" stroke="#111" stroke-width="1.2"/>
<text x="313.4" y="703.74" font-size="13" font-weight="bold" text-anchor="end">20</text>
<line x1="317.8" y1="686.64" x2="320" y2="686.64" stroke="#111" stroke-width="1.0"/>
<line x1="316" y1="674.28" x2="320" y2="674.28" stroke="#111" stroke-width="1.2"/>
<text x="313.4" y="678.98" font-size="13" font-weight="bold" text-anchor="end">40</text>
<line x1="317.8" y1="661.88" x2="320" y2="661.88" stroke="#111" stroke-width="1.0"/>
<line x1="316" y1="649.52" x2="320" y2="649.52" stroke="#111" stroke-width="1.2"/>
<text x="313.4" y="654.22" font-size="13" font-weight="bold" text-anchor="end">60</text>
<line x1="317.8" y1="637.12" x2="320" y2="637.12" stroke="#111" stroke-width="1.0"/>
<line x1="316" y1="624.76" x2="320" y2="624.76" stroke="#111" stroke-width="1.2"/>
<text x="313.4" y="629.46" font-size="13" font-weight="bold" text-anchor="end">80</text>
<line x1="317.8" y1="612.36" x2="320" y2="612.36" stroke="#111" stroke-width="1.0"/>
<line x1="316" y1="600.0" x2="320" y2="600.0" stroke="#111" stroke-width="1.2"/>
<text x="313.4" y="604.7" font-size="13" font-weight="bold" text-anchor="end">100</text>
<line x1="345.5" y1="730" x2="345.5" y2="734.5" stroke="#111" stroke-width="1.3"/>
<text x="345.5" y="748.2" font-size="15.3" font-weight="bold" text-anchor="middle">4</text>
<line x1="394.4" y1="730" x2="394.4" y2="734.5" stroke="#111" stroke-width="1.3"/>
<text x="394.4" y="748.2" font-size="15.3" font-weight="bold" text-anchor="middle">6</text>
<line x1="444.2" y1="730" x2="444.2" y2="734.5" stroke="#111" stroke-width="1.3"/>
<text x="444.2" y="748.2" font-size="15.3" font-weight="bold" text-anchor="middle">8</text>
<line x1="491" y1="730" x2="491" y2="734.5" stroke="#111" stroke-width="1.3"/>
<text x="491" y="748.2" font-size="15.3" font-weight="bold" text-anchor="middle">15</text>
<text x="287.6" y="659.8" font-size="13.2" font-weight="bold" text-anchor="middle" transform="rotate(-90 287.6 659.8)">% CD45.2<tspan font-size="10.5" dy="-5.5">+</tspan><tspan dy="5.5"> of all T cells</tspan></text>
<circle cx="66.8" cy="610.8" r="2.9" fill="#0a0a0a"/>
<circle cx="66.3" cy="635.5" r="2.9" fill="#0a0a0a"/>
<circle cx="70.8" cy="638.3" r="2.9" fill="#0a0a0a"/>
<circle cx="66.3" cy="646.3" r="2.9" fill="#0a0a0a"/>
<circle cx="59.3" cy="659.5" r="2.9" fill="#0a0a0a"/>
<circle cx="66.8" cy="662" r="2.9" fill="#0a0a0a"/>
<circle cx="66.8" cy="681" r="2.9" fill="#0a0a0a"/>
<line x1="59.3" y1="647" x2="73.8" y2="647" stroke="#111" stroke-width="1.5"/>
<line x1="76.3" y1="706.8" x2="91.3" y2="706.8" stroke="#111" stroke-width="1.5"/>
<circle cx="83.8" cy="675.5" r="2.3" fill="#fff" stroke="#111" stroke-width="1.3"/>
<circle cx="83.8" cy="685.5" r="2.3" fill="#fff" stroke="#111" stroke-width="1.3"/>
<circle cx="83.8" cy="705.8" r="2.3" fill="#fff" stroke="#111" stroke-width="1.3"/>
<circle cx="83.8" cy="714.5" r="2.3" fill="#fff" stroke="#111" stroke-width="1.3"/>
<circle cx="80" cy="721.8" r="2.3" fill="#fff" stroke="#111" stroke-width="1.3"/>
<circle cx="83.8" cy="723.8" r="2.3" fill="#fff" stroke="#111" stroke-width="1.3"/>
<circle cx="87.5" cy="723.8" r="2.3" fill="#fff" stroke="#111" stroke-width="1.3"/>
<path d="M64.5 596 V592 H83.5 V596" fill="none" stroke="#111" stroke-width="1.2"/>
<text x="52.5" y="587.5" font-size="10.5" fill="#222"><tspan font-style="italic">P</tspan> = .0002</text>
<circle cx="110" cy="606.8" r="2.9" fill="#0a0a0a"/>
<circle cx="117.5" cy="608.8" r="2.9" fill="#0a0a0a"/>
<circle cx="121.3" cy="604.5" r="2.9" fill="#0a0a0a"/>
<circle cx="121.3" cy="641.8" r="2.9" fill="#0a0a0a"/>
<circle cx="117.5" cy="651" r="2.9" fill="#0a0a0a"/>
<circle cx="117.5" cy="676.8" r="2.9" fill="#0a0a0a"/>
<circle cx="117.5" cy="703.3" r="2.9" fill="#0a0a0a"/>
<line x1="110.5" y1="641.3" x2="122.5" y2="641.3" stroke="#111" stroke-width="1.5"/>
<line x1="126.3" y1="710" x2="141.3" y2="710" stroke="#111" stroke-width="1.5"/>
<circle cx="134.3" cy="651.3" r="2.3" fill="#fff" stroke="#111" stroke-width="1.3"/>
<circle cx="135.5" cy="715.5" r="2.3" fill="#fff" stroke="#111" stroke-width="1.3"/>
<circle cx="132.5" cy="718.8" r="2.3" fill="#fff" stroke="#111" stroke-width="1.3"/>
<circle cx="136.3" cy="719.5" r="2.3" fill="#fff" stroke="#111" stroke-width="1.3"/>
<circle cx="130" cy="723" r="2.3" fill="#fff" stroke="#111" stroke-width="1.3"/>
<circle cx="134.3" cy="724.3" r="2.3" fill="#fff" stroke="#111" stroke-width="1.3"/>
<circle cx="138" cy="723" r="2.3" fill="#fff" stroke="#111" stroke-width="1.3"/>
<path d="M116.8 582 V578 H136.3 V582" fill="none" stroke="#111" stroke-width="1.2"/>
<text x="102.5" y="573.8" font-size="10.5" fill="#222"><tspan font-style="italic">P</tspan> = .0021</text>
<circle cx="164.5" cy="605" r="2.9" fill="#0a0a0a"/>
<circle cx="168.3" cy="606.3" r="2.9" fill="#0a0a0a"/>
<circle cx="172" cy="605.5" r="2.9" fill="#0a0a0a"/>
<circle cx="160.8" cy="652.5" r="2.9" fill="#0a0a0a"/>
<circle cx="168.3" cy="658.8" r="2.9" fill="#0a0a0a"/>
<circle cx="172" cy="670" r="2.9" fill="#0a0a0a"/>
<circle cx="168" cy="673.8" r="2.9" fill="#0a0a0a"/>
<line x1="160.5" y1="638.3" x2="175" y2="638.3" stroke="#111" stroke-width="1.5"/>
<line x1="180" y1="711.3" x2="191.8" y2="711.3" stroke="#111" stroke-width="1.5"/>
<circle cx="185" cy="678.8" r="2.3" fill="#fff" stroke="#111" stroke-width="1.3"/>
<circle cx="177.5" cy="710" r="2.3" fill="#fff" stroke="#111" stroke-width="1.3"/>
<circle cx="185" cy="715" r="2.3" fill="#fff" stroke="#111" stroke-width="1.3"/>
<circle cx="181.3" cy="723.3" r="2.3" fill="#fff" stroke="#111" stroke-width="1.3"/>
<circle cx="185" cy="724.3" r="2.3" fill="#fff" stroke="#111" stroke-width="1.3"/>
<circle cx="188.8" cy="723.3" r="2.3" fill="#fff" stroke="#111" stroke-width="1.3"/>
<path d="M168.3 595.8 V591.8 H187 V595.8" fill="none" stroke="#111" stroke-width="1.2"/>
<text x="152.5" y="587" font-size="10.5" fill="#222"><tspan font-style="italic">P</tspan> = .0004</text>
<circle cx="215" cy="604.5" r="2.9" fill="#0a0a0a"/>
<circle cx="218.8" cy="605" r="2.9" fill="#0a0a0a"/>
<circle cx="222.5" cy="604.5" r="2.9" fill="#0a0a0a"/>
<circle cx="211.3" cy="625" r="2.9" fill="#0a0a0a"/>
<circle cx="218" cy="631.3" r="2.9" fill="#0a0a0a"/>
<circle cx="222.5" cy="673.8" r="2.9" fill="#0a0a0a"/>
<circle cx="218.8" cy="678.8" r="2.9" fill="#0a0a0a"/>
<line x1="211.3" y1="631.3" x2="226.3" y2="631.3" stroke="#111" stroke-width="1.5"/>
<line x1="228.8" y1="715.5" x2="242.5" y2="715.5" stroke="#111" stroke-width="1.5"/>
<circle cx="235.5" cy="695.8" r="2.3" fill="#fff" stroke="#111" stroke-width="1.3"/>
<circle cx="231.3" cy="718.4" r="2.3" fill="#fff" stroke="#111" stroke-width="1.3"/>
<circle cx="237.4" cy="718" r="2.3" fill="#fff" stroke="#111" stroke-width="1.3"/>
<circle cx="239.2" cy="723.4" r="2.3" fill="#fff" stroke="#111" stroke-width="1.3"/>
<circle cx="235.4" cy="724.6" r="2.3" fill="#fff" stroke="#111" stroke-width="1.3"/>
<path d="M218.8 582 V578 H236.3 V582" fill="none" stroke="#111" stroke-width="1.2"/>
<text x="199.5" y="573.2" font-size="10.5" fill="#222"><tspan font-style="italic">P</tspan> = .0003</text>
<circle cx="327.5" cy="600" r="2.9" fill="#0a0a0a"/>
<circle cx="335" cy="606.8" r="2.9" fill="#0a0a0a"/>
<circle cx="339.3" cy="618.8" r="2.9" fill="#0a0a0a"/>
<circle cx="335" cy="623.8" r="2.9" fill="#0a0a0a"/>
<circle cx="335" cy="632.5" r="2.9" fill="#0a0a0a"/>
<circle cx="335" cy="645.5" r="2.9" fill="#0a0a0a"/>
<line x1="327" y1="620" x2="341.3" y2="620" stroke="#111" stroke-width="1.5"/>
<line x1="348" y1="701.8" x2="363" y2="701.8" stroke="#111" stroke-width="1.5"/>
<circle cx="356.3" cy="613.8" r="2.3" fill="#fff" stroke="#111" stroke-width="1.3"/>
<circle cx="352.5" cy="723.8" r="2.3" fill="#fff" stroke="#111" stroke-width="1.3"/>
<circle cx="356.8" cy="723.8" r="2.3" fill="#fff" stroke="#111" stroke-width="1.3"/>
<circle cx="360" cy="723.8" r="2.3" fill="#fff" stroke="#111" stroke-width="1.3"/>
<path d="M323.8 596 V592 H345.5 V596" fill="none" stroke="#111" stroke-width="1.2"/>
<text x="310.5" y="587" font-size="10.5" fill="#222"><tspan font-style="italic">P</tspan> = .0041</text>
<circle cx="376.8" cy="612.5" r="2.9" fill="#0a0a0a"/>
<circle cx="380.5" cy="610.5" r="2.9" fill="#0a0a0a"/>
<circle cx="384.3" cy="604.5" r="2.9" fill="#0a0a0a"/>
<circle cx="387.5" cy="612" r="2.9" fill="#0a0a0a"/>
<circle cx="384.3" cy="615.5" r="2.9" fill="#0a0a0a"/>
<circle cx="384.3" cy="638.3" r="2.9" fill="#0a0a0a"/>
<line x1="375" y1="614.8" x2="390.5" y2="614.8" stroke="#111" stroke-width="1.5"/>
<line x1="397.5" y1="693" x2="412.5" y2="693" stroke="#111" stroke-width="1.5"/>
<circle cx="405" cy="602.5" r="2.3" fill="#fff" stroke="#111" stroke-width="1.3"/>
<circle cx="404.5" cy="692.5" r="2.3" fill="#fff" stroke="#111" stroke-width="1.3"/>
<circle cx="401.3" cy="723.8" r="2.3" fill="#fff" stroke="#111" stroke-width="1.3"/>
<circle cx="405" cy="723.8" r="2.3" fill="#fff" stroke="#111" stroke-width="1.3"/>
<circle cx="408.8" cy="723.8" r="2.3" fill="#fff" stroke="#111" stroke-width="1.3"/>
<path d="M376.3 582.8 V578.8 H397.5 V582.8" fill="none" stroke="#111" stroke-width="1.2"/>
<text x="362" y="573.8" font-size="10.5" fill="#222"><tspan font-style="italic">P</tspan> = .0062</text>
<circle cx="425.5" cy="604.5" r="2.9" fill="#0a0a0a"/>
<circle cx="432.5" cy="606.3" r="2.9" fill="#0a0a0a"/>
<circle cx="436.3" cy="604.3" r="2.9" fill="#0a0a0a"/>
<circle cx="432.5" cy="627.5" r="2.9" fill="#0a0a0a"/>
<circle cx="432.5" cy="659.2" r="2.9" fill="#0a0a0a"/>
<circle cx="432.5" cy="688" r="2.9" fill="#0a0a0a"/>
<line x1="425.5" y1="631.3" x2="440" y2="631.3" stroke="#111" stroke-width="1.5"/>
<line x1="446.3" y1="692.5" x2="460.5" y2="692.5" stroke="#111" stroke-width="1.5"/>
<circle cx="453.8" cy="603" r="2.3" fill="#fff" stroke="#111" stroke-width="1.3"/>
<circle cx="453.8" cy="695.8" r="2.3" fill="#fff" stroke="#111" stroke-width="1.3"/>
<circle cx="450" cy="718" r="2.3" fill="#fff" stroke="#111" stroke-width="1.3"/>
<circle cx="453.8" cy="723.8" r="2.3" fill="#fff" stroke="#111" stroke-width="1.3"/>
<circle cx="457.5" cy="723" r="2.3" fill="#fff" stroke="#111" stroke-width="1.3"/>
<path d="M427 596 V592 H448.8 V596" fill="none" stroke="#111" stroke-width="1.2"/>
<text x="415" y="587" font-size="10.5" fill="#222"><tspan font-style="italic">P</tspan> = .044</text>
<circle cx="478.1" cy="601.9" r="2.9" fill="#0a0a0a"/>
<circle cx="485.4" cy="603.3" r="2.9" fill="#0a0a0a"/>
<circle cx="474.4" cy="610.4" r="2.9" fill="#0a0a0a"/>
<circle cx="481.5" cy="610.4" r="2.9" fill="#0a0a0a"/>
<circle cx="481.5" cy="671.2" r="2.9" fill="#0a0a0a"/>
<circle cx="481.5" cy="701.5" r="2.9" fill="#0a0a0a"/>
<circle cx="481.5" cy="723.7" r="2.9" fill="#0a0a0a"/>
<line x1="474.2" y1="645.6" x2="488.8" y2="645.6" stroke="#111" stroke-width="1.5"/>
<line x1="495" y1="700" x2="509.8" y2="700" stroke="#111" stroke-width="1.5"/>
<circle cx="502.7" cy="605.6" r="2.3" fill="#fff" stroke="#111" stroke-width="1.3"/>
<circle cx="502.3" cy="705.2" r="2.3" fill="#fff" stroke="#111" stroke-width="1.3"/>
<circle cx="498.8" cy="723.1" r="2.3" fill="#fff" stroke="#111" stroke-width="1.3"/>
<circle cx="503.1" cy="724" r="2.3" fill="#fff" stroke="#111" stroke-width="1.3"/>
<circle cx="506.5" cy="723.7" r="2.3" fill="#fff" stroke="#111" stroke-width="1.3"/>
<circle cx="504.6" cy="721.5" r="2.3" fill="#fff" stroke="#111" stroke-width="1.3"/>
<path d="M478.3 582.7 V578.7 H499.8 V582.7" fill="none" stroke="#111" stroke-width="1.2"/>
<text x="463.3" y="573.5" font-size="10.5" fill="#222"><tspan font-style="italic">P</tspan> = .0755</text>
</svg>
</body></html>
